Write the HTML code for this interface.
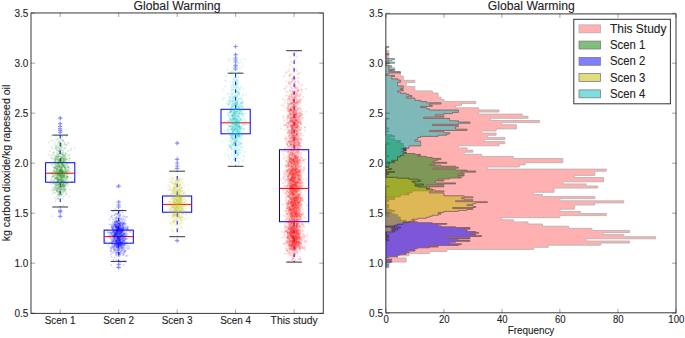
<!DOCTYPE html>
<html><head><meta charset="utf-8"><style>
html,body{margin:0;padding:0;background:#fff;overflow:hidden}
svg{display:block}
text{font-family:"Liberation Sans",sans-serif;fill:#222;stroke:#222;stroke-width:0.1px}
.ti{font-size:12px}
.tk{font-size:10px}
.lg{font-size:12px}
.yl{font-size:10.5px}
</style></head><body>
<svg width="685" height="338" viewBox="0 0 685 338">
<rect width="685" height="338" fill="#fff"/>
<path d="M60.2 162.7V135.1M60.2 182.2V207.0" stroke="#0000ff" stroke-width="1.0" stroke-dasharray="3.6 4.1" stroke-dashoffset="6.7" fill="none"/><path d="M52.3 135.1H68.1M52.3 207.0H68.1" stroke="#000" stroke-opacity="0.8" stroke-width="1.0" fill="none"/><rect x="45.6" y="162.7" width="29.2" height="19.5" stroke="#0000ff" stroke-width="1.0" fill="none"/><path d="M45.6 173.2H74.8" stroke="#ff0000" stroke-width="1.0"/><path d="M58.1 118.1h4.2M60.2 116.0v4.2M58.1 123.6h4.2M60.2 121.5v4.2M58.1 126.3h4.2M60.2 124.2v4.2M58.1 128.9h4.2M60.2 126.8v4.2M58.1 130.7h4.2M60.2 128.6v4.2M58.1 132.5h4.2M60.2 130.4v4.2M58.1 210.7h4.2M60.2 208.6v4.2M58.1 211.9h4.2M60.2 209.8v4.2M58.1 216.3h4.2M60.2 214.2v4.2" stroke="#3030ff" stroke-opacity="0.55" stroke-width="1.2" fill="none"/>
<path d="M118.7 230.1V210.6M118.7 243.2V261.4" stroke="#0000ff" stroke-width="1.0" stroke-dasharray="3.6 4.1" stroke-dashoffset="6.7" fill="none"/><path d="M110.8 210.6H126.6M110.8 261.4H126.6" stroke="#000" stroke-opacity="0.8" stroke-width="1.0" fill="none"/><rect x="104.1" y="230.1" width="29.2" height="13.1" stroke="#0000ff" stroke-width="1.0" fill="none"/><path d="M104.1 236.6H133.3" stroke="#ff0000" stroke-width="1.0"/><path d="M116.6 186.2h4.2M118.7 184.1v4.2M116.6 202.2h4.2M118.7 200.1v4.2M116.6 205.0h4.2M118.7 202.9v4.2M116.6 207.0h4.2M118.7 204.9v4.2M116.6 264.4h4.2M118.7 262.3v4.2M116.6 267.3h4.2M118.7 265.2v4.2" stroke="#3030ff" stroke-opacity="0.55" stroke-width="1.2" fill="none"/>
<path d="M177.2 196.0V171.2M177.2 212.2V236.7" stroke="#0000ff" stroke-width="1.0" stroke-dasharray="3.6 4.1" stroke-dashoffset="6.7" fill="none"/><path d="M169.3 171.2H185.0M169.3 236.7H185.0" stroke="#000" stroke-opacity="0.8" stroke-width="1.0" fill="none"/><rect x="162.5" y="196.0" width="29.2" height="16.2" stroke="#0000ff" stroke-width="1.0" fill="none"/><path d="M162.5 204.4H191.8" stroke="#ff0000" stroke-width="1.0"/><path d="M175.1 143.1h4.2M177.2 141.0v4.2M175.1 159.4h4.2M177.2 157.3v4.2M175.1 163.0h4.2M177.2 160.9v4.2M175.1 166.0h4.2M177.2 163.9v4.2M175.1 168.3h4.2M177.2 166.2v4.2M175.1 240.7h4.2M177.2 238.6v4.2" stroke="#3030ff" stroke-opacity="0.55" stroke-width="1.2" fill="none"/>
<path d="M235.6 109.3V73.2M235.6 133.8V166.3" stroke="#0000ff" stroke-width="1.0" stroke-dasharray="3.6 4.1" stroke-dashoffset="6.7" fill="none"/><path d="M227.7 73.2H243.5M227.7 166.3H243.5" stroke="#000" stroke-opacity="0.8" stroke-width="1.0" fill="none"/><rect x="221.0" y="109.3" width="29.2" height="24.5" stroke="#0000ff" stroke-width="1.0" fill="none"/><path d="M221.0 122.8H250.2" stroke="#ff0000" stroke-width="1.0"/><path d="M233.5 46.5h4.2M235.6 44.4v4.2M233.5 54.7h4.2M235.6 52.6v4.2M233.5 58.0h4.2M235.6 55.9v4.2M233.5 60.0h4.2M235.6 57.9v4.2M233.5 62.0h4.2M235.6 59.9v4.2M233.5 65.3h4.2M235.6 63.2v4.2M233.5 67.0h4.2M235.6 64.9v4.2M233.5 69.0h4.2M235.6 66.9v4.2" stroke="#3030ff" stroke-opacity="0.55" stroke-width="1.2" fill="none"/>
<path d="M294.1 149.7V50.7M294.1 221.7V262.1" stroke="#0000ff" stroke-width="1.0" stroke-dasharray="3.6 4.1" stroke-dashoffset="6.7" fill="none"/><path d="M286.2 50.7H302.0M286.2 262.1H302.0" stroke="#000" stroke-opacity="0.8" stroke-width="1.0" fill="none"/><rect x="279.5" y="149.7" width="29.2" height="72.0" stroke="#0000ff" stroke-width="1.0" fill="none"/><path d="M279.5 188.4H308.7" stroke="#ff0000" stroke-width="1.0"/>
<g stroke="#008000" stroke-opacity="0.15" stroke-width="1.9" stroke-linecap="round" fill="none"><path d="M64.9 160.7h0M68.1 169.3h0M59.5 170.9h0M64.7 169.9h0M63.6 172.1h0M56.3 162.5h0M56.3 146.5h0M59.7 194.4h0M58.6 182.2h0M55.7 156.8h0M57.5 183.1h0M55.5 186.9h0M62.4 170.7h0M61.4 171.2h0M57.8 147.5h0M58.1 188.5h0M61.3 183.3h0M61.0 173.4h0M63.7 189.6h0M51.7 158.3h0M67.6 166.9h0M56.5 177.8h0M55.1 173.4h0M66.2 179.2h0M63.5 171.2h0M64.8 171.9h0M64.5 175.7h0M58.1 154.3h0M60.7 171.5h0M62.0 186.8h0M57.2 168.7h0M67.4 170.8h0M54.4 188.7h0M66.5 161.4h0M60.5 173.8h0M57.4 150.2h0M54.8 192.8h0"/><path d="M61.7 194.4h0M48.4 155.2h0M58.4 190.1h0M65.6 163.5h0M57.9 174.1h0M62.7 170.1h0M61.4 156.7h0M58.5 191.6h0M58.8 166.2h0M52.9 190.5h0M63.8 192.8h0M54.8 188.4h0M58.2 148.5h0M49.9 151.1h0M60.5 170.1h0M53.3 152.8h0M64.0 159.0h0M61.2 192.7h0M58.1 184.9h0M57.7 163.1h0M64.3 159.5h0M59.1 160.2h0M60.0 167.1h0M61.4 166.9h0M51.0 172.6h0M53.8 186.6h0M59.8 153.5h0M59.3 171.2h0M55.6 178.5h0M56.0 167.9h0M62.8 198.8h0M59.6 166.8h0M52.7 176.5h0M61.9 167.3h0M58.7 167.6h0M60.0 175.8h0M63.8 161.9h0"/><path d="M57.5 166.2h0M65.2 179.7h0M64.7 168.0h0M55.0 178.9h0M69.9 189.5h0M58.4 175.1h0M51.7 146.6h0M60.8 161.6h0M68.2 167.9h0M61.5 187.1h0M68.0 142.6h0M64.4 142.3h0M63.6 180.2h0M63.6 205.5h0M67.2 163.9h0M67.2 177.6h0M59.1 170.9h0M58.7 173.2h0M56.9 192.1h0M61.6 161.7h0M55.6 155.6h0M63.1 180.2h0M67.8 169.9h0M55.1 144.9h0M53.9 171.6h0M63.6 172.2h0M60.7 161.2h0M56.9 169.5h0M52.5 183.5h0M61.1 177.0h0M50.0 173.5h0M61.1 206.7h0M54.4 167.3h0M62.3 169.0h0M55.2 162.4h0M57.9 154.0h0M53.6 158.8h0"/><path d="M55.3 177.6h0M53.2 162.0h0M54.5 176.0h0M63.7 165.7h0M57.0 159.5h0M65.6 185.5h0M60.2 180.3h0M59.1 151.8h0M62.8 164.7h0M63.4 191.3h0M62.9 166.2h0M58.5 163.4h0M65.0 168.0h0M67.4 173.9h0M64.0 186.0h0M64.9 172.3h0M59.4 186.7h0M59.1 188.6h0M62.2 175.1h0M60.2 169.4h0M66.7 173.2h0M56.7 172.1h0M65.0 167.8h0M57.4 172.7h0M58.7 180.3h0M59.4 193.2h0M66.2 171.0h0M59.3 194.6h0M64.1 176.7h0M59.7 170.2h0M63.3 162.3h0M62.7 175.1h0M59.6 160.3h0M58.9 151.2h0M58.8 186.9h0M56.2 148.5h0M59.9 174.3h0"/><path d="M62.3 171.1h0M56.6 183.1h0M61.1 184.3h0M60.7 172.5h0M59.0 193.5h0M52.5 174.3h0M61.9 163.5h0M59.1 161.6h0M52.6 188.2h0M59.3 180.1h0M58.9 184.5h0M57.1 196.6h0M67.2 183.0h0M54.1 152.2h0M55.7 185.3h0M63.8 188.2h0M64.6 147.9h0M59.3 190.5h0M63.4 182.1h0M60.6 187.8h0M60.0 190.4h0M63.6 176.4h0M55.1 160.7h0M57.9 194.5h0M56.4 135.9h0M62.6 169.8h0M57.0 166.2h0M58.2 181.0h0M60.8 176.0h0M57.7 178.9h0M58.3 198.6h0M55.6 163.3h0M62.3 189.9h0M57.5 158.6h0M53.5 174.5h0M62.9 180.7h0M55.4 168.4h0"/><path d="M64.9 186.6h0M58.8 188.2h0M59.0 150.5h0M55.5 168.0h0M65.0 168.7h0M55.5 156.6h0M57.7 189.7h0M61.5 175.7h0M66.2 156.6h0M60.7 145.9h0M57.8 159.8h0M59.2 174.4h0M61.4 181.0h0M61.3 180.7h0M68.1 167.1h0M62.9 154.4h0M65.3 156.1h0M55.8 147.0h0M58.0 198.9h0M57.3 191.4h0M62.7 189.5h0M68.7 170.9h0M62.0 178.6h0M52.6 177.1h0M63.1 164.2h0M60.4 180.1h0M59.6 149.6h0M59.8 196.1h0M64.2 165.5h0M65.6 178.1h0M61.8 146.6h0M58.5 162.8h0M58.8 179.9h0M51.7 216.2h0M63.7 173.4h0M60.2 140.7h0M59.6 172.5h0"/><path d="M54.6 197.8h0M58.0 165.5h0M53.5 176.5h0M67.4 134.9h0M68.1 166.4h0M60.8 183.8h0M62.6 162.4h0M60.2 159.0h0M60.7 146.6h0M67.4 171.6h0M59.8 162.3h0M62.4 194.3h0M64.6 166.2h0M60.7 181.8h0M55.6 167.0h0M60.2 148.5h0M58.9 173.8h0M68.3 143.4h0M65.9 167.2h0M67.9 176.7h0M64.9 166.5h0M66.2 168.2h0M58.3 162.2h0M58.7 160.6h0M61.9 185.5h0M62.4 179.7h0M63.1 155.1h0M64.1 159.5h0M55.8 177.9h0M60.2 187.0h0M61.5 195.2h0M63.4 179.8h0M62.8 177.9h0M55.4 178.4h0M57.1 179.2h0M63.1 165.7h0M56.9 178.2h0"/><path d="M59.1 151.7h0M64.7 181.1h0M54.8 178.4h0M62.6 176.1h0M55.8 165.1h0M66.2 145.0h0M61.1 167.9h0M57.5 177.8h0M61.8 172.1h0M61.8 164.7h0M61.5 169.8h0M51.7 180.1h0M67.8 177.2h0M56.2 188.9h0M63.6 181.3h0M56.5 177.7h0M58.7 163.4h0M64.3 170.5h0M63.0 141.4h0M68.0 151.0h0M66.1 164.9h0M67.9 155.4h0M64.7 161.8h0M61.5 175.2h0M60.9 156.9h0M66.4 177.6h0M60.8 178.9h0M60.1 145.7h0M60.4 170.2h0M52.8 155.1h0M63.8 170.8h0M64.7 184.6h0M69.2 155.8h0M56.4 166.1h0M62.5 186.4h0M58.9 182.6h0M59.8 188.6h0"/><path d="M66.4 169.2h0M65.4 188.8h0M61.5 180.7h0M64.4 174.8h0M65.5 159.6h0M55.8 182.3h0M55.7 171.9h0M62.9 158.4h0M66.2 169.5h0M63.0 140.7h0M58.8 187.8h0M62.1 179.6h0M56.9 176.8h0M59.9 189.9h0M62.7 175.2h0M55.2 201.4h0M62.8 184.4h0M65.1 154.6h0M59.9 167.1h0M57.9 179.3h0M60.8 162.9h0M63.7 178.9h0M56.4 156.6h0M63.5 165.6h0M62.9 185.0h0M63.6 187.6h0M59.5 175.9h0M62.6 173.1h0M62.0 147.5h0M55.6 162.1h0M69.0 196.4h0M58.5 180.9h0M60.8 158.9h0M57.4 175.6h0M63.5 196.6h0M62.3 150.8h0M61.8 145.4h0"/><path d="M55.5 159.1h0M61.0 159.7h0M59.4 164.7h0M53.5 183.2h0M59.3 168.4h0M55.3 174.7h0M59.6 160.5h0M59.2 166.4h0M55.9 184.4h0M56.2 178.7h0M64.9 167.1h0M60.4 165.4h0M62.4 174.2h0M68.1 186.2h0M57.4 194.5h0M61.5 171.8h0M59.7 190.2h0M59.3 173.7h0M61.8 177.3h0M61.3 171.2h0M66.0 159.3h0M64.9 183.4h0M59.5 176.5h0M59.1 175.7h0M56.9 152.6h0M65.3 158.2h0M54.1 190.2h0M59.1 186.1h0M61.2 161.3h0M57.0 176.9h0M57.3 172.2h0M64.2 156.6h0M61.1 172.3h0M62.0 136.2h0M66.9 175.8h0M62.6 185.6h0M63.8 152.2h0"/><path d="M59.9 173.3h0M57.6 172.4h0M60.2 162.5h0M57.3 185.2h0M63.6 165.8h0M60.6 167.9h0M60.9 172.7h0M59.6 191.7h0M64.2 166.7h0M61.4 181.5h0M64.2 177.8h0M54.9 172.5h0M59.5 141.4h0M61.7 182.9h0M58.0 187.3h0M62.0 185.6h0M54.5 167.4h0M62.4 177.7h0M55.4 172.9h0M74.8 148.2h0M61.6 170.4h0M65.6 165.6h0M59.9 177.6h0M60.1 179.6h0M62.9 171.3h0M55.5 171.8h0M60.9 118.3h0M61.9 159.2h0M54.3 162.7h0M58.7 175.8h0M60.8 160.5h0M58.0 142.7h0M59.9 159.9h0M64.1 177.6h0M62.8 185.0h0M61.0 144.2h0M60.9 158.0h0"/><path d="M62.1 188.8h0M58.1 163.1h0M56.2 168.0h0M56.7 170.8h0M64.4 189.3h0M55.8 167.0h0M54.9 170.9h0M51.7 157.7h0M58.0 175.1h0M58.6 156.4h0M51.5 190.4h0M62.3 171.9h0M56.1 139.6h0M58.9 173.8h0M62.3 173.2h0M60.2 175.5h0M56.6 158.1h0M56.5 173.1h0M60.0 178.6h0M63.1 187.5h0M59.9 166.1h0M56.7 168.8h0M61.2 180.1h0M59.0 178.8h0M65.6 160.0h0M58.2 182.1h0M61.6 189.7h0M57.2 167.8h0M57.7 181.4h0M63.1 160.8h0M59.1 174.2h0M62.9 163.6h0M63.8 184.6h0M60.4 169.5h0M58.8 180.5h0M61.7 179.9h0M59.7 156.6h0"/><path d="M61.1 188.9h0M68.9 170.8h0M59.2 184.0h0M58.0 189.0h0M52.3 193.7h0M59.2 192.5h0M60.4 187.6h0M61.1 169.1h0M65.0 167.2h0M61.8 177.6h0M63.7 182.1h0M60.5 164.3h0M62.3 176.8h0M61.6 184.7h0M57.8 179.3h0M70.8 177.8h0M57.5 182.5h0M56.8 165.4h0M59.4 169.8h0M57.9 170.4h0M59.5 172.7h0M62.8 176.1h0M56.1 198.7h0M62.4 165.3h0M60.0 187.4h0M65.2 190.4h0M60.5 175.1h0M67.3 183.5h0M61.0 144.7h0M60.7 184.2h0M63.2 139.9h0M51.1 180.8h0M65.0 143.7h0M70.7 150.3h0M62.0 170.0h0M52.0 176.4h0M60.7 158.5h0"/><path d="M64.6 156.0h0M62.2 164.7h0M67.9 166.7h0M58.0 166.8h0M60.7 181.0h0M54.0 175.9h0M59.5 170.2h0M54.1 183.2h0M65.9 176.4h0M60.6 171.4h0M53.5 140.8h0M63.6 183.0h0M60.4 143.4h0M60.1 174.6h0M63.0 171.4h0M66.3 192.7h0M61.1 159.2h0M61.7 173.3h0M65.3 162.8h0M57.4 191.1h0M59.1 164.9h0M55.3 183.0h0M65.8 153.7h0M69.9 158.5h0M50.7 155.6h0M59.8 169.8h0M56.6 164.6h0M63.3 186.5h0M64.3 186.3h0M63.2 154.3h0M54.6 171.1h0M56.2 164.2h0M63.8 177.0h0M60.8 148.9h0M60.6 174.3h0M63.0 153.1h0M52.0 162.5h0"/><path d="M62.5 191.9h0M65.4 171.6h0M61.3 179.0h0M52.1 178.5h0M71.1 148.8h0M70.1 171.8h0M66.4 164.8h0M60.2 175.9h0M57.4 179.7h0M63.9 155.4h0M64.1 191.5h0M63.6 186.1h0M61.0 177.0h0M69.6 158.2h0M61.0 143.7h0M58.1 162.0h0M56.5 156.3h0M58.5 173.7h0M57.3 189.8h0M64.8 155.2h0M55.5 142.9h0M63.3 160.2h0M63.4 174.8h0M59.4 147.8h0M62.5 181.5h0M66.5 177.0h0M67.8 174.3h0M62.3 140.1h0M61.4 139.0h0M59.8 171.3h0M65.1 182.7h0M54.2 180.3h0M53.1 174.3h0M64.5 186.5h0M61.2 149.9h0M60.8 178.3h0M67.5 158.9h0"/><path d="M58.9 177.7h0M64.4 144.4h0M55.7 176.4h0M55.8 173.4h0M61.2 188.3h0M52.4 148.7h0M59.1 195.1h0M63.4 157.8h0M58.7 194.3h0M66.3 182.3h0M63.1 173.0h0M63.0 167.2h0M55.3 162.0h0M61.5 163.3h0M63.8 172.5h0M64.6 173.2h0M62.7 172.2h0M59.1 161.3h0M61.8 169.7h0M62.1 156.1h0M63.2 183.9h0M57.7 183.3h0M57.7 174.3h0M58.8 183.5h0M63.4 165.5h0M61.0 188.6h0M61.1 186.9h0M66.0 183.5h0M65.9 173.3h0M53.5 170.0h0M64.5 185.0h0M60.0 190.2h0M62.6 174.8h0M70.2 168.4h0M67.8 172.7h0M65.2 147.4h0M51.4 135.7h0"/><path d="M54.8 158.1h0M55.7 161.2h0M61.2 154.5h0M58.2 128.3h0M58.8 178.3h0M61.5 174.1h0M59.7 192.1h0M65.9 172.2h0M61.5 171.6h0M64.5 189.6h0M67.8 163.3h0M66.2 183.4h0M57.2 184.5h0M61.6 179.7h0M63.6 184.5h0M63.1 176.2h0M61.6 168.2h0M67.9 184.0h0M63.4 159.4h0M55.8 174.9h0M63.4 163.4h0M64.4 171.5h0M54.7 160.8h0M65.8 154.1h0M67.8 183.1h0M58.4 178.1h0M60.5 142.7h0M57.9 172.3h0M58.3 195.9h0M61.6 181.1h0M66.8 159.2h0M62.5 165.8h0M66.8 171.3h0M56.7 169.3h0M53.1 171.7h0M59.3 152.0h0M57.2 157.0h0"/><path d="M62.4 156.9h0M62.6 163.6h0M55.6 159.7h0M60.7 179.8h0M58.9 151.3h0M55.8 186.7h0M63.3 167.4h0M58.6 159.4h0M65.3 153.1h0M50.9 140.2h0M61.4 181.7h0M64.5 174.9h0M57.4 163.8h0M57.2 173.9h0M65.8 169.4h0M65.4 195.0h0M60.7 146.5h0M57.7 187.8h0M57.4 177.8h0M59.6 149.6h0M64.0 190.1h0M57.0 166.6h0M63.0 172.0h0M63.8 148.7h0M55.5 166.3h0M58.6 176.8h0M57.5 139.6h0M58.0 182.0h0M59.3 161.7h0M61.0 171.0h0M56.6 190.7h0M66.6 182.4h0M61.9 178.3h0M63.5 150.3h0M58.3 164.8h0M58.0 180.2h0M57.4 169.5h0"/><path d="M60.1 179.8h0M61.8 189.5h0M57.6 185.2h0M53.0 164.9h0M54.0 182.9h0M66.6 162.7h0M56.7 188.0h0M60.7 176.1h0M63.8 160.5h0M55.0 158.8h0M60.7 186.4h0M59.4 170.2h0M69.5 154.5h0M54.7 159.8h0M60.2 177.1h0M59.4 170.4h0M66.1 172.5h0M57.0 180.7h0M58.6 171.0h0M62.8 185.0h0M64.3 176.2h0M59.8 167.0h0M63.5 177.4h0M62.6 182.6h0M59.4 183.5h0M69.0 167.3h0M62.1 183.5h0M61.4 166.2h0M67.8 176.8h0M59.7 155.7h0M57.8 138.4h0M58.9 165.6h0M65.3 191.2h0M56.6 174.4h0M60.0 153.4h0M61.8 191.6h0M66.8 173.7h0"/><path d="M60.7 185.2h0M53.2 167.5h0M60.7 167.4h0M69.1 160.5h0M57.5 179.4h0M61.1 174.9h0M61.9 171.8h0M65.9 178.7h0M62.6 161.2h0M65.4 175.0h0M60.5 171.2h0M68.1 179.2h0M62.1 167.4h0M53.9 189.9h0M61.1 193.7h0M64.0 185.9h0M61.7 186.8h0M65.1 167.4h0M54.4 192.6h0M59.3 171.8h0M63.0 158.2h0M63.1 183.1h0M51.8 172.3h0M62.2 183.2h0M64.4 178.6h0M59.5 179.9h0M55.4 148.4h0M60.7 192.7h0M54.9 184.5h0M60.8 186.8h0M57.5 160.0h0M65.4 177.0h0M66.0 158.1h0M51.7 164.6h0M62.3 182.0h0M52.5 173.8h0M64.6 159.5h0"/><path d="M64.1 175.7h0M58.5 158.3h0M65.7 188.7h0M65.7 181.6h0M60.3 173.7h0M59.7 183.4h0M58.8 184.8h0M61.1 189.5h0M61.1 175.7h0M59.6 163.4h0M59.2 142.3h0M62.9 173.6h0M58.6 156.6h0M61.1 166.0h0M61.3 176.6h0M46.6 177.6h0M61.5 160.9h0M57.8 168.4h0M55.7 184.2h0M60.4 160.4h0M64.4 158.0h0M59.6 165.6h0M60.5 195.1h0M60.8 195.5h0M71.9 181.6h0M57.2 162.9h0M58.5 159.2h0M54.4 168.6h0M63.6 162.4h0M67.0 180.1h0M54.1 167.6h0M64.4 181.0h0M57.6 176.0h0M59.0 163.5h0M66.5 145.0h0M61.1 170.9h0M63.5 184.3h0"/><path d="M56.5 157.3h0M62.1 163.2h0M58.7 198.2h0M56.5 190.4h0M66.8 176.1h0M50.6 183.5h0M71.9 181.1h0M58.6 191.9h0M62.7 182.1h0M62.4 175.9h0M58.1 173.0h0M57.2 185.6h0M64.5 174.6h0M61.5 158.2h0M58.8 155.1h0M66.8 176.6h0M56.4 171.1h0M62.5 162.0h0M61.4 186.3h0M60.5 159.3h0M61.3 177.7h0M53.8 154.4h0M64.1 182.9h0M57.9 157.3h0M64.3 164.6h0M56.2 174.5h0M55.4 159.3h0M66.8 194.2h0M61.5 152.5h0M60.8 169.1h0M61.9 171.7h0M56.6 148.8h0M63.6 175.8h0M59.3 143.9h0M57.9 174.6h0M56.2 184.2h0"/><path d="M60.3 175.2h0M58.4 146.3h0M57.4 175.5h0M58.1 162.1h0M58.8 154.4h0M53.7 163.2h0M65.5 171.4h0M61.5 161.1h0M58.4 167.3h0M57.6 155.8h0M61.1 131.2h0M57.0 145.1h0M55.6 189.5h0M60.8 175.7h0M57.8 163.7h0M61.8 164.1h0M60.9 169.8h0M49.0 142.6h0M60.8 173.0h0M56.5 190.8h0M61.3 154.0h0M56.9 170.7h0M60.8 193.4h0M61.9 158.9h0M62.8 156.3h0M65.4 169.9h0M56.1 169.1h0M62.4 136.9h0M61.5 160.8h0M60.7 169.5h0M65.7 189.5h0M57.4 178.7h0M63.9 187.2h0M66.5 136.1h0M59.3 166.6h0M55.0 169.0h0"/><path d="M61.4 167.6h0M60.9 184.1h0M69.1 162.7h0M63.7 158.3h0M66.0 185.5h0M61.5 170.4h0M62.1 143.8h0M59.4 171.5h0M58.3 156.7h0M54.3 170.8h0M59.1 185.9h0M62.1 173.9h0M62.2 153.2h0M57.6 181.1h0M62.7 181.6h0M57.3 170.8h0M61.4 158.2h0M63.9 157.5h0M62.3 171.8h0M61.6 162.6h0M53.6 180.9h0M56.9 186.6h0M57.2 182.1h0M56.8 150.6h0M64.1 161.2h0M63.6 180.4h0M59.8 169.5h0M56.9 154.5h0M62.6 154.7h0M55.3 187.2h0M56.3 188.3h0M56.5 159.7h0M58.0 168.3h0M54.0 172.7h0M55.4 164.7h0M61.1 177.2h0"/></g>
<g stroke="#0000ff" stroke-opacity="0.18" stroke-width="1.9" stroke-linecap="round" fill="none"><path d="M114.9 249.7h0M120.1 233.3h0M124.7 237.1h0M118.2 246.9h0M115.2 232.5h0M118.6 238.3h0M117.2 226.9h0M119.6 225.4h0M115.9 230.7h0M120.2 261.7h0M114.0 231.4h0M124.3 227.5h0M118.9 223.4h0M124.8 242.8h0M121.3 235.8h0M113.9 249.3h0M119.7 217.1h0M120.5 244.9h0M116.8 231.5h0M116.7 229.9h0M118.0 247.2h0M118.5 240.5h0M117.8 232.7h0M117.4 243.2h0M119.3 233.8h0M124.7 241.8h0M108.4 245.5h0M120.5 235.8h0M121.2 232.9h0M117.1 230.1h0M116.8 237.7h0M122.3 247.9h0M118.3 242.8h0M118.0 228.3h0M117.0 186.7h0M113.8 246.3h0M121.9 231.8h0M113.4 259.9h0M112.4 247.4h0"/><path d="M116.2 235.4h0M119.4 226.7h0M120.3 240.3h0M112.5 223.9h0M114.6 249.8h0M123.9 246.0h0M122.7 227.5h0M120.8 236.4h0M107.9 232.3h0M128.8 236.6h0M124.0 244.4h0M118.1 224.4h0M117.0 241.8h0M120.3 229.7h0M117.2 236.6h0M118.0 238.7h0M118.0 250.3h0M115.7 231.7h0M123.9 246.8h0M119.5 239.6h0M116.6 240.9h0M113.9 235.1h0M117.5 231.4h0M120.9 219.7h0M117.9 236.6h0M120.8 244.8h0M117.0 228.2h0M119.4 242.8h0M114.6 257.5h0M122.1 230.3h0M124.3 240.1h0M116.7 231.1h0M116.8 243.2h0M113.1 228.9h0M121.0 233.8h0M118.4 231.7h0M116.4 218.8h0M115.3 222.5h0M115.2 226.4h0"/><path d="M122.9 247.9h0M119.8 231.7h0M114.8 224.8h0M121.7 232.3h0M120.8 242.3h0M115.4 227.6h0M114.7 232.7h0M122.2 238.5h0M121.8 228.6h0M121.0 233.3h0M113.5 228.6h0M119.2 253.7h0M120.2 230.9h0M119.8 243.0h0M117.9 243.7h0M121.2 233.3h0M110.1 232.3h0M117.5 243.2h0M110.7 232.7h0M120.5 242.0h0M116.1 250.1h0M119.1 231.4h0M119.5 254.3h0M122.1 224.8h0M123.5 254.0h0M119.1 243.7h0M116.0 238.7h0M120.3 236.9h0M123.3 229.3h0M109.5 224.4h0M115.0 247.8h0M115.8 239.7h0M114.1 236.4h0M124.7 219.1h0M123.6 234.9h0M118.3 237.4h0M119.9 237.6h0M122.9 244.9h0M119.8 223.9h0"/><path d="M114.7 238.5h0M114.1 226.6h0M116.6 226.7h0M115.3 235.6h0M119.8 247.7h0M116.3 221.0h0M123.9 240.0h0M122.0 235.9h0M117.7 226.4h0M124.9 251.2h0M119.1 220.5h0M121.3 218.0h0M115.1 246.7h0M120.1 246.1h0M115.6 232.9h0M118.2 228.0h0M124.6 240.2h0M120.3 231.7h0M119.2 231.4h0M115.8 224.9h0M115.2 224.5h0M125.5 242.1h0M115.5 244.4h0M119.7 225.2h0M124.3 222.3h0M115.8 241.3h0M118.6 229.1h0M120.1 245.8h0M123.2 229.1h0M119.9 246.1h0M117.9 239.8h0M116.0 233.5h0M119.3 240.2h0M121.1 232.1h0M114.8 223.1h0M119.2 236.7h0M122.1 229.0h0M120.1 254.6h0M120.6 225.6h0"/><path d="M122.6 226.3h0M116.5 246.4h0M112.9 231.9h0M111.0 239.0h0M121.3 235.6h0M114.0 251.2h0M123.0 223.8h0M118.1 238.3h0M111.8 235.0h0M116.2 225.0h0M120.1 232.1h0M116.5 217.4h0M115.5 242.4h0M115.4 243.4h0M116.7 244.5h0M117.6 236.8h0M120.2 243.7h0M115.9 240.2h0M114.7 243.7h0M128.0 226.5h0M119.8 253.5h0M123.8 234.5h0M114.4 226.3h0M118.8 212.9h0M127.2 255.6h0M116.2 226.8h0M119.7 228.1h0M126.1 238.4h0M114.4 236.5h0M120.4 231.4h0M118.3 227.8h0M121.7 245.6h0M119.3 237.6h0M115.4 239.2h0M118.6 245.7h0M115.0 222.1h0M118.0 235.4h0M114.0 224.0h0M114.3 234.3h0"/><path d="M120.2 236.9h0M117.3 236.0h0M120.7 239.8h0M124.5 244.9h0M118.2 228.5h0M116.9 233.2h0M119.2 234.9h0M120.1 245.3h0M121.1 236.6h0M120.7 225.6h0M118.9 248.6h0M117.3 227.6h0M125.6 261.6h0M118.8 227.4h0M130.1 232.0h0M116.4 240.3h0M123.7 240.8h0M120.3 230.5h0M119.9 223.6h0M116.6 233.8h0M113.5 246.9h0M111.7 242.6h0M118.9 238.7h0M122.0 229.3h0M114.2 230.6h0M116.4 243.2h0M120.6 227.9h0M113.5 236.1h0M119.4 256.6h0M113.5 239.1h0M125.8 243.8h0M114.7 234.6h0M121.1 245.7h0M111.5 248.7h0M115.5 226.1h0M120.3 243.6h0M118.7 224.3h0M120.5 222.9h0M119.6 236.2h0"/><path d="M111.1 216.7h0M119.6 226.0h0M127.1 227.7h0M115.3 224.6h0M124.7 250.2h0M117.9 223.8h0M117.8 244.6h0M126.5 231.5h0M118.5 237.6h0M118.4 244.3h0M117.2 246.8h0M122.6 230.9h0M110.6 232.7h0M120.1 237.0h0M123.6 228.8h0M115.0 218.1h0M120.5 231.6h0M120.7 224.1h0M120.8 242.1h0M114.0 241.6h0M123.4 236.7h0M115.3 235.0h0M119.6 229.1h0M121.7 243.4h0M123.3 216.3h0M119.3 232.4h0M118.3 228.4h0M116.3 234.2h0M124.7 236.4h0M118.2 227.9h0M118.1 238.8h0M118.5 231.8h0M114.8 238.5h0M116.5 221.3h0M119.5 241.3h0M122.0 210.0h0M111.8 240.4h0M121.0 233.5h0M115.3 244.0h0"/><path d="M129.0 248.5h0M117.9 241.3h0M114.3 240.0h0M111.2 227.3h0M118.4 244.1h0M120.4 241.1h0M112.9 241.0h0M111.1 233.5h0M123.5 235.2h0M121.0 235.9h0M121.3 226.9h0M119.4 239.8h0M120.3 241.6h0M124.5 226.6h0M119.0 249.6h0M120.8 235.9h0M121.5 230.0h0M117.1 241.6h0M112.1 227.1h0M116.7 230.2h0M126.2 235.9h0M123.6 223.4h0M118.8 246.6h0M117.6 247.3h0M106.9 230.3h0M117.0 213.3h0M119.1 248.9h0M118.8 217.9h0M127.6 245.5h0M121.7 231.3h0M124.6 220.6h0M120.9 244.2h0M118.8 233.5h0M117.9 231.6h0M117.9 242.9h0M115.9 253.1h0M117.2 237.8h0M115.8 228.0h0M116.5 259.4h0"/><path d="M119.7 236.5h0M122.0 234.5h0M121.7 238.1h0M116.3 226.5h0M118.4 236.8h0M117.9 245.0h0M123.0 229.4h0M119.2 229.4h0M117.6 232.3h0M121.0 234.5h0M121.2 235.0h0M119.4 245.3h0M118.4 248.6h0M119.5 223.3h0M122.4 239.3h0M116.0 241.4h0M115.3 251.6h0M121.1 246.8h0M119.9 233.1h0M112.9 231.5h0M123.7 245.3h0M115.1 222.0h0M118.0 236.8h0M126.2 243.2h0M119.1 230.4h0M117.3 230.3h0M120.6 242.5h0M122.7 219.5h0M113.9 233.1h0M120.1 246.1h0M124.4 261.3h0M117.6 233.3h0M119.6 237.1h0M115.3 229.3h0M127.1 242.1h0M120.2 234.0h0M116.9 245.4h0M121.6 231.5h0M121.4 238.7h0"/><path d="M117.8 252.8h0M117.2 244.2h0M115.6 234.6h0M117.5 236.0h0M111.9 234.8h0M122.3 222.7h0M119.8 239.2h0M123.6 237.7h0M118.6 250.1h0M112.2 217.7h0M115.7 219.0h0M122.2 232.4h0M111.7 246.3h0M117.5 227.4h0M126.5 235.0h0M111.8 234.1h0M117.6 244.0h0M118.1 230.8h0M117.6 239.3h0M119.7 240.6h0M117.4 252.1h0M117.5 236.2h0M124.4 241.8h0M122.2 244.8h0M117.2 244.8h0M119.5 228.8h0M123.7 224.6h0M126.2 226.3h0M119.8 234.5h0M117.2 233.9h0M123.4 244.8h0M115.9 231.9h0M124.7 234.1h0M113.7 241.3h0M116.5 241.6h0M124.4 216.5h0M117.7 218.2h0M117.1 225.2h0M119.7 221.6h0"/><path d="M121.0 242.7h0M121.0 219.3h0M112.1 243.8h0M118.8 229.9h0M121.9 221.9h0M118.0 240.0h0M117.6 222.5h0M122.6 231.3h0M114.3 234.7h0M124.8 236.6h0M120.8 245.7h0M117.2 248.3h0M121.7 228.2h0M119.5 227.9h0M118.8 247.0h0M125.3 248.1h0M118.4 230.6h0M113.0 227.9h0M119.6 221.6h0M115.1 214.7h0M118.1 247.7h0M125.6 229.0h0M110.4 250.8h0M117.1 233.1h0M124.3 224.6h0M111.3 265.3h0M115.9 225.9h0M117.3 209.9h0M112.3 227.0h0M113.8 226.5h0M122.9 224.3h0M113.0 245.5h0M123.2 249.7h0M122.3 232.1h0M119.4 244.7h0M118.1 215.0h0M120.4 215.6h0M117.0 236.0h0M114.1 244.3h0"/><path d="M113.4 225.8h0M116.3 230.6h0M122.9 225.2h0M115.6 224.1h0M123.8 230.7h0M118.4 221.3h0M120.8 241.5h0M120.3 235.6h0M115.9 241.0h0M120.9 231.7h0M119.1 250.4h0M118.5 230.1h0M119.8 224.6h0M122.9 233.4h0M123.0 231.3h0M117.2 228.4h0M125.7 250.7h0M124.0 236.3h0M119.4 238.4h0M117.8 242.8h0M121.8 226.1h0M122.9 242.6h0M120.5 232.6h0M113.5 236.2h0M123.6 227.7h0M121.7 253.1h0M118.5 226.8h0M127.5 248.8h0M121.8 233.0h0M116.6 217.0h0M110.3 236.6h0M118.8 249.1h0M124.5 233.6h0M126.3 256.0h0M119.1 225.1h0M118.8 218.7h0M127.5 229.7h0M113.0 239.1h0M120.6 236.0h0"/><path d="M113.6 248.9h0M114.5 223.0h0M121.6 239.1h0M114.4 229.9h0M122.2 243.3h0M114.2 223.7h0M114.0 230.4h0M117.8 237.7h0M117.5 240.9h0M112.6 242.2h0M125.0 245.1h0M123.1 218.6h0M127.1 238.6h0M123.4 236.3h0M121.7 242.4h0M123.5 241.0h0M112.9 252.9h0M116.9 240.3h0M122.4 236.2h0M117.9 240.6h0M119.4 229.8h0M115.1 232.7h0M120.6 234.5h0M119.0 242.9h0M115.5 235.2h0M121.5 239.2h0M117.5 232.3h0M113.7 232.1h0M120.2 235.1h0M120.0 238.4h0M121.5 244.5h0M117.0 230.2h0M120.3 225.3h0M117.3 246.0h0M116.1 233.4h0M120.9 242.7h0M110.8 242.3h0M117.2 244.1h0M118.6 228.1h0"/><path d="M112.7 229.3h0M114.3 235.9h0M124.4 244.5h0M120.2 228.9h0M119.6 224.0h0M120.0 254.1h0M114.6 220.8h0M117.1 229.4h0M115.6 245.1h0M115.7 232.6h0M117.6 238.5h0M119.9 215.2h0M119.0 243.2h0M120.9 231.5h0M113.0 210.9h0M122.2 237.4h0M117.4 243.7h0M121.0 228.6h0M120.9 228.4h0M125.9 217.1h0M121.4 229.5h0M130.2 230.7h0M121.3 250.5h0M117.3 245.3h0M118.4 244.9h0M122.9 229.0h0M111.8 252.0h0M113.6 238.7h0M123.8 253.0h0M119.4 239.6h0M114.0 237.6h0M123.3 228.8h0M116.0 226.8h0M115.0 224.7h0M123.5 249.0h0M122.8 246.4h0M118.5 240.4h0M117.9 233.4h0M112.0 225.6h0"/><path d="M123.2 225.8h0M117.6 213.6h0M118.8 238.7h0M117.2 220.7h0M120.3 210.6h0M129.1 246.8h0M125.5 232.7h0M124.8 233.8h0M114.6 246.3h0M116.3 225.5h0M117.6 231.0h0M122.6 224.0h0M120.3 241.8h0M122.1 246.0h0M111.8 226.9h0M115.7 241.5h0M118.0 228.9h0M116.3 252.4h0M122.9 242.7h0M121.8 239.4h0M119.7 211.3h0M119.1 245.1h0M112.7 246.9h0M114.6 240.8h0M112.0 238.0h0M121.6 223.8h0M121.0 222.5h0M118.9 240.2h0M123.1 260.7h0M108.2 232.4h0M105.6 241.3h0M119.4 240.4h0M115.2 248.6h0M115.6 213.9h0M111.9 228.7h0M120.7 230.0h0M120.5 244.0h0M112.5 237.9h0M115.8 234.7h0"/><path d="M113.7 234.9h0M122.5 238.1h0M121.1 230.8h0M123.2 227.0h0M114.1 227.3h0M125.2 239.6h0M121.5 231.0h0M121.8 235.6h0M119.1 241.7h0M118.1 251.9h0M122.7 250.2h0M125.4 239.2h0M121.4 223.3h0M119.2 220.6h0M118.4 231.1h0M116.3 232.8h0M113.7 231.3h0M122.2 243.4h0M113.2 219.6h0M123.8 247.6h0M120.9 244.1h0M118.7 234.9h0M116.3 245.2h0M114.2 215.4h0M115.7 235.7h0M114.9 225.1h0M117.7 228.7h0M126.8 247.1h0M118.4 223.7h0M114.6 232.7h0M118.5 234.4h0M121.4 247.7h0M110.6 235.6h0M111.2 224.7h0M117.5 267.3h0M118.6 234.4h0M112.8 233.5h0M113.4 226.9h0M117.0 222.2h0"/><path d="M119.8 233.9h0M113.3 232.9h0M116.8 241.0h0M118.1 256.4h0M122.2 234.7h0M117.3 214.3h0M113.1 236.7h0M116.9 228.6h0M112.2 241.6h0M120.5 247.1h0M119.7 255.4h0M117.5 236.8h0M118.0 230.6h0M119.4 239.4h0M127.0 229.3h0M119.0 220.1h0M117.6 227.4h0M119.1 215.8h0M118.3 237.5h0M125.5 239.2h0M117.9 229.3h0M116.8 225.8h0M117.8 227.1h0M114.7 250.5h0M118.9 229.5h0M122.5 240.9h0M114.2 225.4h0M121.7 234.3h0M119.7 249.2h0M123.4 264.5h0M120.4 244.8h0M115.4 235.9h0M115.0 245.3h0M113.2 224.8h0M117.5 228.9h0M117.7 240.5h0M120.7 251.7h0M115.9 233.9h0M117.6 228.1h0"/><path d="M115.8 229.5h0M115.7 236.3h0M124.1 232.8h0M114.1 236.7h0M122.7 229.0h0M116.6 225.1h0M115.4 231.9h0M117.2 236.3h0M123.4 234.8h0M114.6 236.5h0M112.1 240.2h0M112.4 227.8h0M122.6 254.7h0M119.4 228.2h0M123.7 252.2h0M125.9 223.9h0M117.0 247.0h0M116.1 235.4h0M116.3 223.4h0M122.1 248.1h0M122.3 241.8h0M116.4 232.5h0M119.1 239.6h0M119.7 240.5h0M120.1 251.9h0M119.9 224.5h0M123.9 232.3h0M124.4 223.3h0M120.3 262.1h0M117.1 226.2h0M120.6 226.2h0M125.5 235.4h0M119.8 239.3h0M116.2 233.3h0M116.2 242.7h0M120.2 214.0h0M125.5 235.4h0M116.5 229.6h0M123.4 228.0h0"/><path d="M117.7 227.9h0M116.7 221.4h0M118.7 238.2h0M111.6 256.6h0M120.9 228.4h0M122.3 244.0h0M122.1 241.7h0M119.6 216.1h0M125.5 233.6h0M115.8 245.3h0M124.2 229.5h0M126.4 239.1h0M117.9 234.0h0M112.6 244.1h0M122.1 235.9h0M126.6 229.2h0M116.7 230.1h0M122.9 243.7h0M122.0 250.4h0M116.1 254.0h0M120.4 238.6h0M119.7 225.7h0M119.5 252.6h0M117.9 241.9h0M125.0 251.5h0M117.6 223.5h0M116.4 227.8h0M118.0 228.4h0M119.9 234.8h0M114.5 234.4h0M113.5 247.8h0M119.7 234.4h0M118.8 223.0h0M120.4 236.6h0M123.4 234.1h0M113.6 240.7h0M115.8 254.8h0M116.9 239.4h0M118.8 241.0h0"/><path d="M116.7 222.7h0M123.3 236.5h0M117.0 238.9h0M123.6 223.1h0M116.9 244.1h0M117.0 226.2h0M116.3 247.0h0M110.5 247.4h0M123.3 236.1h0M117.0 253.6h0M111.3 233.1h0M116.7 236.0h0M127.9 227.5h0M116.5 231.5h0M115.7 238.8h0M112.0 232.2h0M110.2 232.8h0M117.3 234.7h0M119.2 234.7h0M118.2 254.7h0M119.6 241.1h0M110.0 237.7h0M118.0 250.7h0M109.5 219.5h0M117.7 250.2h0M115.8 241.2h0M115.6 239.7h0M115.4 240.8h0M112.9 236.0h0M117.4 244.2h0M120.0 230.3h0M119.5 230.0h0M118.8 243.5h0M118.7 253.1h0M119.9 240.0h0M115.4 237.3h0M114.2 230.7h0M120.5 228.7h0M116.0 227.8h0"/><path d="M122.5 242.5h0M122.3 243.8h0M117.8 224.1h0M125.3 223.8h0M121.1 247.1h0M115.1 234.0h0M119.3 237.3h0M123.7 255.1h0M119.8 244.2h0M124.6 233.6h0M118.0 238.4h0M112.0 215.5h0M125.6 227.3h0M117.6 242.8h0M112.8 221.9h0M128.2 229.8h0M112.2 243.7h0M124.9 238.2h0M120.2 240.1h0M120.5 240.0h0M111.2 248.3h0M127.1 216.9h0M115.8 222.1h0M117.1 231.4h0M119.2 243.8h0M119.1 232.0h0M122.1 246.4h0M119.2 244.0h0M116.2 227.6h0M116.5 255.5h0M118.6 238.0h0M117.8 236.3h0M122.6 234.2h0M116.8 234.8h0M122.2 231.2h0M116.7 241.5h0M125.9 228.2h0M122.7 225.1h0"/><path d="M114.3 236.7h0M122.9 238.7h0M115.3 209.3h0M118.3 232.0h0M116.5 236.7h0M117.1 224.8h0M120.1 223.0h0M122.1 221.3h0M113.1 235.3h0M115.3 234.1h0M115.0 234.9h0M121.3 229.5h0M121.3 251.5h0M117.7 235.9h0M119.0 252.9h0M123.6 228.5h0M117.7 230.0h0M116.4 220.5h0M114.4 235.6h0M117.5 234.6h0M123.4 233.1h0M117.8 225.6h0M116.5 249.5h0M116.8 231.8h0M110.9 250.5h0M122.3 230.0h0M116.8 232.7h0M118.8 233.1h0M114.5 230.3h0M115.7 227.1h0M119.6 228.9h0M118.7 234.3h0M118.2 241.6h0M116.9 233.5h0M120.0 241.5h0M115.4 230.0h0M114.1 230.5h0M116.6 232.9h0"/><path d="M119.4 231.9h0M111.0 254.3h0M117.4 245.0h0M122.1 227.2h0M113.0 228.9h0M119.8 245.0h0M115.1 235.0h0M124.6 230.6h0M120.6 237.9h0M117.8 246.7h0M119.2 240.8h0M116.9 234.0h0M119.3 237.7h0M117.0 222.1h0M119.1 233.2h0M121.9 230.4h0M113.6 230.0h0M116.0 233.2h0M114.6 244.8h0M116.9 230.1h0M124.0 240.2h0M123.9 238.4h0M120.3 227.0h0M118.9 232.0h0M120.9 232.9h0M119.3 224.0h0M126.8 235.9h0M119.8 223.7h0M117.6 250.3h0M119.5 236.5h0M114.7 238.3h0M114.9 244.3h0M122.4 240.6h0M127.6 228.3h0M112.6 232.1h0M120.6 248.6h0M119.8 242.2h0M118.8 237.9h0"/><path d="M109.6 235.0h0M121.9 235.3h0M114.1 242.5h0M118.8 227.4h0M118.2 226.2h0M124.2 236.8h0M127.1 234.0h0M117.0 247.4h0M114.8 233.5h0M116.7 252.3h0M117.5 236.5h0M120.0 227.9h0M115.9 231.4h0M120.3 243.1h0M116.8 240.3h0M113.9 241.3h0M117.6 223.1h0M108.9 234.5h0M114.5 238.8h0M123.2 238.6h0M122.8 241.3h0M120.5 232.6h0M124.0 223.1h0M120.7 231.0h0M117.3 240.6h0M122.4 212.2h0M123.0 239.7h0M117.0 227.9h0M116.9 238.0h0M117.6 248.8h0M121.3 248.7h0M124.5 251.5h0M116.1 241.2h0M117.6 221.9h0M114.7 245.7h0M116.9 241.6h0M124.6 235.9h0M115.9 237.1h0"/></g>
<g stroke="#bfbf00" stroke-opacity="0.12" stroke-width="1.9" stroke-linecap="round" fill="none"><path d="M181.0 213.3h0M184.2 195.6h0M182.5 195.3h0M173.7 187.2h0M180.4 227.6h0M178.5 195.8h0M179.6 231.7h0M175.8 203.2h0M170.3 203.8h0M182.4 212.4h0M181.0 216.5h0M179.9 198.9h0M174.8 211.8h0M178.6 204.1h0M181.5 208.1h0M179.7 207.5h0M176.7 192.0h0M181.9 216.1h0M177.1 199.7h0M178.5 206.7h0M182.3 194.2h0M179.2 202.3h0M177.7 197.2h0M175.6 210.9h0M180.9 202.4h0M175.7 208.3h0M177.9 212.9h0M170.3 209.7h0M171.7 201.7h0M179.8 212.8h0M179.6 202.4h0M175.3 202.9h0M181.3 192.2h0M172.4 212.0h0M172.5 198.1h0M175.2 220.1h0M170.9 189.9h0M180.1 206.8h0M174.9 201.2h0"/><path d="M175.7 209.3h0M174.8 198.4h0M179.3 193.9h0M180.3 209.6h0M184.2 195.9h0M179.7 208.3h0M176.9 203.4h0M177.1 196.3h0M175.7 181.1h0M182.6 187.6h0M173.1 190.4h0M175.2 169.0h0M175.6 198.4h0M176.4 199.1h0M178.8 206.5h0M173.1 199.9h0M168.1 204.7h0M181.8 198.8h0M181.1 211.1h0M184.4 204.8h0M180.2 204.1h0M180.3 203.7h0M175.6 196.4h0M173.0 198.6h0M181.9 208.3h0M172.1 190.9h0M182.9 200.5h0M179.6 179.8h0M176.9 198.8h0M177.5 212.8h0M180.8 205.3h0M178.3 181.2h0M185.2 218.1h0M178.4 203.8h0M176.9 207.0h0M179.7 185.9h0M185.5 206.4h0M179.7 203.9h0M174.2 190.0h0"/><path d="M175.7 190.1h0M171.8 199.2h0M178.9 192.9h0M173.7 223.2h0M176.5 224.6h0M175.6 206.9h0M180.0 193.5h0M170.4 210.0h0M173.4 188.8h0M175.2 219.4h0M169.5 210.9h0M173.6 185.5h0M175.6 196.0h0M184.6 196.5h0M181.1 212.3h0M174.6 198.5h0M169.7 208.8h0M178.2 190.9h0M173.4 190.2h0M175.6 207.3h0M173.8 204.8h0M171.4 211.1h0M176.0 204.9h0M175.1 205.7h0M175.2 185.1h0M173.9 202.0h0M175.2 202.2h0M181.4 215.5h0M181.4 219.6h0M174.3 209.2h0M175.9 208.9h0M170.5 223.2h0M180.5 199.0h0M175.0 215.6h0M181.3 198.8h0M175.6 190.3h0M177.5 222.3h0M178.7 208.9h0M173.9 221.9h0"/><path d="M173.7 204.4h0M176.2 193.3h0M185.1 201.9h0M177.3 191.9h0M183.1 216.7h0M186.0 214.3h0M174.6 215.0h0M173.0 201.9h0M172.0 194.4h0M184.0 198.9h0M176.2 210.1h0M177.7 162.2h0M179.9 210.8h0M180.0 204.5h0M177.3 186.3h0M179.3 186.6h0M172.7 207.5h0M179.9 184.8h0M176.7 200.5h0M187.5 229.6h0M177.8 217.0h0M175.3 203.6h0M180.5 194.3h0M174.5 207.8h0M178.6 200.6h0M174.7 194.6h0M176.7 204.3h0M169.9 203.8h0M176.7 169.1h0M175.7 197.0h0M176.4 186.8h0M181.3 201.2h0M175.3 188.0h0M177.6 198.9h0M180.9 195.7h0M175.9 193.2h0M167.3 194.7h0M182.4 213.9h0"/><path d="M181.1 223.4h0M176.2 214.6h0M173.0 202.9h0M176.0 213.3h0M170.7 221.9h0M169.6 205.2h0M180.0 198.0h0M177.0 198.6h0M180.0 224.3h0M178.1 197.7h0M174.5 214.4h0M176.8 220.2h0M181.8 197.6h0M170.5 209.7h0M179.9 210.3h0M172.2 218.1h0M176.6 224.3h0M183.0 206.0h0M170.0 185.2h0M172.1 230.6h0M175.1 215.8h0M178.3 179.6h0M176.2 212.4h0M172.9 184.0h0M172.4 207.2h0M176.0 191.3h0M175.1 189.4h0M177.7 181.7h0M175.7 225.5h0M184.0 192.8h0M177.8 203.1h0M177.4 156.4h0M182.7 200.5h0M175.0 202.7h0M179.1 198.4h0M174.2 217.8h0M174.9 214.7h0M173.9 207.6h0"/><path d="M172.8 205.6h0M169.6 213.6h0M171.8 187.9h0M176.8 209.2h0M178.9 180.2h0M175.9 193.6h0M174.4 212.0h0M177.3 188.8h0M173.9 184.1h0M180.4 197.3h0M179.5 212.2h0M179.1 210.7h0M178.2 195.6h0M174.5 202.3h0M172.4 216.6h0M176.1 180.2h0M179.7 180.9h0M178.2 208.1h0M171.7 214.7h0M178.3 210.6h0M178.3 200.2h0M179.5 210.2h0M174.0 177.8h0M173.5 193.6h0M172.0 194.3h0M174.0 215.3h0M176.4 207.4h0M178.6 210.3h0M180.7 205.3h0M179.4 190.4h0M175.8 204.8h0M176.2 192.0h0M183.9 193.9h0M173.9 206.1h0M180.1 194.6h0M183.3 209.5h0M176.2 206.2h0M177.7 217.5h0"/><path d="M176.4 210.5h0M174.5 203.2h0M184.1 202.6h0M180.6 198.4h0M165.5 196.8h0M172.3 207.8h0M181.8 217.3h0M174.7 193.9h0M181.2 197.5h0M182.5 209.2h0M179.8 217.6h0M172.2 193.3h0M173.8 216.3h0M179.8 200.4h0M174.0 190.7h0M175.5 215.0h0M169.9 182.5h0M181.6 196.1h0M181.4 204.1h0M173.3 221.6h0M167.6 189.7h0M186.7 208.8h0M178.4 218.1h0M165.4 218.7h0M184.7 191.6h0M179.0 201.0h0M185.2 211.0h0M176.5 177.3h0M184.7 206.2h0M174.0 214.4h0M179.6 191.5h0M176.6 196.3h0M181.8 207.1h0M178.6 231.5h0M180.1 201.1h0M178.6 214.6h0M177.6 215.0h0M173.8 196.5h0"/><path d="M179.2 202.8h0M178.8 204.7h0M181.8 222.2h0M177.3 200.3h0M176.4 212.8h0M177.0 201.8h0M181.3 212.4h0M179.7 197.2h0M182.7 204.5h0M180.4 218.0h0M175.2 198.7h0M169.3 215.5h0M178.9 196.4h0M180.8 196.0h0M182.3 210.1h0M183.9 208.1h0M168.3 204.4h0M179.8 205.5h0M173.2 179.4h0M179.5 185.5h0M179.0 202.8h0M179.2 187.6h0M171.0 205.5h0M177.1 197.4h0M177.5 203.9h0M179.6 200.0h0M176.4 210.7h0M176.5 203.7h0M172.3 211.9h0M182.6 195.9h0M175.6 209.2h0M178.9 212.8h0M180.8 199.1h0M179.6 202.6h0M179.9 188.3h0M181.4 212.7h0M176.4 190.0h0M188.2 190.3h0"/><path d="M171.5 223.2h0M174.9 214.2h0M181.6 195.7h0M177.3 211.7h0M173.7 218.6h0M174.3 197.6h0M173.1 207.8h0M180.3 192.2h0M175.7 215.1h0M175.3 204.9h0M178.1 200.3h0M169.1 201.8h0M182.2 217.6h0M180.3 203.2h0M171.3 202.6h0M176.3 200.7h0M179.9 210.5h0M174.7 203.1h0M166.3 222.1h0M174.1 199.1h0M172.0 206.2h0M178.0 205.6h0M179.2 213.2h0M177.6 203.9h0M177.9 235.2h0M179.8 184.3h0M175.1 240.7h0M177.2 228.5h0M170.9 209.4h0M175.9 198.1h0M174.7 199.3h0M182.9 210.3h0M175.3 183.0h0M177.0 211.9h0M179.2 190.2h0M178.5 227.9h0M184.3 209.3h0M172.5 206.7h0"/><path d="M174.7 184.0h0M174.4 196.2h0M179.6 201.7h0M172.9 207.2h0M174.5 206.9h0M177.9 185.3h0M183.1 210.0h0M178.6 203.4h0M177.2 205.2h0M170.4 177.6h0M185.6 201.0h0M176.2 206.9h0M170.7 223.9h0M184.5 219.9h0M178.8 225.3h0M177.4 211.7h0M176.4 201.0h0M166.1 194.7h0M178.4 196.3h0M175.5 199.3h0M174.0 216.6h0M176.3 201.1h0M172.8 198.0h0M174.3 191.9h0M170.4 180.4h0M180.1 180.3h0M179.4 217.3h0M170.4 198.5h0M177.2 180.0h0M177.5 214.0h0M174.2 214.2h0M174.3 210.3h0M167.7 198.1h0M179.2 186.3h0M175.5 210.7h0M173.6 221.5h0M176.1 206.0h0M178.0 199.0h0"/><path d="M181.6 181.7h0M177.3 195.3h0M181.1 192.4h0M177.7 194.1h0M183.0 205.6h0M180.6 199.2h0M180.9 210.8h0M168.9 207.7h0M175.0 207.2h0M177.2 201.4h0M176.7 184.7h0M178.4 199.6h0M182.1 188.2h0M169.9 201.6h0M176.3 216.2h0M185.2 203.1h0M176.4 218.4h0M181.8 180.7h0M180.0 197.5h0M178.0 194.7h0M178.5 196.3h0M181.4 191.7h0M169.6 189.2h0M185.0 214.4h0M181.1 196.3h0M181.2 199.6h0M180.6 206.0h0M176.5 180.1h0M177.5 190.1h0M177.8 195.8h0M174.5 217.3h0M175.8 195.4h0M181.5 191.5h0M173.6 193.8h0M174.1 200.0h0M168.5 190.6h0M181.7 195.4h0M183.0 197.4h0"/><path d="M176.5 205.3h0M174.9 213.6h0M183.2 203.0h0M171.5 178.3h0M174.2 209.5h0M177.2 220.0h0M172.5 215.8h0M180.4 202.2h0M177.5 196.1h0M173.9 209.8h0M177.6 183.7h0M176.9 197.6h0M181.8 204.9h0M172.3 179.3h0M181.8 207.3h0M174.2 188.3h0M176.9 206.2h0M179.3 203.2h0M182.1 216.6h0M176.1 182.8h0M185.2 193.3h0M182.9 213.7h0M180.8 206.5h0M180.5 206.0h0M179.8 193.5h0M177.9 180.8h0M181.4 209.5h0M182.8 206.6h0M178.6 203.5h0M171.7 182.1h0M183.0 227.9h0M173.0 200.7h0M172.1 225.3h0M180.5 208.2h0M180.1 189.4h0M177.1 191.3h0M176.7 209.5h0M180.5 196.8h0"/><path d="M173.5 214.9h0M177.0 195.1h0M182.0 189.5h0M177.1 209.4h0M174.0 200.8h0M178.5 213.7h0M176.8 212.1h0M178.4 215.9h0M178.8 196.2h0M177.3 180.7h0M173.2 201.2h0M184.6 199.8h0M178.3 206.6h0M173.9 186.6h0M178.1 206.4h0M174.4 211.2h0M180.2 210.9h0M172.4 214.3h0M178.5 201.5h0M178.6 203.9h0M179.3 228.4h0M169.3 209.4h0M176.6 218.5h0M179.5 223.6h0M176.7 207.4h0M172.2 181.4h0M173.6 205.5h0M178.5 196.0h0M174.2 188.8h0M179.7 179.0h0M177.9 194.2h0M176.8 209.8h0M173.5 202.2h0M175.6 212.0h0M181.8 203.2h0M180.3 189.0h0M182.4 212.4h0M176.9 210.4h0"/><path d="M177.7 194.6h0M171.5 215.5h0M173.1 221.9h0M177.2 202.9h0M178.7 178.0h0M172.7 193.0h0M177.7 215.2h0M173.8 193.3h0M184.7 217.9h0M183.3 179.3h0M168.8 221.2h0M179.6 197.1h0M175.3 203.5h0M170.1 181.7h0M178.6 214.3h0M182.4 178.6h0M177.9 212.2h0M177.6 216.9h0M176.4 181.8h0M180.8 200.4h0M179.6 216.0h0M185.5 195.6h0M175.6 188.5h0M174.1 227.1h0M176.7 195.3h0M183.1 197.1h0M176.7 219.6h0M184.8 197.4h0M173.4 213.8h0M171.9 197.5h0M172.4 192.8h0M174.2 197.8h0M172.3 222.6h0M185.1 185.5h0M187.2 201.1h0M177.6 192.2h0M182.7 206.9h0M178.4 202.6h0"/><path d="M180.8 197.8h0M178.3 183.2h0M180.1 179.2h0M186.1 208.8h0M178.3 216.9h0M169.0 201.9h0M178.1 217.2h0M176.0 211.8h0M181.1 227.3h0M172.5 183.0h0M181.5 213.4h0M180.4 205.7h0M181.1 208.5h0M177.1 206.5h0M180.2 185.5h0M174.7 224.8h0M179.7 200.1h0M179.6 185.1h0M179.2 193.1h0M182.0 208.7h0M179.4 196.3h0M176.9 184.1h0M175.0 205.3h0M171.0 193.7h0M177.2 209.4h0M183.5 192.6h0M179.7 216.0h0M174.4 191.1h0M168.5 185.0h0M176.3 144.0h0M177.9 210.1h0M177.2 207.0h0M180.2 220.3h0M174.0 209.1h0M181.8 218.5h0M173.7 206.0h0M177.3 199.3h0M178.4 205.3h0"/><path d="M180.3 197.9h0M172.7 216.3h0M176.1 189.9h0M178.1 207.7h0M176.1 218.6h0M181.9 197.4h0M177.4 195.0h0M180.8 182.2h0M174.6 205.9h0M168.4 216.2h0M174.4 215.7h0M170.3 219.1h0M174.2 203.7h0M181.6 187.2h0M175.1 192.7h0M172.7 213.8h0M171.6 229.4h0M184.1 200.2h0M187.5 196.6h0M176.7 213.2h0M177.0 179.4h0M176.6 182.4h0M185.4 212.3h0M177.6 180.3h0M176.6 200.5h0M180.3 201.5h0M174.9 199.8h0M166.9 206.0h0M173.7 204.4h0M179.7 203.6h0M177.7 180.0h0M183.5 193.5h0M180.8 189.7h0M183.0 213.8h0M177.9 189.7h0M177.9 193.3h0M172.2 198.4h0M175.0 208.2h0"/><path d="M182.4 190.8h0M176.5 203.4h0M180.9 207.5h0M178.4 229.5h0M178.9 195.9h0M176.7 229.1h0M170.5 206.9h0M173.9 197.3h0M169.5 212.7h0M179.0 203.6h0M175.3 205.6h0M183.0 182.6h0M173.0 200.0h0M178.9 200.3h0M188.1 184.7h0M182.6 213.8h0M174.7 168.5h0M176.9 206.7h0M173.2 204.7h0M173.8 220.7h0M177.0 197.9h0M173.7 171.5h0M172.0 208.5h0M180.6 191.3h0M178.5 180.5h0M179.6 194.7h0M178.2 199.5h0M179.9 216.7h0M186.8 204.0h0M183.0 205.3h0M170.6 210.0h0M183.1 193.6h0M175.4 211.3h0M182.4 205.8h0M175.7 221.1h0M179.6 190.1h0M178.1 193.1h0M180.5 203.5h0"/><path d="M177.9 216.6h0M177.9 213.1h0M176.6 192.2h0M176.5 194.2h0M175.5 213.9h0M172.8 231.2h0M180.9 197.6h0M172.3 183.7h0M179.4 205.6h0M175.5 183.3h0M173.5 197.2h0M178.3 210.6h0M180.0 185.0h0M179.1 194.4h0M168.9 189.9h0M181.6 199.8h0M178.9 208.6h0M173.1 205.6h0M177.1 207.3h0M165.2 196.9h0M174.3 189.1h0M174.7 204.7h0M169.3 179.2h0M180.6 201.6h0M177.7 207.2h0M178.6 207.6h0M174.3 191.6h0M178.2 204.0h0M181.8 197.1h0M176.6 179.0h0M181.7 202.6h0M175.6 210.5h0M174.4 187.1h0M173.9 222.0h0M176.3 205.4h0M176.3 201.0h0M180.4 199.7h0M173.7 200.8h0"/><path d="M179.5 186.8h0M177.8 207.9h0M178.1 195.4h0M175.0 202.3h0M178.3 188.6h0M172.9 189.5h0M173.5 215.0h0M179.0 204.0h0M177.9 190.4h0M174.7 208.6h0M181.7 201.7h0M176.9 203.2h0M170.9 201.9h0M177.1 196.1h0M180.8 209.9h0M172.7 211.3h0M176.2 195.1h0M175.6 186.6h0M180.8 188.0h0M176.8 207.2h0M176.6 186.4h0M175.2 183.4h0M172.3 191.3h0M179.4 212.3h0M173.4 182.5h0M181.2 198.4h0M186.2 214.6h0M178.0 191.3h0M176.7 211.8h0M178.1 198.1h0M181.7 209.2h0M189.2 204.5h0M181.7 203.9h0M170.9 191.3h0M177.5 204.5h0M171.2 191.7h0M179.8 201.1h0M181.5 198.0h0"/><path d="M179.8 197.9h0M172.1 207.7h0M174.4 187.0h0M178.1 216.7h0M177.5 208.9h0M172.9 210.9h0M172.0 186.7h0M180.8 221.1h0M174.1 187.8h0M182.6 209.4h0M178.3 192.6h0M179.3 214.1h0M169.5 187.1h0M174.0 171.5h0M174.8 189.0h0M181.2 187.2h0M174.4 181.1h0M185.2 198.6h0M177.4 182.7h0M174.6 222.4h0M179.8 205.9h0M177.3 209.5h0M179.9 171.4h0M182.1 203.4h0M171.7 212.0h0M183.1 198.8h0M174.7 199.6h0M176.5 180.6h0M172.7 220.5h0M186.0 193.5h0M178.5 216.2h0M173.8 202.6h0M178.7 196.1h0M180.1 222.8h0M180.2 217.6h0M177.2 196.3h0M177.9 201.8h0M180.3 207.3h0"/><path d="M176.2 204.9h0M172.5 230.4h0M172.6 212.2h0M171.8 205.9h0M179.9 199.4h0M187.5 218.9h0M176.2 201.6h0M170.7 194.7h0M174.3 196.9h0M180.4 191.0h0M177.7 201.2h0M174.3 191.3h0M179.6 197.4h0M181.3 200.2h0M180.3 210.6h0M185.3 209.9h0M177.0 215.0h0M176.9 202.4h0M180.8 202.3h0M175.5 181.3h0M174.6 208.3h0M178.6 197.5h0M170.6 199.8h0M175.9 187.2h0M175.3 185.0h0M176.2 200.2h0M171.1 189.6h0M180.0 217.7h0M178.9 188.7h0M175.4 196.8h0M172.9 178.3h0M178.1 187.2h0M177.2 210.4h0M176.4 199.7h0M178.0 214.9h0M177.3 204.5h0M171.0 199.4h0M179.1 182.0h0"/><path d="M178.8 218.9h0M179.5 210.3h0M176.0 208.2h0M178.6 207.9h0M178.8 219.2h0M181.6 219.4h0M178.9 205.7h0M173.8 188.5h0M183.1 204.8h0M171.7 207.6h0M177.9 200.3h0M177.6 201.5h0M178.4 237.3h0M179.1 208.5h0M176.2 185.7h0M172.1 205.5h0M179.0 198.0h0M172.3 204.8h0M170.6 189.1h0M173.0 217.7h0M175.2 196.9h0M183.2 185.0h0M173.4 209.9h0M173.0 179.7h0M173.3 202.3h0M177.5 209.1h0M182.0 199.6h0M185.1 191.1h0M174.5 205.9h0M173.4 204.6h0M179.5 188.9h0M177.7 203.9h0M175.6 201.7h0M179.4 195.3h0M183.0 203.1h0M176.2 184.7h0M178.7 190.9h0M177.9 179.1h0"/><path d="M173.7 192.4h0M176.8 188.8h0M180.8 203.2h0M178.6 202.4h0M178.7 197.0h0M176.9 203.4h0M179.2 199.7h0M180.4 184.3h0M177.7 186.0h0M184.1 202.2h0M174.7 210.1h0M172.6 211.6h0M182.8 218.4h0M176.7 222.5h0M175.2 198.7h0M174.2 201.5h0M181.9 202.1h0M177.4 193.3h0M173.6 211.1h0M178.3 216.2h0M176.0 212.1h0M175.5 216.3h0M176.2 196.8h0M169.8 201.8h0M178.4 206.6h0M181.5 206.9h0M178.0 208.7h0M179.7 199.0h0M171.9 196.4h0M177.0 200.2h0M182.9 207.4h0M175.7 203.1h0M175.4 183.6h0M176.9 173.9h0M178.8 200.5h0M174.9 202.7h0M179.2 203.1h0M179.5 209.4h0"/><path d="M180.7 219.9h0M174.9 210.1h0M178.0 202.4h0M174.0 220.7h0M180.7 201.2h0M175.3 184.8h0M172.0 210.4h0M180.6 195.1h0M171.3 212.8h0M181.0 191.0h0M176.7 195.7h0M182.7 211.4h0M183.0 211.2h0M179.9 189.8h0M169.9 187.6h0M171.9 195.2h0M182.4 188.0h0M180.1 198.6h0M171.7 207.0h0M172.1 182.2h0M174.2 205.4h0M174.2 213.6h0M174.2 212.4h0M174.4 209.2h0M175.8 209.3h0M181.9 220.5h0M174.5 192.4h0M174.9 220.4h0M176.3 206.1h0M178.1 220.9h0M172.9 192.2h0M178.5 194.6h0M180.2 202.0h0M180.4 196.8h0M179.1 183.6h0M168.7 186.4h0M179.9 221.1h0M178.7 203.0h0"/></g>
<g stroke="#00bfbf" stroke-opacity="0.16" stroke-width="1.9" stroke-linecap="round" fill="none"><path d="M231.6 104.8h0M240.1 125.6h0M233.9 128.4h0M232.2 118.6h0M231.5 87.5h0M239.1 107.2h0M239.4 130.3h0M241.5 131.3h0M232.1 122.0h0M234.9 129.1h0M237.4 154.6h0M232.6 128.8h0M226.4 131.1h0M233.1 114.3h0M234.7 143.5h0M232.9 131.5h0M229.0 59.0h0M233.2 99.1h0M231.2 128.6h0M232.9 116.2h0M237.5 101.9h0M238.8 93.5h0M231.7 136.5h0M235.3 123.9h0M239.3 124.9h0M238.8 99.2h0M235.7 96.7h0M234.9 87.3h0M234.1 121.2h0M239.3 136.6h0M233.0 108.9h0M234.4 115.4h0M233.2 116.2h0M243.0 126.4h0M240.1 144.1h0M234.7 146.5h0M237.7 113.4h0M230.2 118.9h0"/><path d="M239.5 105.3h0M237.1 137.0h0M234.3 112.3h0M238.4 115.9h0M230.6 129.5h0M241.8 122.8h0M237.9 102.1h0M231.8 126.3h0M227.9 129.3h0M233.1 111.7h0M244.5 58.8h0M231.9 112.6h0M234.8 118.5h0M234.1 159.0h0M231.7 137.3h0M237.0 139.2h0M237.9 113.4h0M230.8 108.3h0M240.5 111.5h0M232.3 135.3h0M234.3 99.8h0M237.8 114.4h0M236.7 125.8h0M245.1 151.7h0M238.4 127.0h0M230.0 134.8h0M238.3 111.7h0M237.6 122.3h0M238.1 132.9h0M235.7 108.5h0M238.6 123.3h0M240.1 112.5h0M241.5 136.5h0M239.0 88.1h0M234.6 118.0h0M239.5 126.3h0M232.5 105.7h0M235.5 129.3h0"/><path d="M230.2 92.6h0M239.0 166.1h0M229.4 104.8h0M236.3 128.0h0M235.8 116.1h0M236.7 79.8h0M239.8 127.2h0M240.7 104.0h0M236.9 94.9h0M238.6 95.5h0M236.5 157.0h0M242.1 134.9h0M236.8 82.0h0M235.7 125.3h0M235.5 109.2h0M241.8 118.9h0M228.0 104.8h0M234.9 81.4h0M243.8 128.7h0M236.5 83.1h0M234.6 79.3h0M233.4 139.8h0M234.7 153.3h0M241.2 126.6h0M238.8 134.4h0M239.5 128.5h0M236.2 122.3h0M235.0 111.5h0M232.3 97.7h0M238.3 118.5h0M232.6 138.2h0M238.2 135.4h0M236.9 103.8h0M234.4 113.6h0M235.0 114.7h0M229.6 100.0h0M230.8 95.5h0M235.5 134.5h0"/><path d="M236.4 83.5h0M239.3 118.3h0M236.9 102.6h0M235.2 142.5h0M239.0 121.0h0M235.1 127.9h0M236.7 87.8h0M242.6 113.6h0M237.0 122.2h0M241.0 87.8h0M228.6 131.9h0M238.1 62.9h0M240.8 72.8h0M232.2 103.5h0M229.4 99.9h0M239.4 72.6h0M227.7 69.7h0M237.3 120.0h0M234.9 126.4h0M234.5 123.1h0M233.3 103.1h0M232.6 129.7h0M242.8 101.1h0M238.6 134.1h0M234.3 139.3h0M238.3 116.3h0M235.7 76.2h0M239.3 108.5h0M227.3 124.9h0M235.1 46.9h0M231.8 137.1h0M239.8 149.6h0M228.7 125.8h0M227.6 120.9h0M235.2 96.5h0M237.9 126.3h0M238.7 161.9h0M244.4 156.7h0"/><path d="M236.7 145.8h0M232.6 145.1h0M228.1 108.9h0M229.9 112.6h0M239.8 88.6h0M232.5 124.1h0M237.0 125.5h0M239.1 122.6h0M239.1 145.1h0M230.7 140.7h0M233.6 97.0h0M241.8 86.1h0M237.1 136.0h0M232.6 106.7h0M235.4 100.6h0M234.8 124.9h0M227.8 150.5h0M235.5 90.7h0M234.5 119.7h0M243.3 89.1h0M237.6 118.6h0M237.4 134.4h0M238.4 115.8h0M234.3 153.0h0M240.3 119.0h0M229.9 141.1h0M229.4 146.0h0M233.3 143.0h0M237.0 134.0h0M236.2 131.6h0M235.9 114.4h0M231.5 127.5h0M229.3 118.3h0M245.5 123.7h0M236.9 131.6h0M236.3 102.0h0M234.4 109.0h0M232.9 127.8h0"/><path d="M228.8 102.0h0M231.2 120.0h0M234.7 118.2h0M234.1 123.7h0M230.8 89.9h0M236.3 54.5h0M231.3 122.5h0M236.8 109.0h0M232.9 123.4h0M237.6 123.9h0M236.0 119.6h0M228.6 113.2h0M233.6 114.0h0M239.5 93.4h0M237.6 80.1h0M232.4 132.4h0M239.6 143.4h0M238.5 150.9h0M237.2 117.1h0M228.6 121.9h0M240.8 138.8h0M235.1 134.8h0M231.3 123.7h0M236.3 122.9h0M239.1 63.2h0M228.9 60.4h0M234.0 81.1h0M239.6 107.7h0M236.1 120.9h0M230.9 85.0h0M235.7 130.2h0M230.7 101.1h0M232.3 115.3h0M235.1 121.9h0M233.2 127.2h0M233.6 138.9h0M237.1 104.0h0M239.6 113.6h0"/><path d="M237.1 147.2h0M237.0 96.6h0M237.5 125.6h0M236.3 118.9h0M236.4 124.1h0M237.8 135.9h0M242.0 112.7h0M231.6 90.6h0M232.1 121.8h0M230.9 123.3h0M241.5 120.4h0M235.0 123.0h0M240.1 110.2h0M234.8 144.0h0M235.8 123.3h0M232.7 131.8h0M234.7 160.1h0M232.6 132.5h0M238.0 127.8h0M235.7 85.9h0M234.3 89.2h0M239.7 98.5h0M233.5 139.9h0M242.5 148.1h0M243.0 114.2h0M234.2 140.2h0M237.5 123.6h0M232.4 134.0h0M235.9 102.7h0M242.4 129.2h0M237.6 77.4h0M225.9 138.9h0M235.1 112.4h0M231.0 147.3h0M230.3 110.5h0M241.9 124.3h0M237.0 134.9h0M236.7 141.5h0"/><path d="M238.4 119.9h0M232.8 128.9h0M236.5 150.8h0M237.0 130.3h0M225.4 86.4h0M238.8 133.7h0M236.3 121.7h0M234.4 119.8h0M233.8 113.3h0M240.6 118.5h0M234.7 120.5h0M235.5 109.0h0M230.7 120.0h0M229.8 144.7h0M237.4 103.8h0M230.0 133.4h0M237.6 122.3h0M236.9 106.5h0M233.1 82.1h0M235.7 140.9h0M236.9 132.9h0M232.1 130.3h0M231.2 147.5h0M239.9 131.9h0M239.2 128.3h0M233.8 87.5h0M237.2 136.3h0M229.8 126.4h0M231.5 110.2h0M232.4 123.8h0M234.2 97.0h0M235.7 144.8h0M234.7 125.7h0M238.5 107.5h0M230.9 126.1h0M237.5 91.9h0M232.6 135.2h0M240.2 133.9h0"/><path d="M234.8 137.1h0M237.4 101.0h0M233.3 110.6h0M235.6 115.9h0M227.5 145.1h0M232.2 145.2h0M234.8 105.8h0M236.7 148.7h0M237.4 154.3h0M228.0 127.6h0M232.4 115.2h0M237.5 116.6h0M231.6 106.9h0M234.7 133.7h0M242.1 96.2h0M238.0 122.4h0M237.6 152.7h0M235.9 114.9h0M234.0 130.0h0M238.4 132.6h0M237.5 131.2h0M231.8 115.2h0M238.2 155.0h0M233.7 118.0h0M232.9 122.6h0M242.0 110.9h0M230.5 119.2h0M242.4 101.7h0M233.0 79.0h0M239.7 94.4h0M233.6 114.5h0M237.9 86.9h0M238.3 129.2h0M233.7 127.1h0M232.7 94.9h0M233.3 83.7h0M239.3 94.4h0M242.7 133.2h0"/><path d="M232.3 86.4h0M240.1 158.3h0M231.0 149.3h0M232.8 100.9h0M236.3 116.2h0M234.8 144.9h0M241.3 143.1h0M237.9 108.7h0M235.5 145.0h0M230.5 119.5h0M231.5 100.0h0M238.8 122.4h0M234.1 118.5h0M235.9 111.4h0M233.1 101.6h0M236.7 123.9h0M238.2 110.6h0M229.4 112.1h0M232.6 127.0h0M236.1 127.1h0M230.9 111.2h0M238.1 128.8h0M234.0 152.1h0M234.7 130.3h0M232.1 129.4h0M239.4 136.1h0M235.4 146.0h0M242.7 124.3h0M235.0 69.7h0M239.1 116.9h0M236.1 124.2h0M231.1 72.0h0M242.7 133.8h0M238.9 125.1h0M232.5 115.4h0M239.5 135.3h0M237.3 110.7h0M238.0 119.6h0"/><path d="M234.9 102.2h0M228.9 104.1h0M240.1 98.5h0M230.7 97.2h0M244.0 110.2h0M232.9 115.6h0M230.6 110.7h0M235.1 140.9h0M234.6 160.3h0M232.7 117.8h0M236.0 106.3h0M235.2 108.9h0M242.5 106.7h0M245.6 113.5h0M237.0 138.8h0M227.9 114.9h0M234.1 130.2h0M230.5 138.1h0M236.3 104.1h0M241.9 98.8h0M233.3 135.6h0M240.0 127.1h0M237.2 133.7h0M233.9 125.6h0M234.1 129.4h0M236.5 112.0h0M235.6 141.2h0M232.1 144.4h0M240.2 129.2h0M238.8 163.8h0M232.3 120.9h0M232.3 139.8h0M231.9 110.7h0M233.9 116.7h0M236.4 128.6h0M236.6 137.4h0M236.6 108.7h0M240.4 144.6h0"/><path d="M240.7 106.8h0M239.1 136.2h0M234.8 150.8h0M232.6 133.7h0M239.3 112.7h0M233.2 115.5h0M234.5 144.7h0M229.7 102.9h0M242.6 66.3h0M227.4 101.2h0M239.8 89.9h0M236.9 152.7h0M236.2 144.8h0M233.0 111.7h0M234.7 118.0h0M236.7 93.6h0M234.8 129.1h0M233.8 157.9h0M229.2 103.9h0M233.8 148.2h0M229.8 135.4h0M241.2 110.1h0M245.7 121.1h0M239.5 111.3h0M242.0 106.2h0M239.5 113.3h0M236.2 112.7h0M234.3 112.5h0M238.4 91.3h0M234.7 134.5h0M234.0 103.8h0M233.1 118.6h0M238.6 153.8h0M235.3 126.4h0M232.4 93.4h0M235.6 96.0h0M235.6 103.3h0M234.3 121.6h0"/><path d="M242.9 161.1h0M234.7 118.7h0M234.4 130.9h0M228.7 113.4h0M238.1 161.8h0M234.3 98.5h0M238.2 106.3h0M237.6 155.6h0M237.5 109.4h0M235.2 98.2h0M235.7 138.3h0M229.3 111.7h0M231.8 126.9h0M231.7 135.2h0M234.0 118.1h0M234.0 118.4h0M237.1 126.9h0M229.6 126.2h0M233.1 110.1h0M232.8 92.6h0M235.5 117.8h0M239.3 126.3h0M239.7 133.1h0M240.2 108.3h0M236.7 142.0h0M240.0 130.1h0M238.0 93.2h0M240.1 141.4h0M235.3 157.6h0M235.9 97.9h0M236.0 122.7h0M238.8 120.9h0M240.2 103.2h0M231.2 153.5h0M237.2 115.7h0M234.4 142.2h0M236.8 85.3h0M232.0 119.4h0"/><path d="M235.7 164.2h0M238.6 92.6h0M237.5 121.2h0M235.5 133.5h0M238.4 106.5h0M235.2 105.5h0M235.5 106.7h0M238.6 131.6h0M231.8 162.5h0M228.2 154.6h0M235.8 102.9h0M232.1 118.4h0M235.4 125.2h0M235.3 102.9h0M227.6 129.1h0M241.1 111.1h0M232.8 131.4h0M244.4 129.8h0M230.4 147.0h0M230.1 117.1h0M234.1 116.2h0M235.7 114.5h0M228.2 103.9h0M238.4 143.1h0M241.3 114.2h0M230.4 96.7h0M229.6 144.7h0M245.5 94.9h0M231.0 108.6h0M234.6 111.5h0M230.0 120.7h0M236.7 134.5h0M237.5 131.2h0M236.9 111.2h0M235.6 122.8h0M238.9 137.4h0M234.6 105.2h0M235.6 108.9h0"/><path d="M234.4 134.7h0M239.1 135.3h0M238.9 77.2h0M235.8 140.8h0M234.1 124.3h0M237.2 130.5h0M227.3 133.2h0M242.0 134.7h0M230.6 141.0h0M231.0 130.0h0M239.9 110.2h0M239.7 150.4h0M228.5 156.7h0M233.6 143.0h0M234.8 95.8h0M239.0 134.5h0M232.0 106.3h0M243.6 113.1h0M230.8 111.3h0M228.6 123.9h0M245.5 121.8h0M235.2 111.7h0M232.8 132.1h0M234.2 130.5h0M235.4 120.1h0M229.0 130.9h0M237.8 92.1h0M233.8 105.0h0M235.0 142.6h0M235.6 118.6h0M235.2 122.1h0M235.0 138.1h0M226.6 103.6h0M233.2 119.6h0M238.2 126.0h0M240.3 127.8h0M236.3 137.7h0M235.0 127.5h0"/><path d="M236.1 140.7h0M236.1 118.9h0M240.5 128.4h0M232.7 127.9h0M243.9 125.0h0M238.6 83.0h0M235.8 104.1h0M238.9 72.8h0M225.2 154.2h0M238.4 110.3h0M237.9 135.3h0M235.9 113.2h0M239.0 135.1h0M233.0 120.4h0M236.5 112.4h0M237.8 132.7h0M231.1 143.0h0M233.8 151.6h0M233.5 137.8h0M236.0 105.8h0M237.5 81.6h0M233.0 113.3h0M235.3 122.5h0M233.8 143.1h0M238.2 83.3h0M234.4 133.5h0M235.8 123.6h0M240.4 60.1h0M241.9 106.9h0M234.7 129.2h0M241.9 102.7h0M232.8 131.3h0M231.1 111.7h0M233.1 135.9h0M236.4 105.7h0M230.0 81.8h0M241.9 104.1h0M233.7 129.1h0"/><path d="M232.7 127.6h0M231.4 112.8h0M232.1 114.6h0M232.6 138.0h0M221.6 141.5h0M234.6 85.1h0M234.7 128.9h0M235.1 161.1h0M240.3 152.8h0M237.3 130.1h0M238.6 131.1h0M235.4 144.0h0M236.4 122.7h0M232.6 101.1h0M235.1 129.3h0M232.8 124.7h0M234.4 141.8h0M239.5 153.2h0M246.9 133.6h0M235.7 133.9h0M232.6 106.9h0M233.8 123.1h0M239.6 113.7h0M238.9 109.9h0M235.0 156.6h0M232.5 103.8h0M241.4 113.5h0M231.7 149.2h0M238.7 133.5h0M237.7 132.2h0M239.2 131.8h0M223.3 89.6h0M234.6 134.0h0M233.4 123.3h0M239.9 114.7h0M235.0 114.3h0M236.8 111.6h0M230.4 138.1h0"/><path d="M234.4 114.5h0M234.6 133.3h0M236.1 128.5h0M235.2 110.1h0M233.2 122.6h0M233.7 67.7h0M239.9 122.5h0M224.4 80.5h0M224.1 98.3h0M236.4 149.1h0M236.6 139.9h0M234.6 123.1h0M241.2 119.5h0M239.5 113.4h0M238.6 125.9h0M230.7 132.5h0M237.8 141.3h0M234.4 77.7h0M232.1 116.0h0M229.7 99.4h0M234.2 110.3h0M231.8 129.2h0M237.7 121.4h0M235.6 130.2h0M237.2 97.0h0M241.9 147.3h0M236.2 133.9h0M237.5 155.0h0M237.6 101.5h0M230.4 125.9h0M238.8 130.2h0M229.7 115.6h0M229.9 115.7h0M239.4 126.4h0M239.5 120.5h0M238.1 99.6h0M242.3 116.3h0M241.3 62.5h0"/><path d="M231.1 111.0h0M239.5 113.5h0M238.7 123.1h0M235.6 118.3h0M234.8 122.4h0M231.8 107.6h0M233.8 155.0h0M234.2 103.5h0M243.5 110.6h0M233.3 118.9h0M236.0 121.1h0M235.7 101.0h0M228.3 116.3h0M231.4 145.7h0M238.2 129.3h0M240.2 131.9h0M239.1 127.3h0M238.9 134.3h0M237.3 95.7h0M227.7 93.4h0M232.2 149.0h0M236.1 109.0h0M239.9 110.4h0M236.9 108.2h0M236.6 90.9h0M230.5 147.3h0M236.0 125.0h0M241.7 143.4h0M236.7 133.7h0M235.8 122.1h0M239.3 125.4h0M236.2 135.1h0M236.7 150.0h0M241.4 102.9h0M236.9 119.1h0M240.0 135.1h0M235.6 132.3h0M241.7 127.7h0"/><path d="M237.0 122.7h0M227.6 94.9h0M232.5 117.7h0M231.5 115.6h0M234.1 144.4h0M239.0 142.0h0M238.0 138.1h0M242.3 150.7h0M236.1 121.8h0M238.6 109.2h0M235.2 102.5h0M236.0 83.7h0M234.6 137.0h0M230.2 126.7h0M233.2 75.6h0M230.1 126.6h0M232.1 98.2h0M238.8 116.2h0M228.3 120.9h0M235.5 113.4h0M243.1 155.7h0M241.6 101.7h0M236.1 140.0h0M235.1 65.8h0M237.3 158.1h0M231.8 142.1h0M236.3 129.1h0M231.7 129.0h0M240.1 128.8h0M232.9 132.4h0M232.9 119.7h0M224.9 121.1h0M233.7 86.6h0M234.0 136.9h0M235.9 102.2h0M240.1 68.3h0M236.8 87.0h0"/><path d="M237.7 131.6h0M241.2 98.7h0M231.8 138.3h0M234.8 142.3h0M237.5 80.0h0M237.9 123.5h0M230.7 112.0h0M235.4 116.4h0M237.5 111.4h0M237.4 103.5h0M239.2 137.0h0M230.3 129.5h0M240.9 143.2h0M236.8 119.9h0M235.2 143.1h0M234.9 116.5h0M238.8 126.9h0M230.8 133.5h0M234.8 149.4h0M234.0 123.4h0M233.4 123.7h0M233.4 159.5h0M236.6 104.6h0M231.3 121.3h0M232.2 125.2h0M231.5 93.8h0M240.2 120.2h0M237.7 144.3h0M236.6 151.0h0M240.5 105.9h0M236.4 108.7h0M240.7 112.0h0M240.5 126.9h0M239.4 121.2h0M236.5 123.1h0M235.9 80.9h0M236.8 84.3h0"/><path d="M223.4 99.1h0M243.2 94.7h0M230.1 102.0h0M227.9 130.5h0M236.7 125.2h0M237.5 128.1h0M238.8 150.1h0M242.4 106.1h0M231.9 105.4h0M243.4 128.6h0M232.7 101.6h0M236.6 120.5h0M234.8 133.6h0M233.1 71.0h0M235.6 99.3h0M235.7 90.4h0M234.4 141.9h0M233.4 143.7h0M234.8 119.7h0M242.7 114.6h0M236.7 106.4h0M237.6 131.6h0M234.2 105.6h0M241.1 103.1h0M230.3 126.4h0M229.5 146.9h0M232.9 84.5h0M233.8 113.7h0M233.0 100.2h0M244.3 124.2h0M233.2 100.9h0M238.6 127.4h0M242.4 159.8h0M236.6 121.6h0M244.6 118.9h0M231.4 108.7h0M236.3 153.0h0"/><path d="M237.4 116.9h0M237.3 124.8h0M237.1 113.7h0M232.0 155.7h0M224.6 131.0h0M234.4 111.6h0M231.2 73.6h0M233.3 104.2h0M240.0 109.6h0M233.1 139.3h0M236.6 127.0h0M240.8 129.0h0M228.9 97.3h0M230.1 113.0h0M237.9 108.8h0M231.4 72.1h0M239.3 135.4h0M234.0 150.4h0M229.7 158.7h0M233.5 126.0h0M237.9 131.1h0M233.1 119.9h0M243.5 120.3h0M232.3 59.1h0M241.9 110.0h0M239.0 139.8h0M243.2 108.0h0M235.2 154.8h0M240.6 136.2h0M232.7 89.0h0M233.0 96.7h0M226.5 80.8h0M231.4 122.3h0M237.9 144.9h0M236.5 104.3h0M238.0 134.9h0M240.4 137.8h0"/><path d="M233.2 145.2h0M241.3 146.4h0M235.0 130.1h0M233.4 131.6h0M236.9 106.2h0M237.3 109.5h0M234.5 121.9h0M232.8 115.4h0M232.6 90.1h0M236.4 91.0h0M240.3 146.5h0M239.8 148.3h0M236.8 152.1h0M235.7 126.3h0M234.1 112.3h0M238.0 124.5h0M231.5 117.1h0M235.7 110.5h0M235.9 77.8h0M230.3 111.1h0M237.1 104.1h0M226.8 112.1h0M239.6 105.0h0M235.3 109.3h0M235.7 99.9h0M226.5 76.1h0M231.1 102.1h0M229.2 121.1h0M234.3 69.7h0M236.4 110.2h0M243.4 103.5h0M243.3 116.3h0M239.9 117.8h0M238.4 146.6h0M237.2 120.9h0M236.9 128.6h0M231.1 135.4h0"/></g>
<g stroke="#ff0000" stroke-opacity="0.15" stroke-width="1.9" stroke-linecap="round" fill="none"><path d="M296.4 225.9h0M294.7 177.5h0M289.3 157.8h0M293.6 193.9h0M294.6 234.0h0M298.5 189.7h0M298.6 236.3h0M284.8 226.2h0M299.6 102.1h0M298.1 129.5h0M295.3 241.1h0M290.3 241.5h0M296.1 128.2h0M296.9 226.1h0M291.7 132.3h0M302.8 230.9h0M291.9 234.8h0M288.0 243.6h0M297.4 224.9h0M296.8 124.9h0M297.3 113.2h0M295.2 184.4h0M293.4 97.9h0M291.7 136.0h0M290.5 237.6h0M300.6 197.9h0M290.1 182.8h0M298.8 164.6h0M294.9 123.2h0M284.3 231.5h0M291.5 163.9h0M297.4 202.1h0M291.7 226.8h0M304.6 241.2h0M293.0 159.2h0M292.1 179.8h0M304.9 188.6h0M287.3 214.7h0M293.8 143.1h0M289.7 154.2h0M296.6 108.0h0M297.7 140.3h0M293.5 211.4h0M292.1 202.9h0M292.4 127.6h0M296.4 234.9h0M294.7 114.8h0M294.5 240.3h0M288.0 237.6h0M290.3 192.3h0M295.8 233.0h0M294.6 175.0h0M303.7 170.6h0M292.9 186.5h0M288.6 116.6h0M294.2 226.1h0M290.7 194.0h0M290.1 238.4h0M288.7 204.0h0M286.5 172.1h0M293.4 236.3h0M291.5 154.5h0M295.2 98.0h0M298.6 162.8h0M291.7 117.7h0M293.0 187.6h0M296.8 192.5h0M293.6 200.2h0M296.8 236.8h0M294.2 240.6h0M290.2 149.9h0M298.4 88.0h0M296.0 168.2h0M291.1 236.3h0M293.2 167.1h0M292.6 171.0h0M293.6 115.6h0M298.9 233.9h0M290.6 89.6h0M296.4 242.4h0M290.0 138.9h0M294.2 209.3h0M291.6 114.2h0M295.4 198.2h0M295.0 228.0h0M295.0 237.7h0M292.4 243.9h0M296.7 167.1h0M285.1 148.7h0M299.4 191.1h0M289.7 187.6h0M295.9 213.7h0M295.8 163.0h0M301.0 165.9h0M293.3 202.9h0M295.9 212.3h0M294.7 240.3h0M298.1 177.3h0M293.0 163.5h0M299.8 127.4h0M291.1 213.1h0M290.0 207.7h0M294.3 178.0h0M301.5 227.0h0M296.9 232.6h0M293.4 212.3h0M296.2 142.5h0M288.8 122.7h0M285.2 230.6h0M294.3 207.8h0M289.4 222.0h0M291.2 187.8h0M295.9 244.7h0M289.0 188.5h0M292.9 153.8h0M292.7 205.4h0M299.8 226.1h0M299.9 141.6h0M293.3 188.4h0M289.3 150.6h0M294.5 198.6h0M296.2 110.5h0M293.5 102.3h0M290.3 180.0h0M294.6 156.6h0M290.4 234.0h0M290.7 162.4h0M299.5 171.9h0M294.6 177.7h0M295.2 204.1h0M293.9 154.9h0M285.8 175.6h0M298.3 203.3h0M284.5 120.4h0M287.5 133.1h0M287.0 144.9h0M290.2 225.0h0M286.6 200.2h0M290.6 154.7h0M297.9 237.1h0M287.7 229.0h0M298.5 206.7h0M292.7 125.7h0M293.5 187.8h0M297.2 168.2h0M292.6 224.1h0M293.6 197.7h0M293.6 237.9h0M290.0 144.3h0M289.0 221.2h0M289.8 206.2h0M290.3 230.4h0M295.2 124.6h0M297.3 181.4h0M299.2 215.5h0M296.7 160.5h0M291.6 178.5h0M290.8 198.8h0M297.0 126.9h0M300.4 193.3h0M287.7 126.7h0M299.3 90.3h0M291.1 249.8h0M297.8 165.7h0M293.7 213.6h0M294.7 148.3h0M304.0 248.0h0"/><path d="M294.7 190.3h0M293.2 242.1h0M293.6 244.8h0M290.5 200.9h0M291.3 170.2h0M290.6 151.5h0M292.1 141.5h0M291.5 166.4h0M291.5 177.5h0M298.6 175.6h0M295.1 143.0h0M289.8 226.0h0M288.8 105.5h0M298.6 132.7h0M292.4 180.1h0M290.5 185.6h0M296.9 222.7h0M290.1 113.5h0M298.8 142.8h0M293.3 237.3h0M288.7 130.5h0M289.6 172.2h0M291.1 83.9h0M291.3 194.4h0M287.8 162.2h0M291.4 242.2h0M293.0 141.6h0M290.6 208.5h0M290.5 203.3h0M293.4 242.3h0M294.7 242.9h0M290.7 179.1h0M296.4 135.6h0M295.5 130.7h0M292.0 207.0h0M296.5 205.4h0M298.8 209.7h0M296.9 198.6h0M297.4 245.4h0M297.8 139.0h0M297.3 116.9h0M293.2 234.1h0M292.8 129.5h0M301.3 152.9h0M293.5 118.2h0M296.6 139.3h0M296.0 217.5h0M292.8 243.5h0M291.6 132.4h0M299.0 108.1h0M290.8 110.3h0M293.4 77.6h0M297.3 92.3h0M291.7 213.6h0M295.4 183.1h0M298.3 177.9h0M299.7 130.4h0M296.1 100.9h0M292.8 235.7h0M293.0 233.2h0M297.9 122.7h0M293.4 231.2h0M294.5 153.4h0M299.1 187.7h0M293.1 243.9h0M290.6 103.4h0M298.5 179.0h0M295.4 174.4h0M297.1 197.6h0M293.8 244.2h0M302.0 158.4h0M295.0 189.1h0M292.4 214.3h0M292.1 137.0h0M297.7 160.8h0M289.6 118.4h0M292.9 121.4h0M294.2 243.3h0M297.0 147.8h0M289.4 251.7h0M298.2 244.0h0M292.5 195.7h0M294.8 197.0h0M290.7 226.4h0M294.7 124.9h0M297.4 153.9h0M294.6 125.3h0M300.4 103.1h0M291.8 169.9h0M288.4 201.8h0M300.9 169.7h0M289.4 218.8h0M294.8 210.7h0M295.6 249.2h0M288.0 104.3h0M293.0 230.1h0M286.9 124.7h0M295.6 169.6h0M299.2 178.2h0M293.6 227.6h0M296.2 239.0h0M290.4 109.7h0M292.7 178.0h0M298.2 242.8h0M297.0 188.5h0M292.1 203.6h0M291.8 130.7h0M290.2 133.8h0M296.1 236.4h0M296.5 226.7h0M295.9 230.3h0M293.4 140.9h0M298.0 146.6h0M290.9 189.9h0M300.8 102.8h0M293.9 212.4h0M298.5 194.8h0M296.4 210.3h0M289.5 214.6h0M294.0 171.5h0M297.0 135.3h0M295.2 96.1h0M292.1 240.0h0M296.1 246.4h0M293.2 195.8h0M298.7 184.7h0M287.8 152.0h0M289.5 150.1h0M294.6 211.7h0M298.6 170.0h0M290.9 240.6h0M299.5 188.1h0M297.8 169.9h0M298.6 143.6h0M294.0 219.3h0M290.3 206.2h0M295.2 115.4h0M292.9 204.4h0M294.6 161.6h0M294.9 185.6h0M295.9 121.1h0M294.9 228.8h0M295.2 200.3h0M288.7 171.4h0M288.3 156.7h0M293.5 242.2h0M300.0 127.7h0M291.7 236.6h0M295.1 184.6h0M288.7 224.7h0M295.2 238.0h0M292.0 98.5h0M297.5 219.6h0M297.0 220.8h0M293.9 208.0h0M290.6 216.8h0M292.3 91.1h0M288.5 183.6h0M292.8 197.6h0M292.4 187.2h0M293.1 230.0h0M301.2 135.0h0M290.8 137.1h0M289.2 210.2h0M295.9 163.7h0M292.5 88.2h0M293.3 181.0h0"/><path d="M289.7 75.6h0M297.3 173.1h0M297.8 239.0h0M294.4 168.2h0M294.0 164.9h0M299.2 178.3h0M288.4 192.7h0M295.5 186.7h0M290.4 111.1h0M298.8 145.0h0M302.5 195.3h0M292.3 154.1h0M297.2 213.4h0M291.9 125.3h0M296.0 124.6h0M293.9 178.1h0M293.8 260.5h0M295.3 164.2h0M292.6 210.1h0M292.3 159.7h0M289.4 186.1h0M286.7 196.1h0M290.7 255.7h0M292.8 140.7h0M296.3 183.6h0M296.2 241.1h0M296.1 195.9h0M291.1 225.1h0M299.6 96.8h0M293.1 219.6h0M289.1 164.6h0M299.0 237.6h0M295.5 153.0h0M292.0 202.0h0M296.4 117.1h0M295.9 169.7h0M292.5 102.6h0M297.4 220.1h0M297.0 185.6h0M289.6 235.3h0M287.0 122.8h0M296.3 247.5h0M294.8 155.5h0M293.3 106.5h0M285.5 88.0h0M293.7 122.3h0M297.3 172.9h0M295.5 214.0h0M281.1 179.4h0M289.1 69.1h0M292.5 184.7h0M293.8 100.4h0M300.2 230.7h0M291.8 132.2h0M297.7 124.5h0M296.6 200.7h0M289.2 221.8h0M293.4 135.9h0M296.4 191.8h0M295.8 166.9h0M298.2 244.4h0M294.7 178.5h0M289.1 227.9h0M292.8 148.0h0M293.9 101.7h0M293.1 180.1h0M289.4 199.7h0M298.5 201.6h0M290.4 224.7h0M295.9 190.3h0M294.7 237.4h0M289.9 202.1h0M297.0 123.9h0M295.0 178.2h0M286.1 165.0h0M292.8 217.3h0M290.7 212.7h0M295.2 236.4h0M293.7 180.0h0M301.1 115.8h0M292.8 237.6h0M292.5 121.4h0M299.8 241.7h0M293.6 98.2h0M299.2 226.0h0M296.3 216.7h0M294.4 134.4h0M291.2 115.0h0M290.1 227.7h0M292.1 160.7h0M291.6 202.4h0M300.4 115.9h0M298.6 234.0h0M295.7 156.7h0M290.5 104.2h0M298.1 204.7h0M295.1 235.9h0M298.8 203.4h0M299.3 134.9h0M295.0 247.3h0M295.2 183.7h0M295.5 185.2h0M294.0 93.3h0M300.8 171.8h0M292.0 237.3h0M299.3 120.0h0M293.6 241.4h0M287.6 214.2h0M298.7 197.6h0M292.0 222.8h0M288.3 216.6h0M287.6 195.6h0M289.7 198.6h0M295.0 220.2h0M290.0 227.6h0M296.7 174.2h0M289.2 114.5h0M299.8 121.4h0M294.3 161.4h0M294.0 199.1h0M299.8 202.1h0M300.0 249.0h0M294.1 174.2h0M292.0 179.7h0M290.1 107.9h0M296.3 131.2h0M289.6 224.0h0M301.0 181.1h0M295.8 146.5h0M295.2 177.5h0M301.0 219.8h0M291.9 147.7h0M293.9 243.5h0M298.9 126.0h0M297.7 213.3h0M295.6 156.2h0M296.8 161.6h0M296.7 166.3h0M293.7 208.0h0M294.8 197.3h0M289.9 191.3h0M296.3 172.8h0M289.4 130.0h0M288.1 236.8h0M296.4 211.5h0M297.9 188.3h0M291.3 231.7h0M288.8 244.8h0M294.2 223.5h0M295.4 204.7h0M290.9 224.8h0M288.8 166.0h0M295.2 188.1h0M291.3 204.3h0M295.1 230.8h0M290.7 158.0h0M291.3 186.4h0M292.1 157.1h0M291.1 212.1h0M298.8 234.3h0M291.2 149.0h0M293.9 179.0h0M292.7 188.4h0M291.3 193.3h0M293.1 218.8h0M300.7 99.3h0M299.0 169.5h0"/><path d="M294.1 163.9h0M294.9 220.2h0M289.8 239.5h0M300.5 138.4h0M298.4 172.5h0M290.6 186.8h0M298.6 231.3h0M297.7 245.1h0M292.7 194.0h0M293.9 198.3h0M296.7 90.8h0M287.1 143.4h0M300.2 179.8h0M297.5 239.4h0M292.5 241.8h0M293.5 110.9h0M291.0 142.2h0M302.3 185.8h0M284.4 89.0h0M295.9 232.6h0M294.8 223.2h0M298.9 245.1h0M286.6 237.7h0M296.4 227.2h0M292.2 184.2h0M294.8 173.8h0M303.7 217.1h0M293.9 237.8h0M289.8 152.5h0M296.3 230.7h0M283.9 215.7h0M299.7 148.6h0M287.0 139.0h0M295.8 215.3h0M288.0 176.1h0M299.6 146.0h0M300.2 166.5h0M293.4 194.7h0M292.6 243.5h0M289.8 154.9h0M290.7 190.6h0M290.1 172.5h0M288.8 201.9h0M292.6 153.0h0M287.3 165.9h0M299.1 225.8h0M294.2 211.9h0M296.2 191.6h0M295.2 108.9h0M299.0 145.2h0M293.1 139.1h0M297.7 102.4h0M291.9 181.2h0M293.1 247.5h0M293.5 250.5h0M286.1 240.1h0M305.0 127.6h0M297.0 207.2h0M290.4 171.4h0M292.8 241.0h0M291.4 153.3h0M290.0 113.5h0M293.4 232.7h0M294.5 179.2h0M296.4 213.9h0M298.5 167.2h0M291.6 230.9h0M295.6 123.9h0M296.7 207.4h0M293.4 197.9h0M297.8 207.7h0M285.1 102.8h0M292.4 232.4h0M297.4 188.6h0M298.0 161.4h0M292.2 171.9h0M297.1 157.6h0M296.3 130.2h0M284.5 228.5h0M289.9 243.8h0M288.6 162.6h0M291.4 109.1h0M295.3 102.7h0M294.0 165.1h0M296.5 131.1h0M288.7 151.4h0M287.6 165.1h0M289.4 141.0h0M294.3 243.7h0M292.3 188.3h0M302.6 170.1h0M289.0 179.9h0M296.6 206.6h0M295.5 194.1h0M292.8 183.1h0M297.6 117.9h0M294.2 104.8h0M301.4 224.4h0M293.9 180.1h0M295.0 240.4h0M304.2 235.8h0M293.0 135.7h0M298.8 113.4h0M291.0 234.0h0M303.9 151.0h0M297.2 178.6h0M293.4 255.4h0M293.3 197.9h0M294.3 160.5h0M295.0 154.6h0M294.4 144.8h0M287.3 99.2h0M289.1 74.9h0M294.8 177.4h0M297.5 237.1h0M300.1 206.4h0M295.6 119.6h0M289.3 145.8h0M288.6 136.5h0M298.3 195.4h0M294.1 211.9h0M290.8 199.6h0M299.4 172.0h0M293.6 181.1h0M293.2 174.1h0M295.3 112.4h0M296.1 197.6h0M294.6 167.7h0M300.6 178.1h0M289.9 203.4h0M289.8 159.8h0M285.0 180.9h0M295.2 82.6h0M290.0 190.8h0M291.0 166.3h0M295.7 170.7h0M290.8 159.0h0M289.9 218.9h0M299.8 159.7h0M301.3 133.2h0M298.7 242.8h0M294.9 223.1h0M301.4 245.4h0M285.9 151.1h0M290.4 209.7h0M294.8 205.4h0M291.4 162.2h0M295.4 120.6h0M293.6 122.0h0M295.6 155.5h0M289.7 210.3h0M295.0 193.5h0M296.3 111.8h0M291.7 188.3h0M292.4 170.0h0M299.0 138.7h0M286.8 222.2h0M294.6 238.1h0M293.4 232.3h0M285.6 219.5h0M289.4 142.2h0M298.3 202.4h0M292.3 168.7h0M292.0 206.7h0M289.8 170.6h0M292.7 197.6h0M290.3 125.6h0"/><path d="M288.3 221.7h0M295.5 208.2h0M293.1 229.8h0M288.4 229.3h0M290.5 203.6h0M294.4 236.2h0M292.3 150.4h0M293.9 181.6h0M292.6 249.0h0M297.0 235.6h0M295.0 92.9h0M297.1 161.9h0M291.8 144.9h0M295.0 183.8h0M295.7 138.6h0M293.1 244.0h0M299.9 159.8h0M299.6 238.7h0M288.1 206.4h0M293.0 182.3h0M289.9 114.1h0M299.3 211.5h0M288.0 185.6h0M294.1 247.6h0M293.4 222.3h0M290.1 213.7h0M296.7 237.9h0M290.2 166.7h0M286.0 213.4h0M300.4 109.0h0M293.3 160.3h0M288.3 204.1h0M290.9 115.4h0M298.1 203.0h0M296.7 239.4h0M296.2 110.7h0M297.3 199.3h0M292.7 139.5h0M291.5 177.8h0M294.1 177.6h0M286.3 193.5h0M298.0 142.3h0M296.6 155.5h0M290.5 159.3h0M292.4 201.1h0M296.6 111.9h0M295.4 245.5h0M298.0 166.9h0M299.6 212.9h0M299.9 143.7h0M283.1 190.1h0M296.1 121.3h0M298.0 174.6h0M294.6 200.5h0M301.6 89.7h0M291.7 175.9h0M290.8 195.8h0M292.6 192.7h0M298.6 153.1h0M297.3 141.0h0M295.3 184.6h0M299.5 175.7h0M293.4 209.9h0M297.1 215.1h0M299.8 172.6h0M299.3 223.0h0M294.8 235.4h0M296.4 169.4h0M293.5 232.3h0M294.7 204.8h0M302.2 248.7h0M288.0 178.8h0M291.0 215.3h0M299.2 177.0h0M299.6 248.3h0M296.1 175.2h0M290.3 208.6h0M297.9 214.4h0M282.4 237.7h0M289.6 240.4h0M291.5 139.9h0M301.7 128.0h0M299.1 141.5h0M292.8 230.8h0M289.1 178.9h0M292.1 223.4h0M293.9 130.4h0M292.8 123.7h0M291.2 222.6h0M289.3 209.5h0M299.7 176.1h0M292.6 232.1h0M293.5 251.4h0M291.4 152.5h0M290.4 223.0h0M296.0 250.7h0M299.3 174.8h0M298.6 214.8h0M290.7 141.0h0M291.4 133.9h0M294.4 129.2h0M283.3 177.7h0M291.2 150.3h0M292.5 126.2h0M293.1 245.3h0M292.6 190.6h0M291.5 218.1h0M299.9 172.0h0M299.1 99.1h0M292.1 200.9h0M293.0 155.5h0M295.5 166.0h0M295.6 113.4h0M291.4 172.5h0M293.2 227.5h0M297.5 185.5h0M290.6 215.0h0M283.8 179.3h0M297.7 148.7h0M296.8 171.9h0M295.8 202.7h0M296.2 184.2h0M293.1 232.8h0M293.6 202.5h0M301.2 185.8h0M290.6 188.3h0M291.4 202.1h0M287.8 116.4h0M298.8 162.3h0M286.4 231.0h0M281.7 187.9h0M296.2 149.4h0M298.1 197.0h0M293.5 167.7h0M296.5 241.5h0M295.3 147.1h0M293.6 239.0h0M287.3 172.0h0M292.8 238.0h0M295.9 173.9h0M289.5 141.7h0M290.8 214.7h0M287.4 110.6h0M296.2 222.7h0M293.6 209.1h0M294.5 142.4h0M296.8 182.9h0M301.4 114.6h0M301.9 240.0h0M294.6 250.8h0M296.5 234.4h0M298.6 238.1h0M301.0 243.4h0M293.5 176.2h0M296.0 145.6h0M298.8 236.1h0M293.5 239.9h0M298.5 210.6h0M290.7 109.7h0M291.3 219.6h0M290.5 231.9h0M300.0 241.3h0M295.3 246.3h0M295.2 156.5h0M293.8 126.0h0M292.3 244.5h0M299.1 213.5h0"/><path d="M292.5 177.0h0M289.1 248.8h0M294.2 219.1h0M293.8 169.7h0M292.8 131.2h0M292.4 91.8h0M290.0 185.1h0M294.5 144.9h0M300.9 124.1h0M292.0 208.0h0M302.5 84.8h0M293.5 243.8h0M296.4 98.6h0M297.1 212.8h0M299.0 234.3h0M298.7 189.6h0M293.3 215.5h0M296.0 189.4h0M289.2 132.1h0M290.2 213.7h0M295.0 182.1h0M292.9 200.1h0M294.4 202.0h0M292.4 173.6h0M290.6 109.6h0M293.9 184.5h0M296.8 220.0h0M298.7 237.4h0M300.0 117.4h0M290.9 191.2h0M293.5 239.3h0M291.5 228.8h0M291.2 247.2h0M297.6 226.0h0M295.7 161.0h0M288.7 253.7h0M291.3 104.2h0M293.8 178.1h0M292.6 130.2h0M283.7 192.4h0M292.7 175.4h0M295.2 129.0h0M290.8 202.4h0M301.9 175.6h0M298.3 197.9h0M293.9 193.0h0M294.4 103.7h0M294.3 83.0h0M288.6 196.5h0M289.1 219.9h0M292.8 258.2h0M298.3 233.1h0M296.5 175.9h0M300.4 259.0h0M296.3 205.7h0M293.7 202.2h0M302.5 197.7h0M299.3 208.8h0M294.6 166.6h0M287.5 196.6h0M293.0 93.4h0M287.5 190.7h0M287.1 170.7h0M292.9 179.8h0M287.2 180.5h0M298.1 175.1h0M294.2 244.9h0M286.2 91.3h0M288.3 117.6h0M293.6 205.7h0M298.5 108.3h0M289.5 152.6h0M292.0 178.0h0M295.1 169.3h0M299.9 193.9h0M289.2 241.5h0M291.6 184.3h0M292.0 212.9h0M295.7 235.9h0M288.1 123.1h0M291.2 245.3h0M295.5 254.5h0M296.0 188.9h0M302.7 237.6h0M287.5 132.8h0M289.0 261.5h0M288.6 202.4h0M300.3 107.0h0M293.7 244.7h0M296.0 135.3h0M288.5 165.8h0M288.8 169.2h0M294.9 144.2h0M295.6 151.3h0M287.8 235.4h0M293.8 221.7h0M287.2 187.0h0M290.8 170.7h0M292.8 173.6h0M292.2 209.2h0M295.2 211.1h0M298.6 216.2h0M294.9 211.6h0M291.1 222.5h0M300.2 94.4h0M295.4 227.1h0M287.4 170.9h0M296.9 227.9h0M295.5 175.8h0M295.8 158.7h0M294.8 188.5h0M302.9 201.1h0M293.9 169.6h0M298.9 138.6h0M297.6 220.5h0M292.2 179.2h0M293.7 239.0h0M292.1 179.8h0M291.6 158.1h0M289.8 65.0h0M297.6 217.3h0M295.0 201.4h0M291.3 228.3h0M295.2 148.5h0M293.5 204.0h0M293.7 221.5h0M292.0 202.0h0M289.3 157.9h0M295.6 159.4h0M296.3 204.0h0M293.8 228.4h0M297.3 201.1h0M293.8 69.4h0M293.0 100.6h0M292.7 249.1h0M289.6 185.8h0M298.6 207.9h0M287.0 166.8h0M288.5 212.4h0M295.6 235.1h0M291.2 109.9h0M292.4 241.8h0M288.1 151.4h0M294.7 109.8h0M288.0 176.4h0M291.8 127.4h0M296.8 196.1h0M285.9 73.2h0M295.5 208.4h0M296.0 88.0h0M292.2 172.0h0M298.6 154.3h0M287.1 248.6h0M291.3 223.5h0M293.6 72.4h0M293.5 192.4h0M291.0 109.9h0M300.5 179.1h0M288.5 209.0h0M290.4 230.0h0M289.4 236.6h0M287.4 128.2h0M296.3 167.1h0M296.1 229.9h0M300.9 139.0h0M300.5 219.2h0M292.4 155.2h0"/><path d="M298.5 235.8h0M297.6 240.6h0M288.3 108.9h0M285.5 148.9h0M290.1 157.3h0M290.3 188.0h0M294.6 125.8h0M297.4 182.1h0M293.3 249.7h0M288.2 196.1h0M296.7 225.5h0M297.7 240.6h0M300.4 129.3h0M288.6 237.9h0M289.7 132.2h0M297.6 168.1h0M294.9 195.2h0M297.5 233.3h0M293.1 245.9h0M296.7 93.6h0M295.7 176.5h0M292.5 244.7h0M294.6 78.4h0M286.5 191.6h0M286.6 227.3h0M292.1 246.2h0M298.2 155.8h0M292.3 220.1h0M291.7 217.5h0M299.6 237.3h0M288.1 178.1h0M298.7 219.9h0M298.8 149.8h0M295.8 243.8h0M296.7 186.4h0M295.2 179.9h0M296.8 210.7h0M298.8 101.7h0M289.3 138.8h0M296.6 186.4h0M291.4 62.3h0M299.6 233.9h0M291.9 159.8h0M296.6 185.0h0M294.7 132.1h0M296.3 177.1h0M295.2 114.2h0M294.4 247.8h0M291.3 227.0h0M305.1 250.0h0M298.2 215.5h0M292.4 157.0h0M296.0 235.9h0M303.3 96.8h0M296.8 216.2h0M299.9 246.6h0M295.3 207.3h0M295.8 116.2h0M289.1 133.9h0M297.1 114.9h0M289.2 192.7h0M292.7 237.5h0M290.5 199.3h0M297.4 120.5h0M293.2 175.5h0M289.2 161.3h0M290.6 118.2h0M293.5 231.0h0M298.5 243.4h0M295.7 221.3h0M295.4 215.0h0M291.2 179.0h0M288.7 204.5h0M305.0 235.8h0M293.2 229.7h0M306.4 179.4h0M293.7 145.0h0M297.9 230.2h0M292.2 241.5h0M291.1 131.8h0M295.7 120.3h0M289.6 130.6h0M294.6 172.7h0M294.5 241.0h0M296.6 200.5h0M293.9 162.7h0M296.4 201.4h0M289.4 222.9h0M293.3 129.0h0M298.1 179.5h0M295.9 242.9h0M298.0 74.1h0M292.3 169.7h0M294.0 169.9h0M295.1 183.6h0M292.5 204.3h0M289.8 229.7h0M293.0 159.8h0M286.7 117.8h0M291.1 143.5h0M296.8 237.2h0M297.0 119.9h0M291.8 158.4h0M284.3 186.2h0M291.7 190.6h0M299.0 228.8h0M297.3 204.9h0M293.0 225.0h0M291.4 160.9h0M294.0 127.7h0M291.0 217.0h0M290.8 229.6h0M297.6 183.3h0M295.0 240.0h0M300.0 214.1h0M293.9 114.9h0M295.2 196.9h0M291.0 232.7h0M301.6 182.5h0M291.1 179.9h0M293.6 241.5h0M292.0 228.1h0M298.8 230.9h0M296.7 212.2h0M289.8 135.7h0M291.4 236.2h0M301.1 242.9h0M287.7 163.4h0M292.5 114.4h0M294.8 208.6h0M298.9 160.4h0M287.8 251.3h0M293.5 149.4h0M287.8 238.0h0M296.4 240.3h0M295.5 115.2h0M298.6 179.6h0M291.0 234.5h0M293.5 223.0h0M287.0 213.8h0M291.2 246.4h0M289.0 98.2h0M296.2 115.1h0M293.1 105.2h0M292.4 235.7h0M289.5 181.0h0M291.7 244.9h0M286.3 169.9h0M297.9 193.2h0M299.1 216.6h0M289.6 239.8h0M295.4 159.3h0M295.1 189.0h0M291.9 216.2h0M292.4 181.5h0M290.0 157.7h0M294.3 113.5h0M299.8 238.5h0M293.2 147.1h0M292.8 181.0h0M295.3 238.1h0M295.0 246.4h0M293.1 184.4h0M287.8 106.0h0M285.6 225.5h0M295.3 114.5h0M296.1 176.7h0"/><path d="M293.4 215.4h0M299.2 149.4h0M292.6 204.4h0M295.7 248.2h0M300.0 259.3h0M295.3 229.8h0M295.9 216.7h0M301.2 246.9h0M298.4 116.7h0M292.2 242.8h0M295.2 117.0h0M293.6 228.3h0M291.8 209.0h0M293.0 173.3h0M286.8 222.9h0M292.6 204.6h0M292.1 168.4h0M303.4 248.0h0M292.7 235.3h0M298.0 175.1h0M294.4 205.7h0M289.1 206.4h0M300.5 130.3h0M290.0 249.1h0M295.1 169.4h0M288.5 175.3h0M289.6 90.9h0M291.0 187.8h0M294.4 203.9h0M289.4 252.3h0M293.4 242.3h0M300.9 179.7h0M296.0 117.1h0M293.3 197.8h0M296.0 180.4h0M289.5 233.2h0M296.3 169.2h0M286.4 156.4h0M287.0 204.6h0M302.8 209.1h0M303.8 159.8h0M285.3 211.6h0M300.2 160.1h0M291.6 222.3h0M288.1 209.0h0M298.5 230.2h0M292.4 144.4h0M291.7 141.7h0M294.9 133.1h0M286.0 248.2h0M297.8 172.5h0M306.5 111.8h0M285.6 165.7h0M294.1 219.0h0M291.2 245.6h0M293.3 173.0h0M293.8 141.8h0M305.9 88.7h0M291.4 238.1h0M295.4 166.3h0M291.7 124.7h0M288.7 135.2h0M298.9 223.1h0M292.3 140.5h0M294.2 185.6h0M284.5 173.4h0M302.1 119.7h0M296.0 219.0h0M291.8 119.2h0M294.0 210.4h0M299.2 246.0h0M290.8 250.5h0M290.9 110.6h0M293.8 151.1h0M293.7 117.3h0M293.2 104.4h0M294.1 206.9h0M296.0 157.2h0M287.5 169.9h0M293.7 136.0h0M289.6 84.3h0M294.8 188.6h0M292.9 159.5h0M292.6 230.0h0M292.7 168.9h0M290.8 124.2h0M292.6 240.7h0M291.1 143.7h0M291.6 142.7h0M293.5 181.6h0M281.1 128.5h0M290.1 160.8h0M292.3 144.3h0M287.5 178.6h0M292.2 232.6h0M292.9 100.5h0M290.2 230.0h0M295.1 88.4h0M293.0 178.1h0M295.5 196.1h0M295.3 173.2h0M291.9 126.7h0M293.5 238.2h0M290.4 206.5h0M294.6 186.5h0M285.3 100.1h0M295.0 213.3h0M295.8 238.9h0M299.8 94.9h0M292.7 134.2h0M296.8 246.0h0M296.9 242.0h0M293.6 206.6h0M290.0 111.2h0M297.8 233.3h0M299.0 172.6h0M294.0 162.1h0M288.9 131.8h0M293.0 116.9h0M304.4 226.6h0M295.5 209.6h0M290.0 248.6h0M296.4 171.7h0M290.8 163.4h0M295.3 119.3h0M296.1 226.2h0M295.9 198.2h0M296.4 198.1h0M289.1 173.0h0M298.0 109.0h0M287.7 231.9h0M291.4 150.0h0M293.4 142.7h0M290.1 245.7h0M295.0 127.4h0M297.7 158.8h0M296.7 227.7h0M295.9 182.8h0M295.6 217.9h0M287.3 230.7h0M298.0 182.3h0M290.8 142.3h0M300.0 232.4h0M291.0 138.2h0M295.3 260.3h0M296.3 229.4h0M290.0 180.2h0M292.0 175.5h0M302.3 229.4h0M289.1 208.5h0M297.1 220.9h0M289.5 165.3h0M297.7 251.9h0M287.0 188.0h0M296.2 120.2h0M298.2 215.0h0M298.0 128.6h0M296.1 236.1h0M295.7 247.8h0M295.4 200.1h0M298.4 122.2h0M291.9 174.5h0M302.2 246.9h0M284.6 243.6h0M293.7 248.0h0M299.1 119.0h0M285.4 221.5h0"/><path d="M290.5 127.3h0M292.6 185.4h0M289.5 188.6h0M289.6 247.4h0M297.3 137.0h0M298.3 204.1h0M300.1 247.2h0M299.9 219.2h0M288.7 81.8h0M291.4 227.8h0M290.1 185.7h0M293.6 138.1h0M295.2 114.5h0M290.7 153.5h0M294.9 245.1h0M298.0 118.5h0M296.0 106.3h0M296.2 229.6h0M292.3 221.4h0M287.9 242.1h0M299.1 116.7h0M294.4 161.9h0M292.8 132.3h0M291.0 210.1h0M294.4 175.2h0M296.7 139.3h0M291.5 173.5h0M293.3 245.6h0M295.1 139.7h0M289.3 196.4h0M290.9 220.6h0M287.7 158.3h0M287.5 148.1h0M287.1 242.6h0M298.4 111.1h0M296.5 121.0h0M293.5 215.4h0M291.1 231.6h0M291.4 128.2h0M291.4 159.4h0M299.3 215.5h0M291.3 201.2h0M296.9 238.8h0M289.5 236.1h0M291.7 192.5h0M290.5 135.4h0M292.1 187.7h0M292.0 247.1h0M284.8 173.3h0M300.9 166.3h0M295.2 191.1h0M300.9 122.0h0M288.5 178.2h0M299.5 213.7h0M296.2 164.3h0M294.2 180.3h0M298.2 81.1h0M286.0 150.1h0M296.4 249.2h0M301.0 177.2h0M303.5 185.0h0M296.2 230.6h0M286.7 245.9h0M292.8 176.8h0M291.0 233.1h0M292.5 140.3h0M296.1 134.3h0M300.7 198.3h0M296.4 173.2h0M294.7 106.9h0M297.7 128.4h0M290.4 114.2h0M292.9 122.2h0M297.3 242.9h0M296.6 242.9h0M295.0 185.3h0M289.7 225.5h0M291.3 201.0h0M289.2 110.9h0M298.9 203.5h0M297.1 204.4h0M294.3 93.7h0M293.4 125.0h0M289.4 194.6h0M292.9 120.4h0M288.2 228.8h0M297.3 131.5h0M286.4 210.6h0M288.5 174.2h0M291.9 163.6h0M291.0 155.0h0M300.7 146.0h0M292.9 256.8h0M293.2 140.3h0M296.7 160.8h0M293.1 128.7h0M300.7 239.1h0M297.2 179.5h0M290.3 114.8h0M295.1 107.8h0M284.9 243.8h0M295.3 203.5h0M292.0 130.4h0M293.9 213.9h0M293.0 168.0h0M296.2 97.3h0M297.3 252.2h0M293.3 210.8h0M287.8 191.8h0M295.6 192.4h0M296.4 223.9h0M287.6 169.9h0M291.3 186.0h0M291.3 236.3h0M293.3 230.1h0M294.4 135.6h0M295.8 177.3h0M295.0 206.2h0M299.7 203.0h0M298.2 160.1h0M294.8 207.6h0M294.6 201.2h0M297.9 127.3h0M300.5 205.2h0M294.7 248.3h0M293.3 225.9h0M292.2 78.8h0M287.9 202.2h0M294.5 157.2h0M289.5 186.5h0M292.2 151.9h0M291.5 199.4h0M293.5 190.7h0M299.0 151.2h0M298.6 136.0h0M297.2 225.6h0M298.6 239.4h0M293.6 171.2h0M292.8 163.2h0M296.4 198.2h0M291.8 212.8h0M283.8 125.0h0M295.7 191.4h0M296.5 56.7h0M290.6 178.4h0M291.1 126.0h0M292.1 121.8h0M289.6 145.6h0M296.7 217.8h0M293.8 216.6h0M295.7 158.9h0M296.0 128.1h0M294.5 245.1h0M290.7 162.6h0M296.7 202.9h0M290.7 244.5h0M289.7 237.9h0M285.6 139.0h0M302.7 118.1h0M286.4 241.3h0M287.3 120.0h0M303.5 226.0h0M293.6 202.1h0M294.0 217.5h0M294.3 179.9h0M297.0 220.0h0M289.0 207.4h0"/><path d="M290.2 121.8h0M293.6 231.9h0M296.3 225.7h0M293.6 241.5h0M299.9 182.4h0M298.6 182.9h0M289.9 180.2h0M292.9 122.1h0M291.8 214.3h0M297.3 87.9h0M287.8 233.2h0M293.5 236.3h0M297.3 128.2h0M291.8 218.6h0M296.9 122.2h0M294.1 132.7h0M294.7 216.8h0M292.9 145.9h0M296.4 138.8h0M292.2 106.8h0M294.7 232.1h0M292.6 184.6h0M295.0 174.4h0M296.3 126.4h0M292.7 202.5h0M294.7 137.8h0M295.2 231.3h0M296.5 183.2h0M300.6 199.3h0M301.8 214.8h0M289.2 246.0h0M299.2 190.4h0M296.3 241.3h0M293.8 240.3h0M289.9 187.4h0M295.6 243.3h0M296.2 172.3h0M297.5 122.5h0M296.2 114.1h0M295.6 185.2h0M295.5 126.8h0M291.8 174.6h0M291.5 228.5h0M293.9 158.6h0M292.9 169.1h0M289.7 158.0h0M298.5 145.9h0M300.6 230.5h0M292.7 186.0h0M298.3 176.2h0M294.1 202.8h0M291.7 231.8h0M292.2 225.9h0M295.1 173.5h0M298.5 179.1h0M289.0 192.7h0M294.4 107.3h0M290.9 109.0h0M291.6 177.0h0M289.0 156.3h0M296.8 187.3h0M298.9 185.8h0M293.9 235.1h0M289.8 162.1h0M298.1 196.9h0M286.8 213.8h0M303.9 168.3h0M291.0 143.7h0M291.1 141.0h0M305.2 217.6h0M290.1 235.7h0M296.7 103.3h0M301.3 217.9h0M289.8 232.7h0M294.3 198.3h0M298.9 206.5h0M294.3 129.9h0M297.2 230.2h0M291.9 242.7h0M291.5 220.4h0M293.2 187.1h0M298.9 209.9h0M292.2 209.0h0M297.7 241.5h0M296.0 215.0h0M291.0 141.8h0M298.6 189.0h0M290.6 215.7h0M294.5 201.8h0M300.8 100.7h0M297.0 231.5h0M289.2 173.9h0M293.6 104.4h0M296.7 213.9h0M294.8 158.4h0M292.7 177.2h0M298.8 169.9h0M292.4 232.7h0M295.6 139.1h0M292.0 245.7h0M299.9 114.5h0M287.0 210.9h0M295.0 213.5h0M292.5 244.8h0M293.6 159.5h0M293.3 193.7h0M297.4 145.5h0M285.9 231.5h0M290.2 120.6h0M288.4 213.3h0M300.8 173.8h0M289.9 187.7h0M293.8 178.2h0M293.5 104.6h0M292.2 216.1h0M294.4 250.2h0M291.8 165.7h0M292.3 179.7h0M297.7 136.8h0M296.0 192.1h0M290.5 223.7h0M297.1 134.1h0M295.2 254.4h0M294.2 172.7h0M299.3 171.3h0M300.9 94.5h0M296.8 231.5h0M293.9 114.6h0M295.7 120.1h0M292.1 231.4h0M291.7 161.3h0M297.2 214.3h0M291.8 143.2h0M296.5 224.8h0M296.2 192.5h0M294.0 235.2h0M293.8 180.8h0M294.5 178.2h0M293.9 94.0h0M297.7 217.7h0M292.0 81.7h0M289.7 230.1h0M286.2 125.0h0M292.4 250.3h0M286.8 174.6h0M289.1 104.9h0M303.2 224.9h0M290.7 145.2h0M291.9 231.8h0M288.8 96.1h0M290.6 100.7h0M290.8 126.6h0M291.9 211.9h0M295.4 204.6h0M300.4 168.6h0M294.3 173.6h0M291.9 199.2h0M290.1 234.0h0M302.4 182.6h0M292.6 186.6h0M299.0 135.7h0M301.1 240.6h0M299.6 182.8h0M289.4 172.8h0M294.2 219.5h0M292.1 194.7h0M296.0 112.8h0"/><path d="M291.0 100.2h0M291.0 186.4h0M293.5 188.3h0M299.7 256.7h0M292.9 138.6h0M297.8 109.3h0M296.0 224.0h0M300.2 115.9h0M297.6 125.5h0M293.2 232.7h0M290.5 220.7h0M292.9 124.9h0M288.1 195.9h0M293.6 255.7h0M296.6 213.7h0M298.8 207.1h0M301.9 199.7h0M301.9 239.7h0M297.3 246.7h0M292.8 230.2h0M287.9 101.1h0M289.0 132.2h0M295.3 116.4h0M298.2 234.2h0M291.3 130.1h0M291.1 202.9h0M292.0 120.4h0M296.1 114.4h0M299.2 202.5h0M295.5 245.1h0M292.4 253.2h0M293.5 197.9h0M292.1 166.9h0M290.4 182.7h0M290.6 217.0h0M293.6 172.1h0M295.3 124.8h0M301.0 177.6h0M290.6 214.9h0M293.1 191.2h0M295.2 115.4h0M296.6 182.8h0M297.5 113.4h0M293.2 160.6h0M292.3 193.8h0M290.9 224.3h0M292.7 164.9h0M298.8 172.2h0M297.1 184.6h0M294.9 177.2h0M290.5 240.8h0M300.2 186.4h0M292.5 162.8h0M295.5 188.6h0M288.8 83.5h0M292.0 109.2h0M287.9 131.9h0M289.3 194.8h0M292.9 174.8h0M301.0 216.8h0M296.1 242.5h0M285.7 199.0h0M292.2 236.4h0M295.1 138.2h0M293.2 144.6h0M292.9 121.3h0M290.6 198.4h0M288.5 196.4h0M295.4 203.2h0M293.4 204.3h0M292.9 183.9h0M294.3 239.2h0M294.3 106.5h0M289.4 143.5h0M293.1 112.0h0M292.7 174.9h0M291.9 169.4h0M288.6 227.5h0M300.4 162.1h0M291.4 125.1h0M289.6 76.5h0M298.2 171.3h0M299.5 237.5h0M297.1 71.4h0M288.2 122.6h0M296.3 135.3h0M293.0 236.1h0M293.1 189.1h0M292.1 177.6h0M291.2 94.1h0M293.7 184.4h0M293.9 208.1h0M290.6 177.0h0M292.5 80.3h0M294.1 78.0h0M295.1 137.4h0M284.1 177.0h0M294.5 105.3h0M290.1 181.1h0M290.1 194.7h0M294.4 242.5h0M295.1 179.7h0M292.8 175.5h0M290.3 180.6h0M297.5 117.8h0M290.3 211.2h0M297.3 214.0h0M290.2 189.7h0M294.4 206.4h0M300.0 171.4h0M290.2 191.6h0M295.7 177.1h0M296.0 157.6h0M294.8 252.6h0M293.4 203.0h0M297.9 214.3h0M297.4 127.1h0M294.8 240.5h0M298.4 242.2h0M291.8 189.2h0M297.1 225.6h0M294.6 227.4h0M296.0 224.5h0M298.2 233.0h0M297.1 164.8h0M288.8 164.7h0M296.1 161.8h0M300.7 218.1h0M292.2 171.5h0M300.0 212.4h0M289.5 159.2h0M296.1 204.4h0M295.9 214.0h0M298.1 237.3h0M291.8 221.0h0M294.6 172.3h0M296.7 221.2h0M294.1 138.7h0M294.5 115.8h0M299.8 201.0h0M295.4 123.3h0M293.6 244.5h0M288.0 203.9h0M292.3 184.5h0M288.2 179.8h0M284.6 125.4h0M289.5 254.7h0M296.6 199.7h0M293.6 220.2h0M292.1 209.8h0M296.4 233.7h0M294.0 170.6h0M288.4 141.9h0M293.9 242.9h0M283.3 118.1h0M297.2 244.3h0M292.0 219.5h0M296.4 184.6h0M299.4 148.2h0M293.3 187.3h0M293.3 149.6h0M290.9 144.7h0M290.7 119.8h0M294.7 169.6h0M293.5 219.4h0M294.3 184.0h0M302.5 163.6h0"/><path d="M290.4 108.5h0M292.2 213.6h0M291.2 212.7h0M296.4 205.7h0M293.9 123.0h0M290.0 186.9h0M300.8 243.9h0M286.5 174.0h0M294.6 163.1h0M296.5 197.3h0M293.0 205.0h0M290.7 118.2h0M290.8 122.4h0M289.1 247.3h0M297.0 171.8h0M289.6 164.3h0M287.7 91.9h0M290.6 214.9h0M294.3 123.8h0M291.7 239.9h0M299.3 142.1h0M295.6 102.7h0M297.5 191.7h0M294.0 160.8h0M293.3 173.5h0M294.1 106.6h0M296.2 231.4h0M300.6 238.5h0M292.4 173.8h0M291.2 245.0h0M296.6 190.7h0M292.6 123.1h0M295.2 91.3h0M294.9 135.8h0M297.1 89.5h0M295.5 84.8h0M297.3 177.2h0M297.1 138.7h0M292.5 243.8h0M296.5 103.3h0M292.1 199.5h0M285.6 170.7h0M299.9 178.2h0M291.9 128.5h0M291.4 202.2h0M289.1 179.9h0M295.5 125.7h0M297.8 166.0h0M295.4 209.7h0M294.4 226.8h0M293.4 199.3h0M295.2 207.7h0M290.7 113.6h0M292.2 187.6h0M295.5 161.2h0M294.7 132.1h0M292.3 179.1h0M300.7 208.1h0M295.1 182.4h0M294.7 114.4h0M293.0 128.5h0M291.0 202.5h0M289.6 103.7h0M300.5 233.3h0M294.4 124.1h0M295.8 229.1h0M288.4 203.8h0M302.1 186.3h0M292.8 216.2h0M296.1 166.5h0M289.1 71.1h0M300.1 216.9h0M294.1 172.9h0M290.8 215.4h0M291.9 81.6h0M292.9 192.7h0M294.7 243.2h0M297.3 193.2h0M296.5 177.8h0M295.7 97.1h0M294.5 190.3h0M301.4 140.5h0M288.2 146.1h0M291.6 192.9h0M299.4 216.9h0M291.4 177.8h0M297.0 232.2h0M303.3 212.1h0M296.4 152.2h0M294.4 226.0h0M289.5 234.1h0M289.6 209.9h0M288.3 221.7h0M294.8 226.1h0M299.4 83.9h0M293.0 161.2h0M297.0 152.9h0M287.2 190.7h0M299.9 210.7h0M298.0 237.4h0M297.1 214.4h0M292.1 235.1h0M296.8 224.3h0M288.0 232.3h0M297.7 238.8h0M290.2 180.2h0M291.0 97.1h0M297.5 216.4h0M293.6 174.9h0M296.8 127.2h0M290.1 104.2h0M294.9 175.5h0M293.9 99.7h0M297.6 102.5h0M288.7 163.4h0M287.9 182.7h0M294.8 230.8h0M302.7 233.5h0M292.0 248.7h0M291.0 224.4h0M292.6 209.0h0M293.0 91.7h0M290.0 229.3h0M293.3 226.2h0M291.9 218.3h0M300.3 211.5h0M301.4 183.7h0M299.6 230.1h0M291.4 110.0h0M299.0 142.0h0M302.1 223.8h0M286.9 86.4h0M299.8 194.5h0M288.7 210.4h0M292.9 228.1h0M296.6 189.6h0M296.8 199.7h0M291.3 214.4h0M291.8 179.6h0M290.6 132.8h0M301.3 205.0h0M289.1 124.8h0M295.2 170.7h0M288.4 235.4h0M287.6 171.6h0M296.7 204.8h0M290.4 172.0h0M291.5 160.4h0M292.0 176.2h0M295.7 241.3h0M299.8 225.7h0M289.7 103.6h0M293.5 146.7h0M299.0 194.2h0M294.8 199.4h0M294.0 163.9h0M298.1 203.0h0M293.6 188.9h0M292.3 206.1h0M296.3 210.0h0M294.7 117.9h0M299.3 177.6h0M293.1 135.7h0M293.1 184.4h0M287.7 207.9h0M297.0 101.9h0"/><path d="M297.3 160.8h0M291.0 248.3h0M290.6 246.6h0M302.1 180.8h0M283.7 243.9h0M287.4 203.5h0M291.4 185.3h0M296.0 189.7h0M290.2 183.2h0M293.3 167.0h0M289.8 226.3h0M304.5 161.5h0M291.4 170.6h0M292.8 220.8h0M296.0 69.2h0M293.4 228.7h0M292.3 217.6h0M289.5 194.7h0M289.9 248.6h0M297.6 181.4h0M298.0 91.9h0M289.8 172.4h0M293.8 178.5h0M298.6 207.8h0M297.1 169.3h0M294.4 182.9h0M295.8 105.3h0M290.5 236.8h0M298.1 137.6h0M290.5 190.2h0M290.1 57.1h0M299.1 188.7h0M298.0 234.5h0M293.4 239.7h0M303.3 214.1h0M298.5 235.3h0M292.5 172.2h0M299.9 120.5h0M290.9 167.1h0M292.8 108.9h0M290.0 203.4h0M292.7 133.8h0M300.1 120.9h0M292.6 99.8h0M293.1 168.2h0M287.7 233.0h0M291.1 171.0h0M283.7 105.7h0M293.5 209.1h0M292.6 160.7h0M291.2 121.4h0M292.0 230.6h0M294.8 206.9h0M291.1 212.4h0M298.8 233.2h0M297.6 227.3h0M292.7 192.6h0M287.7 177.0h0M292.7 153.5h0M296.7 198.3h0M298.4 233.3h0M292.6 198.1h0M294.6 211.5h0M298.0 190.5h0M295.3 211.3h0M290.6 154.7h0M298.9 139.7h0M289.5 153.1h0M292.8 237.1h0M291.8 216.0h0M300.6 259.4h0M293.3 205.1h0M286.7 206.3h0M299.3 167.5h0M301.5 214.3h0M295.4 86.7h0M297.3 244.5h0M292.5 229.5h0M297.2 226.8h0M285.6 210.6h0M285.3 165.7h0M291.0 171.7h0M296.1 134.9h0M296.5 233.2h0M295.0 105.3h0M292.8 117.0h0M292.5 227.6h0M293.3 159.8h0M291.1 210.4h0M290.7 209.3h0M293.3 236.2h0M294.2 216.7h0M291.1 236.0h0M295.2 248.0h0M298.2 210.8h0M296.8 232.1h0M291.5 131.2h0M297.3 101.0h0M293.5 134.1h0M294.1 226.1h0M294.5 136.0h0M297.7 174.9h0M294.0 92.9h0M292.5 174.7h0M300.6 118.4h0M287.4 241.3h0M287.8 110.4h0M294.3 114.4h0M295.6 141.5h0M300.7 200.5h0M296.5 158.6h0M293.4 131.4h0M301.1 139.1h0M290.5 190.9h0M299.3 171.4h0M298.7 132.5h0M292.9 117.5h0M291.3 172.8h0M291.3 162.3h0M294.1 123.0h0M290.9 241.5h0M297.0 124.8h0M293.2 110.0h0M289.0 238.9h0M297.4 211.4h0M284.8 253.6h0M296.2 233.8h0M295.1 232.2h0M296.0 191.2h0M300.5 109.2h0M300.4 120.8h0M296.5 192.1h0M292.3 246.2h0M300.2 186.4h0M292.1 216.5h0M295.2 157.3h0M290.0 192.9h0M295.2 204.5h0M295.7 103.2h0M293.6 204.2h0M291.5 109.7h0M294.1 161.8h0M291.1 199.2h0M291.2 248.7h0M301.5 157.8h0M290.5 91.0h0M292.1 180.7h0M298.5 210.5h0M293.1 226.9h0M292.7 112.7h0M292.5 210.6h0M295.9 186.7h0M291.8 247.4h0M290.6 179.5h0M295.2 161.0h0M293.0 176.7h0M293.8 194.0h0M292.2 169.5h0M299.6 242.8h0M292.1 189.2h0M297.6 90.6h0M299.8 120.0h0M299.6 179.5h0M287.4 127.0h0M301.0 198.1h0M300.2 181.8h0"/><path d="M295.7 182.1h0M293.4 226.9h0M295.2 214.6h0M290.0 235.0h0M296.8 208.6h0M291.8 238.7h0M293.9 223.2h0M287.4 118.5h0M289.7 196.6h0M300.5 99.6h0M294.2 184.8h0M292.0 120.8h0M294.6 164.4h0M293.9 100.7h0M298.0 163.5h0M289.4 229.7h0M291.2 208.7h0M300.0 235.7h0M287.4 227.4h0M293.5 141.8h0M297.2 218.9h0M290.0 241.6h0M293.4 203.1h0M290.8 158.8h0M289.5 123.9h0M294.7 228.4h0M295.7 116.5h0M290.4 217.2h0M296.4 231.2h0M293.9 198.1h0M290.5 109.9h0M294.9 214.3h0M291.0 211.2h0M289.7 170.1h0M297.5 144.7h0M291.6 96.2h0M297.5 106.9h0M287.9 176.6h0M291.9 239.1h0M286.7 202.9h0M296.8 229.4h0M301.4 204.1h0M294.6 191.0h0M299.6 187.9h0M288.1 176.8h0M297.2 198.2h0M289.3 159.9h0M287.1 170.3h0M297.4 156.9h0M294.7 121.9h0M293.1 222.1h0M298.9 224.8h0M293.5 200.0h0M293.9 186.5h0M292.4 223.6h0M288.8 106.1h0M296.7 234.3h0M292.7 237.2h0M295.3 195.5h0M291.0 209.9h0M297.4 170.7h0M294.9 119.9h0M298.6 198.2h0M300.1 201.1h0M287.7 145.3h0M301.0 204.0h0M292.2 215.6h0M296.5 113.8h0M289.7 208.5h0M292.7 195.3h0M292.3 214.2h0M299.7 193.7h0M288.8 83.1h0M297.2 224.2h0M292.0 233.3h0M298.5 119.8h0M293.3 188.0h0M297.3 120.5h0M293.1 113.7h0M296.9 186.8h0M291.5 208.4h0M287.2 241.3h0M289.4 171.6h0M291.8 185.6h0M289.5 156.2h0M287.5 250.7h0M295.0 142.4h0M299.1 115.9h0M301.9 114.6h0M292.4 229.4h0M291.2 204.9h0M290.1 174.0h0M290.5 202.2h0M294.5 181.5h0M296.8 239.5h0M291.4 243.0h0M295.1 121.7h0M292.4 240.9h0M298.1 90.8h0M302.7 160.4h0M293.3 189.6h0M297.0 250.3h0M293.5 235.2h0M297.9 228.8h0M298.4 241.6h0M296.2 198.5h0M294.5 177.9h0M297.4 95.9h0M288.4 233.1h0M301.4 92.0h0M293.1 137.3h0M289.0 110.2h0M296.1 207.7h0M298.5 143.3h0M290.1 238.4h0M291.2 174.3h0M290.0 220.1h0M299.1 144.2h0M296.6 205.3h0M294.1 216.3h0M297.7 213.9h0M295.0 82.0h0M297.1 144.8h0M289.1 160.1h0M293.7 220.6h0M299.5 236.4h0M288.8 209.5h0M299.1 185.1h0M295.8 212.4h0M289.3 168.9h0M294.0 194.4h0M292.3 133.4h0M292.4 193.6h0M294.6 182.8h0M293.9 213.7h0M295.4 109.7h0M292.2 221.6h0M294.6 103.0h0M298.3 173.2h0M293.9 208.4h0M290.8 125.5h0M291.1 175.8h0M292.3 138.8h0M294.9 244.8h0M297.0 223.1h0M291.9 165.4h0M292.9 241.7h0M302.9 161.3h0M291.1 106.3h0M293.8 201.1h0M292.2 202.9h0M295.1 149.7h0M295.9 226.3h0M300.1 249.3h0M300.2 187.0h0M304.5 169.6h0M290.2 226.6h0M295.9 192.3h0M294.0 227.8h0M292.3 205.6h0M295.7 156.2h0M291.2 235.8h0M299.1 201.6h0M294.1 230.5h0M290.3 230.1h0M292.2 185.2h0"/><path d="M294.8 214.5h0M298.7 195.9h0M292.1 132.6h0M293.0 186.6h0M296.3 101.9h0M297.6 161.0h0M294.8 241.5h0M291.3 231.9h0M296.9 198.2h0M286.2 192.8h0M294.1 252.7h0M292.7 227.0h0M298.2 245.4h0M296.9 168.1h0M290.5 193.7h0M298.0 247.6h0M297.4 127.3h0M297.9 208.5h0M296.3 99.0h0M292.7 111.5h0M299.7 195.3h0M294.4 217.5h0M301.7 150.1h0M294.8 137.7h0M296.3 173.8h0M292.7 238.7h0M293.6 242.8h0M289.8 233.7h0M295.9 213.4h0M296.8 134.3h0M292.3 178.4h0M290.8 228.7h0M293.9 177.6h0M298.9 240.6h0M297.3 208.3h0M291.5 217.5h0M296.6 102.6h0M297.5 124.8h0M300.0 176.1h0M297.7 194.6h0M294.4 246.9h0M291.5 96.2h0M293.1 111.1h0M294.6 202.9h0M299.2 213.2h0M291.0 212.5h0M297.5 226.7h0M294.3 216.8h0M295.1 240.1h0M297.2 226.2h0M299.4 117.8h0M291.8 122.3h0M298.7 233.2h0M291.0 137.7h0M300.7 113.0h0M289.5 210.9h0M289.5 141.2h0M293.2 172.9h0M298.2 148.6h0M293.8 179.7h0M296.3 180.1h0M294.0 233.2h0M290.6 181.3h0M295.0 256.2h0M290.3 184.3h0M291.9 110.9h0M291.3 213.8h0M292.6 112.9h0M295.1 231.7h0M291.4 162.0h0M295.1 213.0h0M292.5 78.7h0M295.0 113.2h0M300.5 146.4h0M296.3 103.1h0M300.0 186.2h0M296.5 240.0h0M294.8 107.2h0M294.3 177.3h0M297.9 74.4h0M294.7 109.2h0M296.4 241.4h0M295.7 200.5h0M300.6 123.6h0M293.9 187.0h0M293.6 205.4h0M295.4 200.2h0M289.1 245.6h0M291.6 229.8h0M294.7 178.4h0M296.8 165.2h0M297.8 160.0h0M295.7 215.2h0M304.0 238.7h0M294.4 190.4h0M295.3 181.4h0M291.2 87.8h0M297.5 164.0h0M297.2 181.6h0M299.5 237.1h0M294.2 162.0h0M294.8 246.8h0M292.0 232.0h0M304.3 246.2h0M292.3 208.8h0M292.1 187.6h0M298.4 241.4h0M297.3 186.6h0M292.7 228.1h0M299.5 230.1h0M296.9 235.9h0M294.8 184.9h0M288.6 200.9h0M287.6 115.5h0M288.4 226.3h0M297.4 133.7h0M289.7 148.9h0M287.1 226.3h0M293.4 177.8h0M292.1 234.0h0M295.8 230.3h0M286.8 208.3h0M294.8 146.4h0M292.4 206.2h0M304.1 242.3h0M293.8 136.9h0M294.6 175.0h0M290.6 121.5h0M289.5 98.8h0M287.7 115.0h0M295.0 229.0h0M297.0 210.0h0M297.2 203.5h0M293.6 246.1h0M299.8 153.1h0M288.3 218.6h0M292.1 205.3h0M295.7 237.2h0M289.1 111.4h0M284.4 235.4h0M286.1 230.5h0M295.2 136.5h0M291.1 206.1h0M293.7 219.8h0M295.0 226.7h0M298.3 205.0h0M297.0 237.7h0M295.3 169.0h0M294.3 191.6h0M293.4 120.2h0M299.0 236.2h0M294.1 194.1h0M291.4 196.8h0M298.8 233.5h0M294.5 247.6h0M293.1 236.2h0M294.9 53.7h0M293.9 235.0h0M299.5 198.0h0M298.5 199.3h0M293.2 240.8h0M294.2 223.2h0M295.8 197.2h0M288.4 188.3h0M293.7 252.6h0M286.4 107.7h0"/><path d="M286.2 160.9h0M301.7 214.5h0M295.3 213.6h0M299.2 241.9h0M300.6 157.3h0M289.9 207.9h0M297.7 158.9h0M296.8 196.5h0M296.1 115.1h0M288.2 125.7h0M300.3 228.4h0M291.9 238.2h0M294.3 195.1h0M290.6 121.3h0M295.9 238.9h0M294.8 238.0h0M298.2 191.2h0M296.1 152.1h0M295.2 249.4h0M294.9 199.2h0M288.9 231.5h0M296.0 134.8h0M297.9 182.2h0M291.7 228.9h0M292.2 219.9h0M294.3 112.8h0M284.3 76.3h0M294.9 221.3h0M289.6 147.4h0M286.1 95.5h0M295.5 178.2h0M286.0 179.2h0M294.9 177.2h0M295.1 182.4h0M294.7 200.6h0M288.4 245.3h0M298.7 196.7h0M290.7 187.2h0M288.8 221.3h0M291.0 147.0h0M291.0 168.5h0M288.0 184.4h0M290.3 186.2h0M293.2 211.7h0M302.5 172.0h0M293.9 237.4h0M298.6 139.7h0M296.8 189.7h0M291.5 180.6h0M293.0 153.9h0M293.2 106.9h0M292.9 117.7h0M298.1 207.2h0M293.1 259.0h0M295.0 192.4h0M296.8 210.5h0M294.5 249.1h0M291.2 204.4h0M293.7 237.2h0M304.6 127.3h0M289.7 160.9h0M299.2 202.3h0M288.3 163.7h0M300.1 121.8h0M291.7 163.3h0M291.9 192.1h0M292.1 127.0h0M290.3 178.1h0M296.4 172.3h0M298.0 196.8h0M294.8 237.8h0M300.2 181.0h0M299.1 201.3h0M296.7 150.6h0M297.9 125.7h0M293.4 165.9h0M298.4 247.5h0M296.0 158.6h0M293.5 127.0h0M296.4 226.2h0M298.9 164.4h0M295.4 225.2h0M298.8 188.3h0M292.6 191.5h0M293.6 150.0h0M298.7 189.0h0M292.3 137.3h0M292.4 177.4h0M297.2 163.3h0M289.6 244.1h0M294.9 87.3h0M295.0 171.6h0M291.5 222.0h0M297.5 186.9h0M299.8 183.3h0M287.0 208.5h0M298.6 77.8h0M298.0 237.9h0M299.3 194.5h0M289.5 155.5h0M303.1 160.1h0M287.0 95.7h0M294.5 162.5h0M289.9 161.2h0M297.6 242.8h0M297.6 131.0h0M295.1 166.0h0M297.5 186.0h0M293.3 174.6h0M291.8 103.6h0M286.9 217.1h0M296.3 163.7h0M288.2 217.4h0M288.8 169.0h0M298.4 78.0h0M298.6 243.6h0M291.7 187.8h0M288.4 181.3h0M289.9 121.7h0M296.9 201.9h0M304.3 237.4h0M291.9 220.1h0M302.0 117.8h0M298.1 199.7h0M297.8 230.7h0M293.8 133.4h0M289.5 183.9h0M294.7 122.8h0M293.9 223.0h0M299.5 113.4h0M297.0 134.9h0M297.2 194.8h0M287.2 171.6h0M289.0 262.1h0M297.0 188.4h0M286.2 216.1h0M288.6 215.7h0M305.1 130.8h0M299.2 245.8h0M299.2 234.7h0M300.5 232.3h0M293.0 185.3h0M294.1 181.7h0M296.5 236.1h0M291.5 130.1h0M296.3 144.9h0M294.6 202.9h0M295.1 130.4h0M289.2 224.3h0M294.2 117.6h0M294.6 144.7h0M298.1 151.2h0M292.7 236.1h0M299.1 248.4h0M290.7 174.5h0M293.0 119.8h0M294.1 213.0h0M289.9 228.0h0M291.9 148.8h0M297.7 201.5h0M290.2 209.7h0M295.7 156.3h0M297.1 145.1h0M291.5 166.9h0M288.7 243.5h0M302.1 212.9h0"/><path d="M291.8 203.7h0M294.0 217.7h0M295.8 132.5h0M293.8 231.3h0M293.5 240.5h0M291.8 245.1h0M297.6 237.7h0M290.1 219.8h0M292.5 206.5h0M298.2 194.7h0M292.1 213.2h0M285.4 182.3h0M295.5 170.3h0M291.1 167.8h0M283.5 158.5h0M295.7 105.8h0M292.1 193.4h0M290.9 186.0h0M291.4 234.7h0M293.9 237.4h0M290.0 98.2h0M296.3 243.3h0M297.8 157.7h0M284.0 174.9h0M290.3 223.9h0M299.1 180.3h0M293.9 241.6h0M295.5 223.1h0M292.1 246.4h0M293.1 215.0h0M294.0 206.7h0M293.3 120.7h0M291.4 118.2h0M298.8 242.3h0M297.4 123.2h0M298.0 177.4h0M291.8 240.9h0M296.9 231.4h0M286.0 125.1h0M292.9 137.6h0M296.5 169.3h0M296.3 244.5h0M297.7 121.7h0M294.3 218.8h0M298.5 179.4h0M291.5 133.7h0M296.0 237.5h0M295.2 180.4h0M295.5 202.8h0M293.4 103.8h0M292.1 129.3h0M296.9 241.2h0M290.6 210.0h0M293.4 176.0h0M284.3 232.8h0M296.3 186.3h0M293.7 210.2h0M297.6 147.6h0M292.6 107.4h0M292.6 122.7h0M292.8 130.8h0M296.9 124.7h0M290.1 228.8h0M301.2 183.2h0M288.9 162.0h0M288.2 147.1h0M296.6 162.7h0M298.8 201.9h0M289.7 134.1h0M297.0 207.8h0M297.2 213.4h0M301.9 169.3h0M288.4 234.4h0M292.1 237.6h0M290.6 115.9h0M294.9 243.2h0M289.3 169.4h0M295.8 161.7h0M292.9 188.6h0M294.7 200.9h0M293.1 168.6h0M299.8 220.5h0M288.4 154.8h0M300.4 122.9h0M295.5 185.2h0M292.8 216.1h0M296.0 209.9h0M298.7 100.8h0M291.6 230.1h0M291.1 231.3h0M288.7 170.3h0M296.1 215.7h0M291.9 117.9h0M298.8 178.9h0M295.8 190.8h0M287.8 237.7h0M297.1 142.0h0M297.5 120.7h0M301.2 238.0h0M294.4 125.1h0M291.0 231.3h0M289.0 122.5h0M291.6 187.5h0M291.3 245.6h0M295.8 130.1h0M294.9 142.7h0M297.7 200.3h0M293.9 240.8h0M298.2 203.2h0M296.8 228.5h0M287.0 253.6h0M292.3 127.1h0M295.7 194.6h0M290.8 207.8h0M295.0 174.9h0M298.0 199.4h0M298.9 208.6h0M285.3 139.0h0M297.1 118.9h0M293.7 173.6h0M300.4 216.1h0M292.9 66.9h0M291.7 126.8h0M292.9 96.9h0M300.5 197.7h0M291.2 116.3h0M293.2 110.8h0M291.9 228.9h0M295.0 111.3h0M291.8 223.4h0M289.1 245.3h0M297.7 94.8h0M297.3 96.0h0M292.7 191.3h0M295.2 127.8h0M306.1 240.7h0M295.8 207.5h0M294.4 159.5h0M288.6 109.2h0M296.7 200.3h0M295.2 189.2h0M294.1 201.7h0M293.9 191.7h0M286.2 137.6h0M295.5 215.3h0M294.9 201.4h0M297.0 191.2h0M290.9 121.3h0M296.8 123.9h0M290.8 253.1h0M294.2 111.3h0M299.8 175.0h0M292.5 199.9h0M292.5 240.7h0M295.1 163.8h0M291.4 187.6h0M294.3 131.4h0M295.9 182.3h0M289.8 165.0h0M289.7 110.3h0M293.7 182.3h0M296.8 183.7h0M296.1 210.0h0M288.9 211.5h0M291.6 235.1h0M290.3 229.1h0"/><path d="M291.8 196.4h0M296.9 131.3h0M286.0 242.4h0M291.8 152.2h0M298.4 231.7h0M297.7 211.1h0M295.0 182.1h0M290.8 174.0h0M300.9 214.4h0M298.1 219.3h0M287.9 232.3h0M301.4 140.3h0M292.9 142.1h0M296.1 185.6h0M302.0 247.5h0M288.9 227.5h0M294.0 195.8h0M288.4 211.2h0M296.2 138.1h0M294.6 120.9h0M291.1 120.1h0M291.1 187.3h0M292.6 155.6h0M292.2 186.2h0M294.5 231.1h0M288.8 96.6h0M289.9 173.6h0M295.3 206.8h0M295.8 169.8h0M295.2 232.9h0M299.6 233.7h0M296.7 205.4h0M287.7 206.4h0M292.8 206.7h0M296.1 107.2h0M292.8 178.1h0M301.8 224.4h0M296.1 198.3h0M299.5 130.0h0M289.1 242.7h0M292.2 127.5h0M295.7 118.0h0M294.1 143.2h0M292.7 179.5h0M295.9 243.5h0M295.3 155.9h0M287.0 208.3h0M291.5 112.9h0M296.1 207.4h0M292.1 181.9h0M288.7 111.8h0M294.5 177.4h0M301.4 222.0h0M291.4 102.5h0M288.2 182.0h0M292.2 238.4h0M291.5 103.2h0M291.5 217.1h0M297.5 208.2h0M296.7 115.1h0M291.3 94.7h0M290.2 121.3h0M296.7 238.3h0M298.7 152.4h0M294.0 186.8h0M294.2 169.4h0M286.0 185.8h0M296.3 113.9h0M293.5 225.2h0M288.2 115.6h0M290.2 189.2h0M294.6 122.3h0M292.3 214.7h0M295.4 147.4h0M297.3 181.6h0M297.8 206.7h0M291.6 234.9h0M299.7 246.5h0M293.5 171.1h0M294.9 130.2h0M294.2 228.2h0M292.3 234.9h0M289.2 136.9h0M295.5 136.7h0M286.4 81.2h0M296.1 216.9h0M292.9 235.4h0M289.9 181.4h0M295.5 197.8h0M294.1 188.9h0M291.3 170.7h0M300.4 183.8h0M288.3 222.2h0M293.7 237.1h0M292.4 234.2h0M289.7 161.3h0M293.7 206.3h0M293.5 219.9h0M296.9 121.8h0M298.6 96.1h0M292.7 120.7h0M291.2 189.6h0M306.8 236.6h0M290.4 232.0h0M293.3 206.3h0M295.3 204.5h0M291.0 190.8h0M299.9 202.7h0M292.6 140.7h0M289.0 239.8h0M290.1 198.1h0M297.4 173.4h0M295.9 242.3h0M290.1 118.5h0M293.8 189.7h0M290.5 235.4h0M291.2 110.0h0M295.6 140.1h0M291.4 246.6h0M293.4 236.9h0M293.5 136.6h0M291.2 206.5h0M299.2 204.8h0M291.8 212.0h0M294.4 228.2h0M298.7 230.8h0M302.3 198.3h0M289.3 136.3h0M295.6 168.0h0M289.3 121.0h0M292.5 225.8h0M289.7 161.1h0M290.4 214.6h0M292.4 241.7h0M295.9 245.2h0M298.1 197.5h0M293.7 131.3h0M297.9 157.9h0M300.3 226.6h0M282.6 204.6h0M299.8 196.1h0M296.3 126.5h0M292.3 134.9h0M295.9 92.9h0M293.3 230.1h0M295.2 228.4h0M296.5 127.4h0M291.7 237.9h0M293.6 189.2h0M294.0 220.9h0M295.9 202.6h0M294.4 206.2h0M298.7 245.2h0M297.7 133.3h0M296.8 179.0h0M293.0 171.5h0M292.2 134.5h0M287.0 203.7h0M293.7 214.5h0M297.6 140.6h0M299.8 206.0h0M290.3 112.1h0M292.9 229.1h0M304.1 167.1h0M291.7 93.8h0M296.8 202.8h0"/><path d="M294.8 229.5h0M290.9 236.7h0M296.7 219.5h0M291.2 227.7h0M292.5 102.6h0M292.5 231.9h0M289.8 162.3h0M300.6 200.0h0M299.7 112.8h0M300.9 242.7h0M294.1 118.8h0M296.8 205.7h0M292.6 230.3h0M289.5 213.8h0M290.3 169.3h0M288.8 200.8h0M293.1 258.3h0M300.2 175.1h0M297.0 140.1h0M294.6 249.1h0M299.6 216.4h0M289.6 244.8h0M295.3 149.3h0M296.7 193.8h0M292.1 204.9h0M301.9 113.6h0M297.5 229.4h0M287.0 144.1h0M291.0 180.2h0M296.0 136.8h0M291.1 201.5h0M295.7 215.9h0M294.8 198.6h0M291.4 158.8h0M291.4 165.5h0M296.3 133.5h0M292.3 160.1h0M294.0 245.1h0M289.4 212.9h0M297.2 182.8h0M293.4 164.2h0M292.5 201.1h0M296.5 208.7h0M292.5 174.4h0M299.0 195.7h0M294.9 123.2h0M289.3 100.0h0M289.9 117.5h0M291.5 199.1h0M287.3 233.0h0M298.2 223.5h0M293.2 125.7h0M294.3 199.8h0M295.2 191.4h0M292.1 194.2h0M291.0 179.6h0M295.6 78.4h0M298.1 103.2h0M292.8 133.6h0M292.6 246.8h0M295.1 211.6h0M286.5 230.8h0M295.1 59.4h0M296.5 241.1h0M298.2 156.7h0M295.4 190.6h0M294.7 79.7h0M292.3 233.0h0M295.6 184.1h0M299.4 200.0h0M300.3 115.3h0M295.8 123.6h0M296.9 174.6h0M299.0 145.0h0M292.9 170.2h0M291.5 233.3h0M288.1 163.1h0M291.2 202.6h0M291.0 242.3h0M284.4 237.0h0M298.1 188.2h0M302.4 115.0h0M297.7 147.1h0M295.8 170.8h0M295.1 98.9h0M291.7 183.2h0M288.8 175.8h0M291.0 248.2h0M292.5 190.0h0M295.9 190.4h0M297.8 231.3h0M291.0 232.4h0M293.3 117.4h0M294.6 205.6h0M295.4 164.7h0M293.0 173.5h0M289.0 203.6h0M294.3 247.0h0M293.8 78.9h0M292.6 240.5h0M290.0 227.7h0M291.5 102.8h0M296.0 248.2h0M293.5 207.9h0M294.0 160.5h0M295.8 187.4h0M292.0 191.6h0M284.5 151.0h0M296.4 127.5h0M295.8 172.4h0M294.8 231.8h0M288.8 178.6h0M295.8 167.4h0M292.2 180.7h0M297.6 246.9h0M291.4 222.2h0M293.7 146.0h0M297.6 104.2h0M298.9 180.3h0M296.7 199.4h0M294.7 212.7h0M300.7 163.3h0M292.8 236.9h0M298.9 187.1h0M294.8 235.7h0M286.4 161.3h0M289.8 197.6h0M296.7 155.0h0M287.9 236.8h0M299.7 246.1h0M299.0 218.4h0M286.8 179.9h0M297.3 140.8h0M293.5 191.8h0M294.4 236.3h0M296.4 229.5h0M297.5 215.8h0M296.7 211.5h0M292.1 247.4h0M294.1 221.3h0M302.6 236.9h0M303.4 234.5h0M298.1 142.2h0M294.9 120.2h0M292.7 99.9h0M297.2 126.9h0M300.4 237.3h0M292.6 181.3h0M298.6 174.6h0M291.3 244.2h0M299.0 162.6h0M288.7 207.4h0M292.3 102.5h0M294.5 97.3h0M297.2 201.1h0M298.1 82.2h0M298.8 173.6h0M292.9 169.3h0M294.0 170.8h0M293.8 237.7h0M288.6 166.9h0M298.1 229.9h0M296.9 168.9h0M290.7 137.6h0M293.3 105.6h0M295.2 117.5h0"/><path d="M295.0 161.4h0M297.4 181.5h0M295.4 183.4h0M299.1 215.0h0M294.6 171.6h0M292.8 216.4h0M295.2 253.2h0M292.3 163.5h0M297.5 198.6h0M287.9 130.2h0M290.7 129.8h0M294.5 209.8h0M293.2 106.8h0M287.7 237.4h0M293.7 206.1h0M297.9 188.7h0M287.8 206.7h0M298.1 150.7h0M300.9 174.5h0M290.6 168.6h0M291.4 149.6h0M292.8 222.0h0M299.3 212.6h0M298.8 174.8h0M298.8 181.2h0M295.1 198.1h0M298.5 202.6h0M291.8 189.4h0M294.8 173.5h0M291.0 174.9h0M293.5 152.7h0M297.3 152.0h0M290.8 144.7h0M295.1 162.9h0M288.4 229.2h0M289.9 226.1h0M294.4 242.7h0M296.7 225.5h0M293.4 114.0h0M294.7 96.3h0M291.9 173.8h0M295.8 137.6h0M292.1 204.7h0M294.4 146.7h0M291.1 171.2h0M297.8 223.6h0M299.7 166.9h0M303.0 178.8h0M294.7 193.7h0M297.4 163.0h0M293.2 135.4h0M289.7 94.9h0M297.3 173.2h0M293.2 184.8h0M293.7 106.3h0M293.0 203.1h0M293.5 170.3h0M294.7 112.5h0M295.3 200.4h0M302.5 182.7h0M298.5 156.8h0M292.8 127.3h0M297.0 182.1h0M294.8 202.7h0M288.1 108.4h0M292.8 238.4h0M291.6 166.6h0M288.6 184.9h0M290.3 235.1h0M293.1 236.4h0M300.2 199.0h0M294.6 212.0h0M295.5 220.0h0M302.4 199.8h0M295.5 201.6h0M294.8 170.8h0M292.7 190.1h0M289.4 115.7h0M291.5 186.6h0M292.7 227.5h0M290.3 209.6h0M295.0 248.5h0M290.2 184.6h0M300.8 204.2h0M295.3 123.2h0M291.1 180.0h0M293.6 95.1h0M292.1 206.4h0M296.7 157.3h0M297.9 194.9h0M297.9 149.5h0M295.7 124.1h0M293.9 241.9h0M294.3 158.4h0M289.9 242.9h0M295.4 179.5h0M295.9 150.3h0M300.1 218.6h0M294.1 205.7h0M290.0 194.6h0M290.3 245.4h0M290.8 168.7h0M288.8 141.7h0M294.2 110.1h0M296.5 201.5h0M300.8 160.6h0M289.5 241.9h0M289.0 200.4h0M291.4 185.8h0M298.9 197.2h0M282.6 151.7h0M293.3 143.5h0M292.6 144.0h0M296.2 243.8h0M291.5 73.7h0M305.3 159.3h0M302.6 214.5h0M293.6 111.4h0M290.6 120.2h0M290.3 179.7h0M297.0 159.5h0M294.5 250.4h0M297.3 94.9h0M291.0 130.8h0M293.7 176.2h0M294.8 91.7h0M298.0 199.7h0M297.0 197.1h0M290.1 173.6h0M295.2 204.5h0M288.4 232.2h0M294.1 145.7h0M295.2 123.2h0M299.4 169.9h0M293.8 223.0h0M291.5 120.5h0M294.3 177.1h0M295.1 149.1h0M290.7 202.2h0M292.1 201.5h0M294.5 119.8h0M299.6 180.6h0M297.2 102.1h0M296.7 119.6h0M292.7 161.8h0M291.8 158.1h0M292.0 109.5h0M300.3 133.4h0M299.8 243.5h0M291.3 232.1h0M297.5 132.5h0M301.6 89.7h0M290.3 140.5h0M298.6 100.4h0M294.6 141.5h0M287.7 152.1h0M297.4 143.1h0M297.3 110.2h0M281.9 105.1h0M288.2 116.3h0M301.8 207.2h0M298.2 125.7h0M288.2 103.7h0M301.9 231.0h0M298.9 221.8h0M300.3 123.4h0"/><path d="M294.5 210.0h0M299.6 250.8h0M297.6 176.6h0M298.0 188.5h0M292.7 195.1h0M301.5 111.3h0M297.3 162.4h0M290.4 190.0h0M296.7 142.9h0M295.8 130.6h0M294.6 126.9h0M294.6 238.8h0M298.8 186.8h0M283.0 183.2h0M293.3 116.0h0M291.2 228.4h0M291.2 178.9h0M293.0 243.2h0M293.0 210.5h0M295.6 155.6h0M290.4 109.8h0M300.5 174.2h0M294.0 201.2h0M292.1 218.0h0M283.8 154.7h0M299.5 137.1h0M294.6 225.9h0M290.7 162.8h0M293.1 159.3h0M289.7 253.3h0M288.2 241.3h0M287.8 165.6h0M294.8 197.8h0M291.0 183.8h0M293.4 194.7h0M292.4 246.0h0M299.4 179.9h0M291.6 160.3h0M294.7 187.3h0M288.5 127.2h0M291.8 167.0h0M289.5 175.4h0M295.7 240.9h0M288.1 236.7h0M293.5 198.9h0M292.0 198.7h0M295.0 85.3h0M298.2 164.3h0M296.4 232.7h0M301.2 192.2h0M299.2 175.9h0M294.2 111.8h0M299.3 238.9h0M295.6 146.7h0M288.9 238.0h0M297.0 224.0h0M296.6 241.5h0M291.6 187.0h0M288.2 106.7h0M287.4 185.4h0M291.5 231.3h0M293.6 245.1h0M296.5 144.5h0M289.0 243.3h0M293.8 184.9h0M296.8 186.9h0M294.1 135.1h0M288.6 229.5h0M292.0 234.2h0M293.1 92.8h0M288.9 196.3h0M295.8 213.2h0M293.1 215.6h0M298.2 182.1h0M294.2 155.4h0M291.2 150.3h0M290.3 231.9h0M295.2 239.9h0M298.1 244.8h0M299.4 182.5h0M289.6 232.9h0M295.3 239.9h0M297.8 174.8h0M293.9 255.8h0M297.3 186.1h0M291.3 125.4h0M298.2 122.8h0M295.1 216.4h0M299.0 204.4h0M288.8 249.5h0M297.0 171.6h0M294.4 235.8h0M286.9 243.4h0M294.5 122.4h0M290.1 133.1h0M293.0 235.0h0M295.5 237.5h0M294.3 98.0h0M291.8 233.4h0M297.3 171.8h0M293.1 230.6h0M290.0 231.9h0M295.7 127.2h0M291.7 145.1h0M295.7 145.3h0M300.6 215.6h0M294.1 168.3h0M288.9 237.9h0M298.8 199.2h0M297.1 234.5h0M290.7 169.8h0M286.8 72.0h0M288.1 235.7h0M293.4 116.8h0M285.6 129.7h0M293.8 229.2h0M296.5 133.5h0M291.8 199.8h0M299.0 116.6h0M294.0 248.5h0M299.5 113.2h0M291.5 154.5h0M287.8 176.2h0M291.6 248.9h0M292.7 205.4h0M291.0 119.1h0M295.0 237.1h0M290.8 229.7h0M295.5 245.8h0M293.3 235.1h0M293.9 235.8h0M292.2 102.9h0M285.0 157.9h0M291.1 192.3h0M294.7 171.5h0M298.4 148.9h0M298.7 242.4h0M285.0 176.6h0M297.0 180.6h0M295.4 235.1h0M296.2 138.9h0M290.2 162.2h0M295.8 158.6h0M298.4 259.4h0M291.8 201.2h0M296.4 216.5h0M290.0 240.5h0M296.9 227.8h0M294.1 157.5h0M286.6 250.3h0M291.7 249.7h0M290.3 82.2h0M294.2 189.1h0M297.9 212.4h0M291.3 227.1h0M290.7 159.1h0M303.3 200.0h0M293.2 160.2h0M297.7 152.3h0M296.4 196.0h0M285.6 136.6h0M301.0 154.6h0M289.3 142.8h0M298.6 243.2h0M291.2 173.3h0M296.7 232.2h0"/><path d="M293.8 159.8h0M295.8 232.8h0M298.6 227.5h0M301.0 184.7h0M295.7 251.2h0M293.9 80.4h0M297.6 215.3h0M299.4 204.3h0M293.3 166.0h0M292.4 128.7h0M295.8 202.3h0M294.0 232.8h0M296.5 233.1h0M299.8 160.4h0M291.2 164.3h0M292.4 133.7h0M291.9 132.2h0M289.3 182.9h0M295.7 111.2h0M293.2 163.5h0M292.6 232.3h0M293.5 117.1h0M293.3 169.2h0M297.4 231.7h0M287.8 238.5h0M299.2 183.7h0M295.9 243.5h0M293.4 195.7h0M294.9 176.9h0M298.1 211.9h0M295.8 118.0h0M296.9 207.9h0M290.7 103.2h0M291.7 212.7h0M289.2 174.6h0M293.4 211.4h0M293.2 210.4h0M294.8 143.8h0M288.5 99.2h0M294.6 114.2h0M291.2 137.9h0M285.6 201.1h0M299.6 190.6h0M292.6 205.8h0M293.2 198.4h0M291.1 231.4h0M293.5 185.8h0M297.8 234.4h0M299.4 143.2h0M290.8 211.0h0M296.7 212.0h0M300.0 157.2h0M293.5 103.7h0M293.8 162.6h0M300.0 244.7h0M294.9 248.9h0M289.9 97.1h0M291.0 126.0h0M296.1 51.4h0M293.1 193.8h0M298.4 183.5h0M295.2 235.0h0M291.2 135.2h0M295.7 141.4h0M295.8 222.8h0M293.9 158.4h0M294.3 111.4h0M293.3 161.8h0M297.4 134.8h0M290.0 174.3h0M292.7 204.8h0M296.4 169.1h0M291.8 212.2h0M296.1 160.4h0M291.8 189.1h0M295.7 244.0h0M294.6 213.7h0M299.9 196.4h0M295.4 95.4h0M285.0 203.6h0M290.2 193.0h0M292.0 227.0h0M290.8 235.7h0M292.6 192.9h0M297.0 183.9h0M297.4 109.7h0M292.6 205.6h0M286.5 167.2h0M297.6 216.8h0M296.7 113.8h0M299.9 239.4h0M288.4 202.3h0M291.8 129.4h0M299.1 209.4h0M302.8 219.4h0M299.5 240.7h0M296.5 134.0h0M294.1 108.4h0M295.4 169.3h0M293.3 116.6h0M286.5 219.2h0M296.8 164.6h0M293.0 202.2h0M296.4 246.7h0M299.4 158.9h0M294.6 239.3h0M290.6 107.9h0M298.5 103.9h0M294.0 199.3h0M288.4 191.6h0M295.2 164.5h0M293.3 112.2h0M292.7 124.3h0M295.6 119.4h0M301.4 187.5h0M291.0 215.2h0M296.1 86.6h0M292.4 236.6h0M297.6 242.6h0M291.8 177.6h0M289.1 176.2h0M293.7 178.9h0M295.1 153.2h0M290.6 74.9h0M287.3 220.8h0M288.7 166.4h0M287.1 231.5h0M293.4 224.7h0M290.8 179.5h0M295.5 246.2h0M291.3 171.6h0M291.7 182.4h0M295.0 169.5h0M291.5 196.9h0M289.8 166.0h0M296.1 186.0h0M289.7 241.7h0M293.1 127.7h0M299.3 72.7h0M299.1 182.3h0M290.5 180.7h0M297.6 171.4h0M298.8 126.4h0M294.5 164.6h0M288.4 227.4h0M291.6 110.9h0M299.0 171.6h0M296.7 195.2h0M291.8 260.2h0M292.9 150.7h0M298.3 219.4h0M293.1 224.5h0M292.1 119.9h0M292.0 134.6h0M299.4 161.7h0M292.0 129.5h0M290.9 205.1h0M293.1 173.8h0M296.6 208.1h0M292.2 181.4h0M300.0 111.3h0M292.3 211.0h0M291.6 255.3h0M289.4 240.7h0M300.9 176.4h0M296.1 229.4h0"/><path d="M298.9 115.4h0M291.6 201.9h0M300.5 243.9h0M301.3 124.7h0M284.9 224.0h0M292.8 97.9h0M294.8 248.5h0M286.7 161.5h0M296.3 213.5h0M293.3 111.8h0M296.9 253.1h0M293.1 193.9h0M301.0 86.1h0M294.0 155.3h0M292.4 205.8h0M285.6 193.8h0M292.1 155.6h0M299.2 241.2h0M287.7 185.9h0M292.6 94.5h0M295.4 121.6h0M295.1 239.6h0M292.1 129.3h0M293.5 151.1h0M298.6 220.2h0M291.0 238.0h0M290.8 243.4h0M298.9 122.1h0M295.2 247.6h0M297.0 214.6h0M298.2 161.0h0M294.8 137.6h0M295.4 193.7h0M290.5 198.3h0M296.4 159.0h0M288.8 189.2h0M297.5 224.1h0M290.8 185.7h0M292.0 182.9h0M290.4 209.4h0M293.9 188.8h0M294.9 211.4h0M295.3 213.3h0M294.9 139.2h0M294.1 159.3h0M293.5 194.3h0M283.1 99.2h0M285.6 227.9h0M291.3 175.7h0M296.1 105.0h0M294.5 239.2h0M292.8 226.1h0M296.5 170.5h0M293.1 237.0h0M300.8 170.3h0M293.6 195.7h0M291.9 260.8h0M299.5 243.3h0M287.3 218.4h0M290.5 249.0h0M292.6 114.5h0M294.4 244.0h0M290.4 171.9h0M293.7 182.5h0M291.3 170.0h0M299.9 239.1h0M295.0 241.9h0M294.1 237.3h0M290.8 197.7h0M292.8 191.4h0M297.5 150.7h0M287.4 108.5h0M294.0 199.9h0M302.6 235.8h0M292.6 114.8h0M297.5 239.9h0M287.4 194.6h0M300.8 123.4h0M291.8 178.0h0M289.6 208.0h0M296.0 213.3h0M294.4 192.4h0M285.5 186.2h0M295.1 197.4h0M294.1 128.8h0M292.6 170.0h0M301.3 197.7h0M291.7 227.3h0M294.5 117.8h0M296.4 175.6h0M295.9 200.2h0M292.8 213.4h0M292.6 252.9h0M291.1 232.1h0M294.8 213.9h0M297.8 191.1h0M294.2 223.9h0M299.6 201.8h0M296.2 239.5h0M293.3 138.2h0M289.3 175.6h0M292.7 225.7h0M298.8 123.0h0M293.3 137.9h0M292.3 169.7h0M294.5 140.5h0M298.8 178.9h0M293.4 156.1h0M286.9 237.2h0M300.6 143.4h0M295.6 157.0h0M299.2 170.8h0M291.8 244.9h0M295.4 211.4h0M289.3 197.0h0M298.1 115.6h0M288.1 234.1h0M291.4 200.7h0M303.1 135.5h0M298.8 90.1h0M291.4 147.3h0M294.3 156.3h0M294.1 261.6h0M289.8 182.9h0M291.2 144.9h0M285.1 226.9h0M297.4 172.0h0M294.3 185.4h0M296.1 209.3h0M293.1 125.3h0M294.0 235.8h0M296.9 130.8h0M293.8 192.5h0M292.6 113.3h0M300.8 217.1h0M292.4 211.6h0M300.5 248.0h0M289.3 173.8h0M296.0 238.0h0M295.6 207.5h0M288.1 140.4h0M300.4 145.9h0M293.6 181.0h0M290.5 245.1h0M295.9 242.3h0M298.3 144.2h0M293.9 128.7h0M301.8 203.9h0M295.5 214.6h0M297.3 205.6h0M281.7 231.7h0M295.9 200.1h0M294.7 199.2h0M300.3 214.4h0M289.9 232.9h0M294.9 240.4h0M289.8 234.6h0M293.8 118.6h0M287.5 232.4h0M294.1 157.2h0M297.1 231.3h0M295.9 233.5h0M291.8 191.6h0M295.3 166.3h0M293.2 175.9h0M289.1 170.1h0"/><path d="M294.9 187.0h0M295.4 200.8h0M298.5 169.5h0M301.4 187.6h0M295.6 172.5h0M293.5 237.9h0M294.0 242.8h0M298.1 202.3h0M295.0 185.3h0M291.3 246.4h0M289.7 219.5h0M295.8 237.7h0M290.5 235.6h0M287.7 173.5h0M292.5 197.8h0M289.1 232.5h0M293.6 186.8h0M295.9 188.8h0M286.9 250.2h0M291.1 159.6h0M287.8 141.8h0M291.4 198.1h0M300.7 236.4h0M293.1 249.7h0M306.0 242.3h0M294.0 195.6h0M298.7 182.4h0M297.6 122.0h0M290.4 86.2h0M295.8 180.6h0M285.3 197.1h0M294.6 126.5h0M294.1 205.4h0M298.6 209.0h0M296.6 215.9h0M287.8 122.7h0M292.3 107.2h0M294.1 158.1h0M293.2 215.9h0M299.3 227.4h0M290.1 112.8h0M299.7 100.9h0M293.7 211.6h0M294.0 226.7h0M307.3 205.5h0M297.5 206.1h0M293.4 236.4h0M293.8 201.9h0M297.1 236.7h0M287.7 205.1h0M293.1 209.3h0M292.9 240.5h0M300.2 208.3h0M292.0 210.0h0M295.4 215.8h0M293.6 204.8h0M294.0 133.9h0M286.7 143.7h0M290.3 107.4h0M292.2 194.8h0M295.9 115.6h0M296.2 93.7h0M289.1 159.7h0M297.2 216.5h0M295.1 228.3h0M303.0 223.8h0M293.4 185.9h0M290.2 181.7h0M294.2 149.8h0M296.2 234.3h0M296.9 223.6h0M292.3 137.0h0M297.2 238.1h0M287.8 239.4h0M292.1 128.5h0M293.6 200.3h0M297.3 224.1h0M293.1 239.1h0M295.4 123.1h0M288.8 222.5h0M304.6 248.1h0M295.0 127.5h0M292.7 232.4h0M294.1 191.4h0M296.4 232.5h0M292.6 152.5h0M298.9 205.8h0M283.5 116.3h0M300.8 200.4h0M297.1 161.7h0M296.0 197.0h0M298.1 122.3h0M288.1 197.3h0M294.1 144.4h0M297.5 158.1h0M292.4 241.5h0M292.7 172.9h0M294.1 243.9h0M299.1 227.7h0M283.7 171.8h0M291.2 171.7h0M295.8 201.1h0M296.5 156.9h0M297.3 99.7h0M292.8 184.2h0M307.4 234.6h0M298.0 176.0h0M293.3 237.9h0M291.0 246.5h0M297.3 208.2h0M293.3 180.7h0M296.7 134.0h0M287.8 159.7h0M299.3 166.2h0M289.6 190.0h0M295.4 203.4h0M286.4 141.1h0M293.7 181.4h0M290.3 139.0h0M298.6 176.5h0M291.4 233.8h0M300.3 210.3h0M297.8 164.6h0M292.9 231.1h0M290.9 116.9h0M293.2 191.5h0M296.7 190.6h0M297.3 196.5h0M285.9 231.0h0M292.4 184.3h0M298.6 129.9h0M287.5 242.8h0M291.5 157.2h0M287.1 235.2h0M299.7 171.3h0M294.1 221.6h0M295.6 125.0h0M301.5 201.2h0M297.7 196.4h0M288.0 164.7h0M287.9 102.9h0M293.6 158.6h0M293.9 187.1h0M296.3 174.8h0M289.3 207.6h0M299.2 179.5h0M290.4 197.6h0M293.9 201.6h0M295.0 227.6h0M289.8 157.9h0M296.1 94.5h0M295.1 221.1h0M296.9 161.6h0M293.1 225.5h0M290.8 117.4h0M294.3 154.3h0M291.6 164.1h0M292.7 118.2h0M296.2 242.3h0M300.7 205.7h0M293.1 135.7h0M294.9 236.2h0M292.4 249.4h0M297.7 120.8h0M293.0 244.0h0M293.6 154.3h0"/></g>
<rect x="385.85" y="13.9" width="290.15" height="298.9" fill="none" stroke="#000" stroke-opacity="0.78" stroke-width="1"/>
<g opacity="0.3"><path d="M385.9 262.1L406.2 262.1L406.2 260.0L406.2 260.0L406.2 257.9L397.5 257.9L397.5 255.8L409.1 255.8L409.1 253.6L429.4 253.6L429.4 251.5L446.8 251.5L446.8 249.4L533.8 249.4L533.8 247.3L548.3 247.3L548.3 245.2L600.6 245.2L600.6 243.1L629.6 243.1L629.6 241.0L586.1 241.0L586.1 238.8L655.7 238.8L655.7 236.7L623.8 236.7L623.8 234.6L603.5 234.6L603.5 232.5L629.6 232.5L629.6 230.4L591.9 230.4L591.9 228.3L568.6 228.3L568.6 226.2L542.5 226.2L542.5 224.0L528.0 224.0L528.0 221.9L513.5 221.9L513.5 219.8L501.9 219.8L501.9 217.7L559.9 217.7L559.9 215.6L606.4 215.6L606.4 213.5L580.3 213.5L580.3 211.4L559.9 211.4L559.9 209.2L574.4 209.2L574.4 207.1L574.4 207.1L574.4 205.0L594.8 205.0L594.8 202.9L623.8 202.9L623.8 200.8L559.9 200.8L559.9 198.7L594.8 198.7L594.8 196.6L542.5 196.6L542.5 194.5L533.8 194.5L533.8 192.3L554.1 192.3L554.1 190.2L554.1 190.2L554.1 188.1L597.7 188.1L597.7 186.0L586.1 186.0L586.1 183.9L562.8 183.9L562.8 181.8L603.5 181.8L603.5 179.7L603.5 179.7L603.5 177.5L574.4 177.5L574.4 175.4L594.8 175.4L594.8 173.3L594.8 173.3L594.8 171.2L606.4 171.2L606.4 169.1L487.4 169.1L487.4 167.0L519.3 167.0L519.3 164.9L525.1 164.9L525.1 162.7L562.8 162.7L562.8 160.6L562.8 160.6L562.8 158.5L513.5 158.5L513.5 156.4L481.6 156.4L481.6 154.3L464.2 154.3L464.2 152.2L472.9 152.2L472.9 150.1L467.1 150.1L467.1 147.9L458.4 147.9L458.4 145.8L499.0 145.8L499.0 143.7L504.8 143.7L504.8 141.6L484.5 141.6L484.5 139.5L504.8 139.5L504.8 137.4L487.4 137.4L487.4 135.3L496.1 135.3L496.1 133.1L481.6 133.1L481.6 131.0L496.1 131.0L496.1 128.9L516.4 128.9L516.4 126.8L516.4 126.8L516.4 124.7L501.9 124.7L501.9 122.6L539.6 122.6L539.6 120.5L490.3 120.5L490.3 118.3L528.0 118.3L528.0 116.2L522.2 116.2L522.2 114.1L478.7 114.1L478.7 112.0L499.0 112.0L499.0 109.9L478.7 109.9L478.7 107.8L455.5 107.8L455.5 105.7L461.3 105.7L461.3 103.6L475.8 103.6L475.8 101.4L443.9 101.4L443.9 99.3L441.0 99.3L441.0 97.2L438.1 97.2L438.1 95.1L438.1 95.1L438.1 93.0L432.3 93.0L432.3 90.9L414.9 90.9L414.9 88.8L414.9 88.8L414.9 86.6L406.2 86.6L406.2 84.5L406.2 84.5L406.2 82.4L414.9 82.4L414.9 80.3L403.3 80.3L403.3 78.2L403.3 78.2L403.3 76.1L400.4 76.1L400.4 74.0L400.4 74.0L400.4 71.8L391.7 71.8L391.7 69.7L394.6 69.7L394.6 67.6L388.8 67.6L388.8 65.5L388.8 65.5L388.8 63.4L388.8 63.4L388.8 61.3L388.8 61.3L388.8 59.2L388.8 59.2L388.8 57.0L388.8 57.0L388.8 54.9L388.8 54.9L388.8 52.8L388.8 52.8L388.8 50.7L385.9 50.7Z" fill="#ff0000"/><path d="M385.9 262.1L406.2 262.1L406.2 260.0L406.2 260.0L406.2 257.9L397.5 257.9L397.5 255.8L409.1 255.8L409.1 253.6L429.4 253.6L429.4 251.5L446.8 251.5L446.8 249.4L533.8 249.4L533.8 247.3L548.3 247.3L548.3 245.2L600.6 245.2L600.6 243.1L629.6 243.1L629.6 241.0L586.1 241.0L586.1 238.8L655.7 238.8L655.7 236.7L623.8 236.7L623.8 234.6L603.5 234.6L603.5 232.5L629.6 232.5L629.6 230.4L591.9 230.4L591.9 228.3L568.6 228.3L568.6 226.2L542.5 226.2L542.5 224.0L528.0 224.0L528.0 221.9L513.5 221.9L513.5 219.8L501.9 219.8L501.9 217.7L559.9 217.7L559.9 215.6L606.4 215.6L606.4 213.5L580.3 213.5L580.3 211.4L559.9 211.4L559.9 209.2L574.4 209.2L574.4 207.1L574.4 207.1L574.4 205.0L594.8 205.0L594.8 202.9L623.8 202.9L623.8 200.8L559.9 200.8L559.9 198.7L594.8 198.7L594.8 196.6L542.5 196.6L542.5 194.5L533.8 194.5L533.8 192.3L554.1 192.3L554.1 190.2L554.1 190.2L554.1 188.1L597.7 188.1L597.7 186.0L586.1 186.0L586.1 183.9L562.8 183.9L562.8 181.8L603.5 181.8L603.5 179.7L603.5 179.7L603.5 177.5L574.4 177.5L574.4 175.4L594.8 175.4L594.8 173.3L594.8 173.3L594.8 171.2L606.4 171.2L606.4 169.1L487.4 169.1L487.4 167.0L519.3 167.0L519.3 164.9L525.1 164.9L525.1 162.7L562.8 162.7L562.8 160.6L562.8 160.6L562.8 158.5L513.5 158.5L513.5 156.4L481.6 156.4L481.6 154.3L464.2 154.3L464.2 152.2L472.9 152.2L472.9 150.1L467.1 150.1L467.1 147.9L458.4 147.9L458.4 145.8L499.0 145.8L499.0 143.7L504.8 143.7L504.8 141.6L484.5 141.6L484.5 139.5L504.8 139.5L504.8 137.4L487.4 137.4L487.4 135.3L496.1 135.3L496.1 133.1L481.6 133.1L481.6 131.0L496.1 131.0L496.1 128.9L516.4 128.9L516.4 126.8L516.4 126.8L516.4 124.7L501.9 124.7L501.9 122.6L539.6 122.6L539.6 120.5L490.3 120.5L490.3 118.3L528.0 118.3L528.0 116.2L522.2 116.2L522.2 114.1L478.7 114.1L478.7 112.0L499.0 112.0L499.0 109.9L478.7 109.9L478.7 107.8L455.5 107.8L455.5 105.7L461.3 105.7L461.3 103.6L475.8 103.6L475.8 101.4L443.9 101.4L443.9 99.3L441.0 99.3L441.0 97.2L438.1 97.2L438.1 95.1L438.1 95.1L438.1 93.0L432.3 93.0L432.3 90.9L414.9 90.9L414.9 88.8L414.9 88.8L414.9 86.6L406.2 86.6L406.2 84.5L406.2 84.5L406.2 82.4L414.9 82.4L414.9 80.3L403.3 80.3L403.3 78.2L403.3 78.2L403.3 76.1L400.4 76.1L400.4 74.0L400.4 74.0L400.4 71.8L391.7 71.8L391.7 69.7L394.6 69.7L394.6 67.6L388.8 67.6L388.8 65.5L388.8 65.5L388.8 63.4L388.8 63.4L388.8 61.3L388.8 61.3L388.8 59.2L388.8 59.2L388.8 57.0L388.8 57.0L388.8 54.9L388.8 54.9L388.8 52.8L388.8 52.8L388.8 50.7L385.9 50.7" fill="none" stroke="#000" stroke-width="0.8"/></g>
<g opacity="0.5"><path d="M385.9 216.3L388.8 216.3L388.8 215.3L385.9 215.3L385.9 214.3L385.9 214.3L385.9 213.4L385.9 213.4L385.9 212.4L385.9 212.4L385.9 211.4L385.9 211.4L385.9 210.4L385.9 210.4L385.9 209.4L385.9 209.4L385.9 208.4L385.9 208.4L385.9 207.5L388.8 207.5L388.8 206.5L385.9 206.5L385.9 205.5L388.8 205.5L388.8 204.5L385.9 204.5L385.9 203.5L385.9 203.5L385.9 202.6L385.9 202.6L385.9 201.6L388.8 201.6L388.8 200.6L385.9 200.6L385.9 199.6L394.6 199.6L394.6 198.6L394.6 198.6L394.6 197.6L385.9 197.6L385.9 196.7L400.4 196.7L400.4 195.7L400.4 195.7L400.4 194.7L409.1 194.7L409.1 193.7L406.2 193.7L406.2 192.7L412.0 192.7L412.0 191.8L412.0 191.8L412.0 190.8L432.3 190.8L432.3 189.8L426.5 189.8L426.5 188.8L429.4 188.8L429.4 187.8L429.4 187.8L429.4 186.8L443.9 186.8L443.9 185.9L426.5 185.9L426.5 184.9L443.9 184.9L443.9 183.9L455.5 183.9L455.5 182.9L435.2 182.9L435.2 181.9L435.2 181.9L435.2 180.9L443.9 180.9L443.9 180.0L438.1 180.0L438.1 179.0L449.7 179.0L449.7 178.0L461.3 178.0L461.3 177.0L458.4 177.0L458.4 176.0L464.2 176.0L464.2 175.1L458.4 175.1L458.4 174.1L464.2 174.1L464.2 173.1L461.3 173.1L461.3 172.1L475.8 172.1L475.8 171.1L467.1 171.1L467.1 170.1L455.5 170.1L455.5 169.2L432.3 169.2L432.3 168.2L458.4 168.2L458.4 167.2L455.5 167.2L455.5 166.2L441.0 166.2L441.0 165.2L429.4 165.2L429.4 164.3L435.2 164.3L435.2 163.3L446.8 163.3L446.8 162.3L432.3 162.3L432.3 161.3L435.2 161.3L435.2 160.3L438.1 160.3L438.1 159.3L441.0 159.3L441.0 158.4L432.3 158.4L432.3 157.4L426.5 157.4L426.5 156.4L417.8 156.4L417.8 155.4L420.7 155.4L420.7 154.4L414.9 154.4L414.9 153.5L406.2 153.5L406.2 152.5L400.4 152.5L400.4 151.5L403.3 151.5L403.3 150.5L406.2 150.5L406.2 149.5L400.4 149.5L400.4 148.5L406.2 148.5L406.2 147.6L403.3 147.6L403.3 146.6L403.3 146.6L403.3 145.6L403.3 145.6L403.3 144.6L403.3 144.6L403.3 143.6L400.4 143.6L400.4 142.7L397.5 142.7L397.5 141.7L400.4 141.7L400.4 140.7L394.6 140.7L394.6 139.7L394.6 139.7L394.6 138.7L388.8 138.7L388.8 137.7L388.8 137.7L388.8 136.8L394.6 136.8L394.6 135.8L391.7 135.8L391.7 134.8L385.9 134.8L385.9 133.8L385.9 133.8L385.9 132.8L385.9 132.8L385.9 131.8L388.8 131.8L388.8 130.9L385.9 130.9L385.9 129.9L385.9 129.9L385.9 128.9L388.8 128.9L388.8 127.9L385.9 127.9L385.9 126.9L385.9 126.9L385.9 126.0L385.9 126.0L385.9 125.0L385.9 125.0L385.9 124.0L385.9 124.0L385.9 123.0L385.9 123.0L385.9 122.0L385.9 122.0L385.9 121.0L385.9 121.0L385.9 120.1L385.9 120.1L385.9 119.1L388.8 119.1L388.8 118.1L385.9 118.1Z" fill="#008000"/><path d="M385.9 216.3L388.8 216.3L388.8 215.3L385.9 215.3L385.9 214.3L385.9 214.3L385.9 213.4L385.9 213.4L385.9 212.4L385.9 212.4L385.9 211.4L385.9 211.4L385.9 210.4L385.9 210.4L385.9 209.4L385.9 209.4L385.9 208.4L385.9 208.4L385.9 207.5L388.8 207.5L388.8 206.5L385.9 206.5L385.9 205.5L388.8 205.5L388.8 204.5L385.9 204.5L385.9 203.5L385.9 203.5L385.9 202.6L385.9 202.6L385.9 201.6L388.8 201.6L388.8 200.6L385.9 200.6L385.9 199.6L394.6 199.6L394.6 198.6L394.6 198.6L394.6 197.6L385.9 197.6L385.9 196.7L400.4 196.7L400.4 195.7L400.4 195.7L400.4 194.7L409.1 194.7L409.1 193.7L406.2 193.7L406.2 192.7L412.0 192.7L412.0 191.8L412.0 191.8L412.0 190.8L432.3 190.8L432.3 189.8L426.5 189.8L426.5 188.8L429.4 188.8L429.4 187.8L429.4 187.8L429.4 186.8L443.9 186.8L443.9 185.9L426.5 185.9L426.5 184.9L443.9 184.9L443.9 183.9L455.5 183.9L455.5 182.9L435.2 182.9L435.2 181.9L435.2 181.9L435.2 180.9L443.9 180.9L443.9 180.0L438.1 180.0L438.1 179.0L449.7 179.0L449.7 178.0L461.3 178.0L461.3 177.0L458.4 177.0L458.4 176.0L464.2 176.0L464.2 175.1L458.4 175.1L458.4 174.1L464.2 174.1L464.2 173.1L461.3 173.1L461.3 172.1L475.8 172.1L475.8 171.1L467.1 171.1L467.1 170.1L455.5 170.1L455.5 169.2L432.3 169.2L432.3 168.2L458.4 168.2L458.4 167.2L455.5 167.2L455.5 166.2L441.0 166.2L441.0 165.2L429.4 165.2L429.4 164.3L435.2 164.3L435.2 163.3L446.8 163.3L446.8 162.3L432.3 162.3L432.3 161.3L435.2 161.3L435.2 160.3L438.1 160.3L438.1 159.3L441.0 159.3L441.0 158.4L432.3 158.4L432.3 157.4L426.5 157.4L426.5 156.4L417.8 156.4L417.8 155.4L420.7 155.4L420.7 154.4L414.9 154.4L414.9 153.5L406.2 153.5L406.2 152.5L400.4 152.5L400.4 151.5L403.3 151.5L403.3 150.5L406.2 150.5L406.2 149.5L400.4 149.5L400.4 148.5L406.2 148.5L406.2 147.6L403.3 147.6L403.3 146.6L403.3 146.6L403.3 145.6L403.3 145.6L403.3 144.6L403.3 144.6L403.3 143.6L400.4 143.6L400.4 142.7L397.5 142.7L397.5 141.7L400.4 141.7L400.4 140.7L394.6 140.7L394.6 139.7L394.6 139.7L394.6 138.7L388.8 138.7L388.8 137.7L388.8 137.7L388.8 136.8L394.6 136.8L394.6 135.8L391.7 135.8L391.7 134.8L385.9 134.8L385.9 133.8L385.9 133.8L385.9 132.8L385.9 132.8L385.9 131.8L388.8 131.8L388.8 130.9L385.9 130.9L385.9 129.9L385.9 129.9L385.9 128.9L388.8 128.9L388.8 127.9L385.9 127.9L385.9 126.9L385.9 126.9L385.9 126.0L385.9 126.0L385.9 125.0L385.9 125.0L385.9 124.0L385.9 124.0L385.9 123.0L385.9 123.0L385.9 122.0L385.9 122.0L385.9 121.0L385.9 121.0L385.9 120.1L385.9 120.1L385.9 119.1L388.8 119.1L388.8 118.1L385.9 118.1" fill="none" stroke="#000" stroke-width="0.8"/></g>
<g opacity="0.5"><path d="M385.9 267.3L388.8 267.3L388.8 266.5L385.9 266.5L385.9 265.7L388.8 265.7L388.8 264.9L388.8 264.9L388.8 264.1L385.9 264.1L385.9 263.2L385.9 263.2L385.9 262.4L391.7 262.4L391.7 261.6L391.7 261.6L391.7 260.8L388.8 260.8L388.8 260.0L391.7 260.0L391.7 259.2L385.9 259.2L385.9 258.4L385.9 258.4L385.9 257.6L388.8 257.6L388.8 256.8L397.5 256.8L397.5 255.9L397.5 255.9L397.5 255.1L400.4 255.1L400.4 254.3L406.2 254.3L406.2 253.5L406.2 253.5L406.2 252.7L409.1 252.7L409.1 251.9L406.2 251.9L406.2 251.1L414.9 251.1L414.9 250.3L414.9 250.3L414.9 249.5L414.9 249.5L414.9 248.6L417.8 248.6L417.8 247.8L429.4 247.8L429.4 247.0L438.1 247.0L438.1 246.2L429.4 246.2L429.4 245.4L458.4 245.4L458.4 244.6L461.3 244.6L461.3 243.8L449.7 243.8L449.7 243.0L449.7 243.0L449.7 242.2L455.5 242.2L455.5 241.3L470.0 241.3L470.0 240.5L458.4 240.5L458.4 239.7L455.5 239.7L455.5 238.9L470.0 238.9L470.0 238.1L446.8 238.1L446.8 237.3L470.0 237.3L470.0 236.5L481.6 236.5L481.6 235.7L470.0 235.7L470.0 234.9L475.8 234.9L475.8 234.0L472.9 234.0L472.9 233.2L478.7 233.2L478.7 232.4L475.8 232.4L475.8 231.6L467.1 231.6L467.1 230.8L467.1 230.8L467.1 230.0L464.2 230.0L464.2 229.2L470.0 229.2L470.0 228.4L470.0 228.4L470.0 227.6L455.5 227.6L455.5 226.8L441.0 226.8L441.0 225.9L438.1 225.9L438.1 225.1L438.1 225.1L438.1 224.3L446.8 224.3L446.8 223.5L432.3 223.5L432.3 222.7L417.8 222.7L417.8 221.9L406.2 221.9L406.2 221.1L406.2 221.1L406.2 220.3L400.4 220.3L400.4 219.5L400.4 219.5L400.4 218.6L400.4 218.6L400.4 217.8L400.4 217.8L400.4 217.0L397.5 217.0L397.5 216.2L397.5 216.2L397.5 215.4L397.5 215.4L397.5 214.6L394.6 214.6L394.6 213.8L391.7 213.8L391.7 213.0L391.7 213.0L391.7 212.2L385.9 212.2L385.9 211.3L394.6 211.3L394.6 210.5L391.7 210.5L391.7 209.7L388.8 209.7L388.8 208.9L385.9 208.9L385.9 208.1L385.9 208.1L385.9 207.3L385.9 207.3L385.9 206.5L385.9 206.5L385.9 205.7L385.9 205.7L385.9 204.9L385.9 204.9L385.9 204.0L385.9 204.0L385.9 203.2L385.9 203.2L385.9 202.4L385.9 202.4L385.9 201.6L385.9 201.6L385.9 200.8L385.9 200.8L385.9 200.0L385.9 200.0L385.9 199.2L385.9 199.2L385.9 198.4L385.9 198.4L385.9 197.6L385.9 197.6L385.9 196.7L385.9 196.7L385.9 195.9L385.9 195.9L385.9 195.1L385.9 195.1L385.9 194.3L385.9 194.3L385.9 193.5L385.9 193.5L385.9 192.7L385.9 192.7L385.9 191.9L385.9 191.9L385.9 191.1L385.9 191.1L385.9 190.3L385.9 190.3L385.9 189.4L385.9 189.4L385.9 188.6L385.9 188.6L385.9 187.8L385.9 187.8L385.9 187.0L388.8 187.0L388.8 186.2L385.9 186.2Z" fill="#0000ff"/><path d="M385.9 267.3L388.8 267.3L388.8 266.5L385.9 266.5L385.9 265.7L388.8 265.7L388.8 264.9L388.8 264.9L388.8 264.1L385.9 264.1L385.9 263.2L385.9 263.2L385.9 262.4L391.7 262.4L391.7 261.6L391.7 261.6L391.7 260.8L388.8 260.8L388.8 260.0L391.7 260.0L391.7 259.2L385.9 259.2L385.9 258.4L385.9 258.4L385.9 257.6L388.8 257.6L388.8 256.8L397.5 256.8L397.5 255.9L397.5 255.9L397.5 255.1L400.4 255.1L400.4 254.3L406.2 254.3L406.2 253.5L406.2 253.5L406.2 252.7L409.1 252.7L409.1 251.9L406.2 251.9L406.2 251.1L414.9 251.1L414.9 250.3L414.9 250.3L414.9 249.5L414.9 249.5L414.9 248.6L417.8 248.6L417.8 247.8L429.4 247.8L429.4 247.0L438.1 247.0L438.1 246.2L429.4 246.2L429.4 245.4L458.4 245.4L458.4 244.6L461.3 244.6L461.3 243.8L449.7 243.8L449.7 243.0L449.7 243.0L449.7 242.2L455.5 242.2L455.5 241.3L470.0 241.3L470.0 240.5L458.4 240.5L458.4 239.7L455.5 239.7L455.5 238.9L470.0 238.9L470.0 238.1L446.8 238.1L446.8 237.3L470.0 237.3L470.0 236.5L481.6 236.5L481.6 235.7L470.0 235.7L470.0 234.9L475.8 234.9L475.8 234.0L472.9 234.0L472.9 233.2L478.7 233.2L478.7 232.4L475.8 232.4L475.8 231.6L467.1 231.6L467.1 230.8L467.1 230.8L467.1 230.0L464.2 230.0L464.2 229.2L470.0 229.2L470.0 228.4L470.0 228.4L470.0 227.6L455.5 227.6L455.5 226.8L441.0 226.8L441.0 225.9L438.1 225.9L438.1 225.1L438.1 225.1L438.1 224.3L446.8 224.3L446.8 223.5L432.3 223.5L432.3 222.7L417.8 222.7L417.8 221.9L406.2 221.9L406.2 221.1L406.2 221.1L406.2 220.3L400.4 220.3L400.4 219.5L400.4 219.5L400.4 218.6L400.4 218.6L400.4 217.8L400.4 217.8L400.4 217.0L397.5 217.0L397.5 216.2L397.5 216.2L397.5 215.4L397.5 215.4L397.5 214.6L394.6 214.6L394.6 213.8L391.7 213.8L391.7 213.0L391.7 213.0L391.7 212.2L385.9 212.2L385.9 211.3L394.6 211.3L394.6 210.5L391.7 210.5L391.7 209.7L388.8 209.7L388.8 208.9L385.9 208.9L385.9 208.1L385.9 208.1L385.9 207.3L385.9 207.3L385.9 206.5L385.9 206.5L385.9 205.7L385.9 205.7L385.9 204.9L385.9 204.9L385.9 204.0L385.9 204.0L385.9 203.2L385.9 203.2L385.9 202.4L385.9 202.4L385.9 201.6L385.9 201.6L385.9 200.8L385.9 200.8L385.9 200.0L385.9 200.0L385.9 199.2L385.9 199.2L385.9 198.4L385.9 198.4L385.9 197.6L385.9 197.6L385.9 196.7L385.9 196.7L385.9 195.9L385.9 195.9L385.9 195.1L385.9 195.1L385.9 194.3L385.9 194.3L385.9 193.5L385.9 193.5L385.9 192.7L385.9 192.7L385.9 191.9L385.9 191.9L385.9 191.1L385.9 191.1L385.9 190.3L385.9 190.3L385.9 189.4L385.9 189.4L385.9 188.6L385.9 188.6L385.9 187.8L385.9 187.8L385.9 187.0L388.8 187.0L388.8 186.2L385.9 186.2" fill="none" stroke="#000" stroke-width="0.8"/></g>
<g opacity="0.5"><path d="M385.9 240.7L388.8 240.7L388.8 239.7L385.9 239.7L385.9 238.7L385.9 238.7L385.9 237.8L388.8 237.8L388.8 236.8L385.9 236.8L385.9 235.8L388.8 235.8L388.8 234.8L385.9 234.8L385.9 233.9L385.9 233.9L385.9 232.9L385.9 232.9L385.9 231.9L394.6 231.9L394.6 230.9L391.7 230.9L391.7 230.0L397.5 230.0L397.5 229.0L391.7 229.0L391.7 228.0L400.4 228.0L400.4 227.0L385.9 227.0L385.9 226.1L394.6 226.1L394.6 225.1L397.5 225.1L397.5 224.1L403.3 224.1L403.3 223.1L403.3 223.1L403.3 222.2L409.1 222.2L409.1 221.2L414.9 221.2L414.9 220.2L412.0 220.2L412.0 219.2L417.8 219.2L417.8 218.3L426.5 218.3L426.5 217.3L429.4 217.3L429.4 216.3L432.3 216.3L432.3 215.3L438.1 215.3L438.1 214.3L441.0 214.3L441.0 213.4L438.1 213.4L438.1 212.4L443.9 212.4L443.9 211.4L458.4 211.4L458.4 210.4L467.1 210.4L467.1 209.5L472.9 209.5L472.9 208.5L452.6 208.5L452.6 207.5L475.8 207.5L475.8 206.5L472.9 206.5L472.9 205.6L467.1 205.6L467.1 204.6L472.9 204.6L472.9 203.6L475.8 203.6L475.8 202.6L487.4 202.6L487.4 201.7L455.5 201.7L455.5 200.7L472.9 200.7L472.9 199.7L464.2 199.7L464.2 198.7L461.3 198.7L461.3 197.8L472.9 197.8L472.9 196.8L464.2 196.8L464.2 195.8L443.9 195.8L443.9 194.8L443.9 194.8L443.9 193.9L443.9 193.9L443.9 192.9L429.4 192.9L429.4 191.9L443.9 191.9L443.9 190.9L435.2 190.9L435.2 189.9L432.3 189.9L432.3 189.0L426.5 189.0L426.5 188.0L426.5 188.0L426.5 187.0L417.8 187.0L417.8 186.0L414.9 186.0L414.9 185.1L423.6 185.1L423.6 184.1L414.9 184.1L414.9 183.1L414.9 183.1L414.9 182.1L412.0 182.1L412.0 181.2L420.7 181.2L420.7 180.2L417.8 180.2L417.8 179.2L409.1 179.2L409.1 178.2L397.5 178.2L397.5 177.3L385.9 177.3L385.9 176.3L385.9 176.3L385.9 175.3L385.9 175.3L385.9 174.3L388.8 174.3L388.8 173.4L385.9 173.4L385.9 172.4L394.6 172.4L394.6 171.4L385.9 171.4L385.9 170.4L385.9 170.4L385.9 169.5L391.7 169.5L391.7 168.5L388.8 168.5L388.8 167.5L385.9 167.5L385.9 166.5L385.9 166.5L385.9 165.5L385.9 165.5L385.9 164.6L385.9 164.6L385.9 163.6L385.9 163.6L385.9 162.6L388.8 162.6L388.8 161.6L385.9 161.6L385.9 160.7L385.9 160.7L385.9 159.7L385.9 159.7L385.9 158.7L385.9 158.7L385.9 157.7L385.9 157.7L385.9 156.8L388.8 156.8L388.8 155.8L385.9 155.8L385.9 154.8L385.9 154.8L385.9 153.8L385.9 153.8L385.9 152.9L385.9 152.9L385.9 151.9L385.9 151.9L385.9 150.9L385.9 150.9L385.9 149.9L385.9 149.9L385.9 149.0L385.9 149.0L385.9 148.0L385.9 148.0L385.9 147.0L385.9 147.0L385.9 146.0L385.9 146.0L385.9 145.1L385.9 145.1L385.9 144.1L388.8 144.1L388.8 143.1L385.9 143.1Z" fill="#bfbf00"/><path d="M385.9 240.7L388.8 240.7L388.8 239.7L385.9 239.7L385.9 238.7L385.9 238.7L385.9 237.8L388.8 237.8L388.8 236.8L385.9 236.8L385.9 235.8L388.8 235.8L388.8 234.8L385.9 234.8L385.9 233.9L385.9 233.9L385.9 232.9L385.9 232.9L385.9 231.9L394.6 231.9L394.6 230.9L391.7 230.9L391.7 230.0L397.5 230.0L397.5 229.0L391.7 229.0L391.7 228.0L400.4 228.0L400.4 227.0L385.9 227.0L385.9 226.1L394.6 226.1L394.6 225.1L397.5 225.1L397.5 224.1L403.3 224.1L403.3 223.1L403.3 223.1L403.3 222.2L409.1 222.2L409.1 221.2L414.9 221.2L414.9 220.2L412.0 220.2L412.0 219.2L417.8 219.2L417.8 218.3L426.5 218.3L426.5 217.3L429.4 217.3L429.4 216.3L432.3 216.3L432.3 215.3L438.1 215.3L438.1 214.3L441.0 214.3L441.0 213.4L438.1 213.4L438.1 212.4L443.9 212.4L443.9 211.4L458.4 211.4L458.4 210.4L467.1 210.4L467.1 209.5L472.9 209.5L472.9 208.5L452.6 208.5L452.6 207.5L475.8 207.5L475.8 206.5L472.9 206.5L472.9 205.6L467.1 205.6L467.1 204.6L472.9 204.6L472.9 203.6L475.8 203.6L475.8 202.6L487.4 202.6L487.4 201.7L455.5 201.7L455.5 200.7L472.9 200.7L472.9 199.7L464.2 199.7L464.2 198.7L461.3 198.7L461.3 197.8L472.9 197.8L472.9 196.8L464.2 196.8L464.2 195.8L443.9 195.8L443.9 194.8L443.9 194.8L443.9 193.9L443.9 193.9L443.9 192.9L429.4 192.9L429.4 191.9L443.9 191.9L443.9 190.9L435.2 190.9L435.2 189.9L432.3 189.9L432.3 189.0L426.5 189.0L426.5 188.0L426.5 188.0L426.5 187.0L417.8 187.0L417.8 186.0L414.9 186.0L414.9 185.1L423.6 185.1L423.6 184.1L414.9 184.1L414.9 183.1L414.9 183.1L414.9 182.1L412.0 182.1L412.0 181.2L420.7 181.2L420.7 180.2L417.8 180.2L417.8 179.2L409.1 179.2L409.1 178.2L397.5 178.2L397.5 177.3L385.9 177.3L385.9 176.3L385.9 176.3L385.9 175.3L385.9 175.3L385.9 174.3L388.8 174.3L388.8 173.4L385.9 173.4L385.9 172.4L394.6 172.4L394.6 171.4L385.9 171.4L385.9 170.4L385.9 170.4L385.9 169.5L391.7 169.5L391.7 168.5L388.8 168.5L388.8 167.5L385.9 167.5L385.9 166.5L385.9 166.5L385.9 165.5L385.9 165.5L385.9 164.6L385.9 164.6L385.9 163.6L385.9 163.6L385.9 162.6L388.8 162.6L388.8 161.6L385.9 161.6L385.9 160.7L385.9 160.7L385.9 159.7L385.9 159.7L385.9 158.7L385.9 158.7L385.9 157.7L385.9 157.7L385.9 156.8L388.8 156.8L388.8 155.8L385.9 155.8L385.9 154.8L385.9 154.8L385.9 153.8L385.9 153.8L385.9 152.9L385.9 152.9L385.9 151.9L385.9 151.9L385.9 150.9L385.9 150.9L385.9 149.9L385.9 149.9L385.9 149.0L385.9 149.0L385.9 148.0L385.9 148.0L385.9 147.0L385.9 147.0L385.9 146.0L385.9 146.0L385.9 145.1L385.9 145.1L385.9 144.1L388.8 144.1L388.8 143.1L385.9 143.1" fill="none" stroke="#000" stroke-width="0.8"/></g>
<g opacity="0.5"><path d="M385.9 166.3L388.8 166.3L388.8 165.1L388.8 165.1L388.8 163.9L388.8 163.9L388.8 162.7L394.6 162.7L394.6 161.5L391.7 161.5L391.7 160.3L397.5 160.3L397.5 159.1L397.5 159.1L397.5 157.9L397.5 157.9L397.5 156.7L400.4 156.7L400.4 155.5L403.3 155.5L403.3 154.3L403.3 154.3L403.3 153.1L406.2 153.1L406.2 151.9L403.3 151.9L403.3 150.7L406.2 150.7L406.2 149.5L403.3 149.5L403.3 148.3L409.1 148.3L409.1 147.1L409.1 147.1L409.1 145.9L420.7 145.9L420.7 144.7L420.7 144.7L420.7 143.5L420.7 143.5L420.7 142.3L420.7 142.3L420.7 141.1L414.9 141.1L414.9 139.9L417.8 139.9L417.8 138.7L417.8 138.7L417.8 137.5L420.7 137.5L420.7 136.4L438.1 136.4L438.1 135.2L446.8 135.2L446.8 134.0L449.7 134.0L449.7 132.8L443.9 132.8L443.9 131.6L429.4 131.6L429.4 130.4L467.1 130.4L467.1 129.2L455.5 129.2L455.5 128.0L455.5 128.0L455.5 126.8L458.4 126.8L458.4 125.6L432.3 125.6L432.3 124.4L458.4 124.4L458.4 123.2L470.0 123.2L470.0 122.0L458.4 122.0L458.4 120.8L449.7 120.8L449.7 119.6L449.7 119.6L449.7 118.4L423.6 118.4L423.6 117.2L443.9 117.2L443.9 116.0L435.2 116.0L435.2 114.8L443.9 114.8L443.9 113.6L452.6 113.6L452.6 112.4L458.4 112.4L458.4 111.2L458.4 111.2L458.4 110.0L429.4 110.0L429.4 108.8L426.5 108.8L426.5 107.6L420.7 107.6L420.7 106.4L432.3 106.4L432.3 105.2L429.4 105.2L429.4 104.0L441.0 104.0L441.0 102.8L426.5 102.8L426.5 101.6L420.7 101.6L420.7 100.4L414.9 100.4L414.9 99.2L414.9 99.2L414.9 98.0L406.2 98.0L406.2 96.8L412.0 96.8L412.0 95.6L409.1 95.6L409.1 94.4L406.2 94.4L406.2 93.2L400.4 93.2L400.4 92.0L397.5 92.0L397.5 90.8L403.3 90.8L403.3 89.6L400.4 89.6L400.4 88.4L403.3 88.4L403.3 87.2L403.3 87.2L403.3 86.0L397.5 86.0L397.5 84.8L397.5 84.8L397.5 83.6L397.5 83.6L397.5 82.4L400.4 82.4L400.4 81.2L400.4 81.2L400.4 80.0L397.5 80.0L397.5 78.8L391.7 78.8L391.7 77.6L391.7 77.6L391.7 76.5L394.6 76.5L394.6 75.3L385.9 75.3L385.9 74.1L388.8 74.1L388.8 72.9L400.4 72.9L400.4 71.7L388.8 71.7L388.8 70.5L394.6 70.5L394.6 69.3L388.8 69.3L388.8 68.1L388.8 68.1L388.8 66.9L391.7 66.9L391.7 65.7L385.9 65.7L385.9 64.5L385.9 64.5L385.9 63.3L394.6 63.3L394.6 62.1L385.9 62.1L385.9 60.9L391.7 60.9L391.7 59.7L394.6 59.7L394.6 58.5L385.9 58.5L385.9 57.3L385.9 57.3L385.9 56.1L385.9 56.1L385.9 54.9L388.8 54.9L388.8 53.7L385.9 53.7L385.9 52.5L385.9 52.5L385.9 51.3L385.9 51.3L385.9 50.1L385.9 50.1L385.9 48.9L385.9 48.9L385.9 47.7L388.8 47.7L388.8 46.5L385.9 46.5Z" fill="#00bfbf"/><path d="M385.9 166.3L388.8 166.3L388.8 165.1L388.8 165.1L388.8 163.9L388.8 163.9L388.8 162.7L394.6 162.7L394.6 161.5L391.7 161.5L391.7 160.3L397.5 160.3L397.5 159.1L397.5 159.1L397.5 157.9L397.5 157.9L397.5 156.7L400.4 156.7L400.4 155.5L403.3 155.5L403.3 154.3L403.3 154.3L403.3 153.1L406.2 153.1L406.2 151.9L403.3 151.9L403.3 150.7L406.2 150.7L406.2 149.5L403.3 149.5L403.3 148.3L409.1 148.3L409.1 147.1L409.1 147.1L409.1 145.9L420.7 145.9L420.7 144.7L420.7 144.7L420.7 143.5L420.7 143.5L420.7 142.3L420.7 142.3L420.7 141.1L414.9 141.1L414.9 139.9L417.8 139.9L417.8 138.7L417.8 138.7L417.8 137.5L420.7 137.5L420.7 136.4L438.1 136.4L438.1 135.2L446.8 135.2L446.8 134.0L449.7 134.0L449.7 132.8L443.9 132.8L443.9 131.6L429.4 131.6L429.4 130.4L467.1 130.4L467.1 129.2L455.5 129.2L455.5 128.0L455.5 128.0L455.5 126.8L458.4 126.8L458.4 125.6L432.3 125.6L432.3 124.4L458.4 124.4L458.4 123.2L470.0 123.2L470.0 122.0L458.4 122.0L458.4 120.8L449.7 120.8L449.7 119.6L449.7 119.6L449.7 118.4L423.6 118.4L423.6 117.2L443.9 117.2L443.9 116.0L435.2 116.0L435.2 114.8L443.9 114.8L443.9 113.6L452.6 113.6L452.6 112.4L458.4 112.4L458.4 111.2L458.4 111.2L458.4 110.0L429.4 110.0L429.4 108.8L426.5 108.8L426.5 107.6L420.7 107.6L420.7 106.4L432.3 106.4L432.3 105.2L429.4 105.2L429.4 104.0L441.0 104.0L441.0 102.8L426.5 102.8L426.5 101.6L420.7 101.6L420.7 100.4L414.9 100.4L414.9 99.2L414.9 99.2L414.9 98.0L406.2 98.0L406.2 96.8L412.0 96.8L412.0 95.6L409.1 95.6L409.1 94.4L406.2 94.4L406.2 93.2L400.4 93.2L400.4 92.0L397.5 92.0L397.5 90.8L403.3 90.8L403.3 89.6L400.4 89.6L400.4 88.4L403.3 88.4L403.3 87.2L403.3 87.2L403.3 86.0L397.5 86.0L397.5 84.8L397.5 84.8L397.5 83.6L397.5 83.6L397.5 82.4L400.4 82.4L400.4 81.2L400.4 81.2L400.4 80.0L397.5 80.0L397.5 78.8L391.7 78.8L391.7 77.6L391.7 77.6L391.7 76.5L394.6 76.5L394.6 75.3L385.9 75.3L385.9 74.1L388.8 74.1L388.8 72.9L400.4 72.9L400.4 71.7L388.8 71.7L388.8 70.5L394.6 70.5L394.6 69.3L388.8 69.3L388.8 68.1L388.8 68.1L388.8 66.9L391.7 66.9L391.7 65.7L385.9 65.7L385.9 64.5L385.9 64.5L385.9 63.3L394.6 63.3L394.6 62.1L385.9 62.1L385.9 60.9L391.7 60.9L391.7 59.7L394.6 59.7L394.6 58.5L385.9 58.5L385.9 57.3L385.9 57.3L385.9 56.1L385.9 56.1L385.9 54.9L388.8 54.9L388.8 53.7L385.9 53.7L385.9 52.5L385.9 52.5L385.9 51.3L385.9 51.3L385.9 50.1L385.9 50.1L385.9 48.9L385.9 48.9L385.9 47.7L388.8 47.7L388.8 46.5L385.9 46.5" fill="none" stroke="#000" stroke-width="0.8"/></g>
<rect x="31.0" y="12.95" width="292.30" height="300.45" fill="none" stroke="#000" stroke-opacity="0.78" stroke-width="1"/>
<path d="M31.0 313.2h4M323.3 313.2h-4M385.85 313.2h4M676.0 313.2h-4M31.0 263.2h4M323.3 263.2h-4M385.85 263.2h4M676.0 263.2h-4M31.0 213.2h4M323.3 213.2h-4M385.85 213.2h4M676.0 213.2h-4M31.0 163.2h4M323.3 163.2h-4M385.85 163.2h4M676.0 163.2h-4M31.0 113.2h4M323.3 113.2h-4M385.85 113.2h4M676.0 113.2h-4M31.0 63.2h4M323.3 63.2h-4M385.85 63.2h4M676.0 63.2h-4M31.0 13.2h4M323.3 13.2h-4M385.85 13.2h4M676.0 13.2h-4M60.2 313.4v-4M60.2 12.95v4M118.7 313.4v-4M118.7 12.95v4M177.2 313.4v-4M177.2 12.95v4M235.6 313.4v-4M235.6 12.95v4M294.1 313.4v-4M294.1 12.95v4M385.9 312.8v-4M385.9 13.9v4M443.9 312.8v-4M443.9 13.9v4M501.9 312.8v-4M501.9 13.9v4M559.9 312.8v-4M559.9 13.9v4M618.0 312.8v-4M618.0 13.9v4M676.0 312.8v-4M676.0 13.9v4" stroke="#000" stroke-opacity="0.6" stroke-width="0.6" fill="none"/>
<rect x="573.8" y="19.3" width="96.6" height="84.5" fill="#fff" stroke="#000" stroke-opacity="0.8" stroke-width="1"/>
<g opacity="0.3"><rect x="579" y="24.9" width="21.6" height="7.9" fill="#ff0000" stroke="#000" stroke-width="0.8"/></g>
<text x="610" y="32.8" class="lg" textLength="56.4" lengthAdjust="spacingAndGlyphs">This Study</text>
<g opacity="0.5"><rect x="579" y="41.1" width="21.6" height="7.9" fill="#008000" stroke="#000" stroke-width="0.8"/></g>
<text x="610" y="49.0" class="lg" textLength="35.4" lengthAdjust="spacingAndGlyphs">Scen 1</text>
<g opacity="0.5"><rect x="579" y="57.4" width="21.6" height="7.9" fill="#0000ff" stroke="#000" stroke-width="0.8"/></g>
<text x="610" y="65.3" class="lg" textLength="35.4" lengthAdjust="spacingAndGlyphs">Scen 2</text>
<g opacity="0.5"><rect x="579" y="73.6" width="21.6" height="7.9" fill="#bfbf00" stroke="#000" stroke-width="0.8"/></g>
<text x="610" y="81.5" class="lg" textLength="35.4" lengthAdjust="spacingAndGlyphs">Scen 3</text>
<g opacity="0.5"><rect x="579" y="89.9" width="21.6" height="7.9" fill="#00bfbf" stroke="#000" stroke-width="0.8"/></g>
<text x="610" y="97.8" class="lg" textLength="35.4" lengthAdjust="spacingAndGlyphs">Scen 4</text>
<text x="177.1" y="9.9" class="ti" text-anchor="middle" textLength="87" lengthAdjust="spacingAndGlyphs">Global Warming</text>
<text x="531.3" y="9.9" class="ti" text-anchor="middle" textLength="87" lengthAdjust="spacingAndGlyphs">Global Warming</text>
<text x="28.3" y="316.6" class="tk" text-anchor="end">0.5</text>
<text x="383" y="316.6" class="tk" text-anchor="end">0.5</text>
<text x="28.3" y="266.6" class="tk" text-anchor="end">1.0</text>
<text x="383" y="266.6" class="tk" text-anchor="end">1.0</text>
<text x="28.3" y="216.6" class="tk" text-anchor="end">1.5</text>
<text x="383" y="216.6" class="tk" text-anchor="end">1.5</text>
<text x="28.3" y="166.6" class="tk" text-anchor="end">2.0</text>
<text x="383" y="166.6" class="tk" text-anchor="end">2.0</text>
<text x="28.3" y="116.6" class="tk" text-anchor="end">2.5</text>
<text x="383" y="116.6" class="tk" text-anchor="end">2.5</text>
<text x="28.3" y="66.6" class="tk" text-anchor="end">3.0</text>
<text x="383" y="66.6" class="tk" text-anchor="end">3.0</text>
<text x="28.3" y="16.6" class="tk" text-anchor="end">3.5</text>
<text x="383" y="16.6" class="tk" text-anchor="end">3.5</text>
<text x="60.2" y="324.1" class="tk" text-anchor="middle" textLength="30.9" lengthAdjust="spacingAndGlyphs">Scen 1</text>
<text x="118.7" y="324.1" class="tk" text-anchor="middle" textLength="30.9" lengthAdjust="spacingAndGlyphs">Scen 2</text>
<text x="177.2" y="324.1" class="tk" text-anchor="middle" textLength="30.9" lengthAdjust="spacingAndGlyphs">Scen 3</text>
<text x="235.6" y="324.1" class="tk" text-anchor="middle" textLength="30.9" lengthAdjust="spacingAndGlyphs">Scen 4</text>
<text x="294.1" y="324.1" class="tk" text-anchor="middle" textLength="47" lengthAdjust="spacingAndGlyphs">This study</text>
<text x="386.2" y="322.6" class="tk" text-anchor="middle" textLength="5.3" lengthAdjust="spacingAndGlyphs">0</text>
<text x="444.2" y="322.6" class="tk" text-anchor="middle" textLength="10.6" lengthAdjust="spacingAndGlyphs">20</text>
<text x="502.2" y="322.6" class="tk" text-anchor="middle" textLength="10.6" lengthAdjust="spacingAndGlyphs">40</text>
<text x="560.2" y="322.6" class="tk" text-anchor="middle" textLength="10.6" lengthAdjust="spacingAndGlyphs">60</text>
<text x="618.3" y="322.6" class="tk" text-anchor="middle" textLength="10.6" lengthAdjust="spacingAndGlyphs">80</text>
<text x="676.3" y="322.6" class="tk" text-anchor="middle" textLength="16.0" lengthAdjust="spacingAndGlyphs">100</text>
<text x="531" y="334" class="tk" text-anchor="middle" textLength="46.6" lengthAdjust="spacingAndGlyphs">Frequency</text>
<text transform="translate(10.1 163) rotate(-90)" class="yl" text-anchor="middle">kg carbon dioxide/kg rapeseed oil</text>
</svg>
</body></html>
